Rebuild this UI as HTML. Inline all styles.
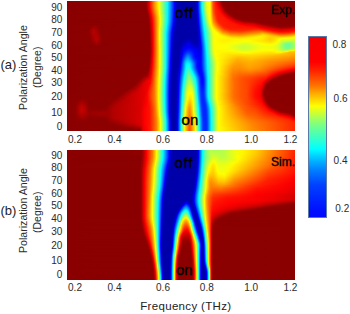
<!DOCTYPE html>
<html><head><meta charset="utf-8"><style>
html,body{margin:0;padding:0;background:#fff}
body{width:350px;height:314px;position:relative;overflow:hidden;font-family:"Liberation Sans",sans-serif;color:#2b2b2b}
.hm{position:absolute;overflow:hidden}
.hm i{position:absolute;left:0;width:100%;display:block}
.ty{position:absolute;width:30px;text-align:right;font-size:10px;line-height:10px;white-space:nowrap}
.tx{position:absolute;width:40px;text-align:center;font-size:10px;line-height:10px;white-space:nowrap}
.cl{position:absolute;font-size:10px;line-height:10px;white-space:nowrap}
.t{position:absolute;white-space:nowrap;line-height:1;color:#111}
.s{color:#000;-webkit-text-stroke:0.35px #000}
.rot{position:absolute;white-space:nowrap;transform-origin:0 0;transform:rotate(-90deg);line-height:1}
#cb{position:absolute;left:308px;top:36px;width:17px;height:180px;border:1px solid #5a78a8;
background:linear-gradient(180deg,#f80000 0px,#ff0000 25.0px,#ff2400 34.0px,#ff7500 49.0px,#ffb300 57.6px,#ffff00 69.0px,#bdff42 78.0px,#80ff80 87.0px,#38ffc7 101.0px,#00ffff 112.0px,#00b2ff 124.0px,#0080ff 133.0px,#0042ff 147.6px,#000fff 174.0px,#0008ff 181.0px)}
</style></head><body>
<div class="hm" style="left:67px;top:1px;width:228px;height:130px"><i style="top:0px;height:1px;background:linear-gradient(90deg,#8a0000 0.5px,#8c0000 78.5px,#970000 79.5px,#d10000 81.5px,#f40000 82.5px,#ff1600 83.5px,#ff9200 87.5px,#fff500 91.5px,#edff12 92.5px,#00fcff 100.5px,#0000fd 107.5px,#0000c0 109.5px,#0000af 110.5px,#0000a8 116.5px,#0000aa 127.5px,#0000b2 128.5px,#0000c8 129.5px,#0000f0 130.5px,#0027ff 131.5px,#00e6ff 134.5px,#21ffde 135.5px,#b6ff49 138.5px,#ddff22 139.5px,#f4ff0b 140.5px,#ffff00 142.5px,#ffe800 143.5px,#ff7200 145.5px,#ff4700 146.5px,#ff1a00 148.5px,#f60000 150.5px,#ca0000 152.5px,#950000 154.5px,#8a0000 156.5px,#8a0000 227.5px)"></i><i style="top:1px;height:1px;background:linear-gradient(90deg,#8a0000 0.5px,#8c0000 78.5px,#970000 79.5px,#d10000 81.5px,#f40000 82.5px,#ff1600 83.5px,#ff9200 87.5px,#fff500 91.5px,#edff12 92.5px,#00fcff 100.5px,#0000fd 107.5px,#0000c0 109.5px,#0000af 110.5px,#0000a8 116.5px,#0000aa 127.5px,#0000b2 128.5px,#0000c8 129.5px,#0000f0 130.5px,#0027ff 131.5px,#00e6ff 134.5px,#21ffde 135.5px,#b6ff49 138.5px,#ddff22 139.5px,#f4ff0b 140.5px,#ffff00 142.5px,#ffe800 143.5px,#ff7200 145.5px,#ff4700 146.5px,#ff1a00 148.5px,#f60000 150.5px,#cb0000 152.5px,#970000 154.5px,#8a0000 156.5px,#8a0000 227.5px)"></i><i style="top:2px;height:1px;background:linear-gradient(90deg,#8a0000 0.5px,#8c0000 78.5px,#970000 79.5px,#d10000 81.5px,#f40000 82.5px,#ff1600 83.5px,#ff9200 87.5px,#fff500 91.5px,#edff12 92.5px,#00fcff 100.5px,#0000fd 107.5px,#0000c0 109.5px,#0000af 110.5px,#0000a8 116.5px,#0000aa 127.5px,#0000b2 128.5px,#0000c8 129.5px,#0000f0 130.5px,#0027ff 131.5px,#00e6ff 134.5px,#21ffde 135.5px,#b6ff49 138.5px,#ddff22 139.5px,#f4ff0b 140.5px,#ffff00 142.5px,#ffe800 143.5px,#ff7200 145.5px,#ff4700 146.5px,#ff1a00 148.5px,#f80000 150.5px,#b40000 153.5px,#9b0000 154.5px,#8a0000 156.5px,#8a0000 227.5px)"></i><i style="top:3px;height:1px;background:linear-gradient(90deg,#8a0000 0.5px,#8c0000 78.5px,#970000 79.5px,#d10000 81.5px,#f30000 82.5px,#ff1600 83.5px,#ff9200 87.5px,#fff500 91.5px,#edff12 92.5px,#00fcff 100.5px,#0000fd 107.5px,#0000c0 109.5px,#0000af 110.5px,#0000a8 117.5px,#0000aa 127.5px,#0000b2 128.5px,#0000c8 129.5px,#0000f0 130.5px,#0027ff 131.5px,#00e6ff 134.5px,#21ffde 135.5px,#b6ff49 138.5px,#ddff22 139.5px,#f4ff0b 140.5px,#ffff00 142.5px,#ffe700 143.5px,#ff7200 145.5px,#ff4700 146.5px,#ff1c00 148.5px,#fd0000 150.5px,#be0000 153.5px,#920000 155.5px,#8a0000 159.5px,#8a0000 227.5px)"></i><i style="top:4px;height:1px;background:linear-gradient(90deg,#8a0000 0.5px,#8c0000 78.5px,#960000 79.5px,#d00000 81.5px,#f30000 82.5px,#ff1600 83.5px,#ff9100 87.5px,#fff400 91.5px,#eeff11 92.5px,#00fcff 100.5px,#0000fd 107.5px,#0000c0 109.5px,#0000af 110.5px,#0000a8 117.5px,#0000aa 127.5px,#0000b1 128.5px,#0000c8 129.5px,#0000f0 130.5px,#0026ff 131.5px,#00e6ff 134.5px,#21ffde 135.5px,#b6ff49 138.5px,#dcff23 139.5px,#f3ff0c 140.5px,#ffff00 142.5px,#ffe700 143.5px,#ff7200 145.5px,#ff4800 146.5px,#ff1e00 148.5px,#ff0400 150.5px,#e10000 152.5px,#9a0000 155.5px,#8a0000 157.5px,#8a0000 227.5px)"></i><i style="top:5px;height:1px;background:linear-gradient(90deg,#8a0000 0.5px,#8c0000 78.5px,#960000 79.5px,#ce0000 81.5px,#f10000 82.5px,#ff1400 83.5px,#ff9000 87.5px,#fff300 91.5px,#efff10 92.5px,#00fcff 100.5px,#0000fd 107.5px,#0000c0 109.5px,#0000af 110.5px,#0000a8 117.5px,#0000aa 127.5px,#0000b1 128.5px,#0000c7 129.5px,#0000ef 130.5px,#0026ff 131.5px,#00e4ff 134.5px,#1fffe0 135.5px,#b5ff4a 138.5px,#dcff23 139.5px,#f3ff0c 140.5px,#ffff00 142.5px,#ffe800 143.5px,#ff7300 145.5px,#ff4800 146.5px,#ff2000 148.5px,#fb0000 151.5px,#bd0000 154.5px,#920000 156.5px,#8a0000 160.5px,#8a0000 227.5px)"></i><i style="top:6px;height:1px;background:linear-gradient(90deg,#8a0000 0.5px,#8c0000 78.5px,#950000 79.5px,#cb0000 81.5px,#ed0000 82.5px,#ff1100 83.5px,#ff8d00 87.5px,#fff200 91.5px,#f0ff0f 92.5px,#00fcff 100.5px,#0000fc 107.5px,#0000c0 109.5px,#0000af 110.5px,#0000a8 117.5px,#0000aa 127.5px,#0000b1 128.5px,#0000c7 129.5px,#0000ee 130.5px,#0024ff 131.5px,#00e2ff 134.5px,#1dffe2 135.5px,#b2ff4d 138.5px,#daff25 139.5px,#f2ff0d 140.5px,#ffff00 142.5px,#ffe800 143.5px,#ff7500 145.5px,#ff4b00 146.5px,#ff2100 148.5px,#ff0300 151.5px,#e00000 153.5px,#9a0000 156.5px,#8a0000 158.5px,#8a0000 227.5px)"></i><i style="top:7px;height:1px;background:linear-gradient(90deg,#8a0000 0.5px,#8b0000 78.5px,#930000 79.5px,#a80000 80.5px,#e90000 82.5px,#ff0c00 83.5px,#ff8a00 87.5px,#fff000 91.5px,#f2ff0d 92.5px,#00fcff 100.5px,#0000fb 107.5px,#0000bf 109.5px,#0000af 110.5px,#0000a8 118.5px,#0000aa 127.5px,#0000b0 128.5px,#0000c5 129.5px,#0000ec 130.5px,#0022ff 131.5px,#00dfff 134.5px,#1affe5 135.5px,#afff50 138.5px,#d8ff27 139.5px,#f2ff0d 140.5px,#ffff00 142.5px,#ffe900 143.5px,#ff7800 145.5px,#ff4d00 146.5px,#ff2300 148.5px,#fb0000 152.5px,#bd0000 155.5px,#920000 157.5px,#8a0000 161.5px,#8a0000 227.5px)"></i><i style="top:8px;height:1px;background:linear-gradient(90deg,#8a0000 0.5px,#8b0000 78.5px,#920000 79.5px,#a40000 80.5px,#ff0600 83.5px,#ff8600 87.5px,#ffed00 91.5px,#f5ff0a 92.5px,#00fbff 100.5px,#001fff 106.5px,#0000fa 107.5px,#0000be 109.5px,#0000af 110.5px,#0000a8 119.5px,#0000a9 127.5px,#0000b0 128.5px,#0000c4 129.5px,#0000eb 130.5px,#0020ff 131.5px,#00dbff 134.5px,#15ffea 135.5px,#acff53 138.5px,#d5ff2a 139.5px,#f0ff0f 140.5px,#ffff00 142.5px,#ffe900 143.5px,#ff7a00 145.5px,#ff5000 146.5px,#ff2400 148.5px,#ff0300 152.5px,#ca0000 155.5px,#9a0000 157.5px,#8a0000 159.5px,#8a0000 227.5px)"></i><i style="top:9px;height:1px;background:linear-gradient(90deg,#8a0000 0.5px,#8b0000 78.5px,#900000 79.5px,#9f0000 80.5px,#ff0000 83.5px,#ff9d00 88.5px,#ffea00 91.5px,#f7ff08 92.5px,#00fbff 100.5px,#001eff 106.5px,#0000f9 107.5px,#0000be 109.5px,#0000ae 110.5px,#0000a8 121.5px,#0000af 128.5px,#0000c2 129.5px,#0000e8 130.5px,#001dff 131.5px,#00d6ff 134.5px,#11ffee 135.5px,#a7ff58 138.5px,#d2ff2d 139.5px,#efff10 140.5px,#ffff00 142.5px,#ffea00 143.5px,#ff7d00 145.5px,#ff5300 146.5px,#ff2600 148.5px,#ff0a00 152.5px,#fb0000 153.5px,#be0000 156.5px,#950000 158.5px,#8a0000 161.5px,#8a0000 227.5px)"></i><i style="top:10px;height:1px;background:linear-gradient(90deg,#8a0000 0.5px,#8e0000 79.5px,#9b0000 80.5px,#d50000 82.5px,#f80000 83.5px,#ff5d00 86.5px,#ffe700 91.5px,#fbff04 92.5px,#00fbff 100.5px,#001cff 106.5px,#0000f8 107.5px,#0000bd 109.5px,#0000a9 111.5px,#0000a9 127.5px,#0000ae 128.5px,#0000c0 129.5px,#0000e6 130.5px,#001aff 131.5px,#00d1ff 134.5px,#0bfff4 135.5px,#a2ff5d 138.5px,#cdff32 139.5px,#edff12 140.5px,#ffff00 142.5px,#ffeb00 143.5px,#ff8000 145.5px,#ff5600 146.5px,#ff2800 148.5px,#ff1000 152.5px,#ff0300 153.5px,#cd0000 156.5px,#a10000 158.5px,#8d0000 160.5px,#8a0000 227.5px)"></i><i style="top:11px;height:1px;background:linear-gradient(90deg,#8a0000 0.5px,#8c0000 79.5px,#960000 80.5px,#ce0000 82.5px,#f00000 83.5px,#ff1300 84.5px,#ff9300 88.5px,#feff01 92.5px,#00fbff 100.5px,#001bff 106.5px,#0000f6 107.5px,#0000bc 109.5px,#0000a9 111.5px,#0000ad 128.5px,#0000be 129.5px,#0000e3 130.5px,#0017ff 131.5px,#00cbff 134.5px,#05fffa 135.5px,#9cff63 138.5px,#c8ff37 139.5px,#e9ff16 140.5px,#ffff00 142.5px,#ffec00 143.5px,#ffbc00 144.5px,#ff8300 145.5px,#ff5900 146.5px,#ff2a00 148.5px,#ff1a00 150.5px,#ff0b00 153.5px,#fc0000 154.5px,#b40000 158.5px,#930000 160.5px,#8a0000 164.5px,#8a0000 227.5px)"></i><i style="top:12px;height:1px;background:linear-gradient(90deg,#8a0000 0.5px,#8b0000 79.5px,#930000 80.5px,#a80000 81.5px,#e80000 83.5px,#ff0b00 84.5px,#ffa900 89.5px,#fffd00 92.5px,#00faff 100.5px,#0019ff 106.5px,#0000f4 107.5px,#0000bb 109.5px,#0000a9 111.5px,#0000ac 128.5px,#0000bc 129.5px,#0000e0 130.5px,#0013ff 131.5px,#00feff 135.5px,#c2ff3d 139.5px,#e5ff1a 140.5px,#f7ff08 141.5px,#ffff00 142.5px,#ffec00 143.5px,#ffbe00 144.5px,#ff8600 145.5px,#ff5c00 146.5px,#ff2d00 148.5px,#ff1b00 150.5px,#ff1100 153.5px,#f90000 155.5px,#c90000 158.5px,#930000 161.5px,#8a0000 165.5px,#8a0000 227.5px)"></i><i style="top:13px;height:1px;background:linear-gradient(90deg,#8a0000 0.5px,#8b0000 79.5px,#910000 80.5px,#a20000 81.5px,#ff0400 84.5px,#ffa500 89.5px,#fffa00 92.5px,#c3ff3c 94.5px,#00faff 100.5px,#0017ff 106.5px,#0000f3 107.5px,#0000ba 109.5px,#0000a9 111.5px,#0000ab 128.5px,#0000ba 129.5px,#0000dd 130.5px,#0010ff 131.5px,#00f8ff 135.5px,#8eff71 138.5px,#e0ff1f 140.5px,#f5ff0a 141.5px,#feff01 142.5px,#ffed00 143.5px,#ffc100 144.5px,#ff8900 145.5px,#ff6000 146.5px,#ff3000 148.5px,#ff1b00 150.5px,#ff1000 154.5px,#f80000 156.5px,#c90000 159.5px,#940000 162.5px,#8a0000 167.5px,#8a0000 227.5px)"></i><i style="top:14px;height:1px;background:linear-gradient(90deg,#8a0000 0.5px,#8f0000 80.5px,#9d0000 81.5px,#fb0000 84.5px,#ffbc00 90.5px,#fff700 92.5px,#e8ff17 93.5px,#1dffe2 99.5px,#00f9ff 100.5px,#0015ff 106.5px,#0000f1 107.5px,#0000b9 109.5px,#0000a9 111.5px,#0000ab 128.5px,#0000b9 129.5px,#0000da 130.5px,#000cff 131.5px,#00f1ff 135.5px,#27ffd8 136.5px,#b5ff4a 139.5px,#dbff24 140.5px,#f3ff0c 141.5px,#feff01 142.5px,#ffef00 143.5px,#ffc400 144.5px,#ff8e00 145.5px,#ff6500 146.5px,#ff3400 148.5px,#ff1c00 150.5px,#ff0f00 155.5px,#f80000 157.5px,#980000 163.5px,#8a0000 167.5px,#8a0000 227.5px)"></i><i style="top:15px;height:1px;background:linear-gradient(90deg,#8a0000 0.5px,#8d0000 80.5px,#980000 81.5px,#d20000 83.5px,#f40000 84.5px,#ff1800 85.5px,#ffb900 90.5px,#fff400 92.5px,#eaff15 93.5px,#1dffe2 99.5px,#00f8ff 100.5px,#0013ff 106.5px,#0000ef 107.5px,#0000b8 109.5px,#0000a9 111.5px,#0000ab 128.5px,#0000b8 129.5px,#0009ff 131.5px,#00ebff 135.5px,#20ffdf 136.5px,#aeff51 139.5px,#d6ff29 140.5px,#f1ff0e 141.5px,#fdff02 142.5px,#fff000 143.5px,#ffc800 144.5px,#ff9300 145.5px,#ff6b00 146.5px,#ff2700 149.5px,#ff1a00 151.5px,#ff0f00 156.5px,#f80000 158.5px,#a00000 164.5px,#8c0000 167.5px,#8a0000 227.5px)"></i><i style="top:16px;height:1px;background:linear-gradient(90deg,#8a0000 0.5px,#8c0000 80.5px,#950000 81.5px,#cc0000 83.5px,#ee0000 84.5px,#ff1200 85.5px,#ffb500 90.5px,#fff100 92.5px,#edff12 93.5px,#1dffe2 99.5px,#00f8ff 100.5px,#0010ff 106.5px,#0000ed 107.5px,#0000b7 109.5px,#0000a9 111.5px,#0000ab 128.5px,#0000b7 129.5px,#0000d5 130.5px,#0005ff 131.5px,#00e5ff 135.5px,#1affe5 136.5px,#d0ff2f 140.5px,#eeff11 141.5px,#fcff03 142.5px,#fff200 143.5px,#ffcc00 144.5px,#ff9900 145.5px,#ff7100 146.5px,#ff2b00 149.5px,#ff1a00 151.5px,#ff1600 156.5px,#f90000 159.5px,#940000 167.5px,#8a0000 173.5px,#8a0000 227.5px)"></i><i style="top:17px;height:1px;background:linear-gradient(90deg,#8a0000 0.5px,#8b0000 80.5px,#930000 81.5px,#a80000 82.5px,#e90000 84.5px,#ff0d00 85.5px,#ffb300 90.5px,#ffef00 92.5px,#eeff11 93.5px,#1dffe2 99.5px,#00f7ff 100.5px,#000eff 106.5px,#0000eb 107.5px,#0000b5 109.5px,#0000a9 111.5px,#0000aa 128.5px,#0000b5 129.5px,#0000d3 130.5px,#0002ff 131.5px,#00dfff 135.5px,#14ffeb 136.5px,#caff35 140.5px,#eaff15 141.5px,#fbff04 142.5px,#fff400 143.5px,#ffd100 144.5px,#ff9f00 145.5px,#ff7700 146.5px,#ff2f00 149.5px,#ff1b00 151.5px,#ff1600 157.5px,#fb0000 160.5px,#c20000 165.5px,#9b0000 168.5px,#8b0000 173.5px,#8a0000 227.5px)"></i><i style="top:18px;height:1px;background:linear-gradient(90deg,#8a0000 0.5px,#8b0000 80.5px,#920000 81.5px,#a50000 82.5px,#e50000 84.5px,#ff0900 85.5px,#ffb100 90.5px,#ffee00 92.5px,#efff10 93.5px,#1cffe3 99.5px,#00f6ff 100.5px,#000cff 106.5px,#0000e8 107.5px,#0000b4 109.5px,#0000a9 111.5px,#0000aa 128.5px,#0000b4 129.5px,#0000d0 130.5px,#0000fd 131.5px,#00d9ff 135.5px,#0efff1 136.5px,#c3ff3c 140.5px,#e5ff1a 141.5px,#f8ff07 142.5px,#fff600 143.5px,#ffd500 144.5px,#ff7d00 146.5px,#ff3400 149.5px,#ff1c00 151.5px,#ff1100 159.5px,#f80000 162.5px,#9f0000 170.5px,#8c0000 175.5px,#8a0000 227.5px)"></i><i style="top:19px;height:1px;background:linear-gradient(90deg,#8a0000 0.5px,#8b0000 80.5px,#910000 81.5px,#a20000 82.5px,#ff0600 85.5px,#ffb000 90.5px,#ffee00 92.5px,#efff10 93.5px,#1bffe4 99.5px,#00f5ff 100.5px,#0009ff 106.5px,#0000c8 108.5px,#0000b3 109.5px,#0000a8 111.5px,#0000aa 128.5px,#0000b3 129.5px,#0000ce 130.5px,#0000fa 131.5px,#00d4ff 135.5px,#08fff7 136.5px,#bbff44 140.5px,#dfff20 141.5px,#f6ff09 142.5px,#fff800 143.5px,#ffda00 144.5px,#ff8400 146.5px,#ff3c00 149.5px,#ff1f00 151.5px,#ff1300 160.5px,#fe0000 163.5px,#980000 174.5px,#8d0000 182.5px,#8a0000 227.5px)"></i><i style="top:20px;height:1px;background:linear-gradient(90deg,#8a0000 0.5px,#8b0000 80.5px,#900000 81.5px,#a00000 82.5px,#ff0300 85.5px,#ffaf00 90.5px,#ffee00 92.5px,#efff10 93.5px,#19ffe6 99.5px,#00f3ff 100.5px,#0006ff 106.5px,#0000c6 108.5px,#0000b2 109.5px,#0000a8 112.5px,#0000aa 128.5px,#0000b2 129.5px,#0000cb 130.5px,#0000f7 131.5px,#002cff 132.5px,#03fffc 136.5px,#b3ff4c 140.5px,#d8ff27 141.5px,#f2ff0d 142.5px,#fffb00 143.5px,#ffdf00 144.5px,#ff8d00 146.5px,#ff3300 150.5px,#ff1d00 152.5px,#ff1200 162.5px,#fc0000 165.5px,#a20000 176.5px,#8a0000 194.5px,#8a0000 227.5px)"></i><i style="top:21px;height:1px;background:linear-gradient(90deg,#8a0000 0.5px,#8a0000 80.5px,#8f0000 81.5px,#9e0000 82.5px,#ff0100 85.5px,#ffaf00 90.5px,#ffef00 92.5px,#eeff11 93.5px,#17ffe8 99.5px,#00f0ff 100.5px,#0002ff 106.5px,#0000c4 108.5px,#0000b1 109.5px,#0000a8 112.5px,#0000aa 128.5px,#0000b1 129.5px,#0000c9 130.5px,#0000f3 131.5px,#0028ff 132.5px,#00fdff 136.5px,#d0ff2f 141.5px,#edff12 142.5px,#ffff00 143.5px,#ffe500 144.5px,#ff9700 146.5px,#ff3e00 150.5px,#ff2100 152.5px,#ff1900 159.5px,#ff1100 164.5px,#f50000 168.5px,#bb0000 177.5px,#a10000 187.5px,#8b0000 194.5px,#8a0000 227.5px)"></i><i style="top:22px;height:1px;background:linear-gradient(90deg,#8a0000 0.5px,#8e0000 81.5px,#9c0000 82.5px,#d90000 84.5px,#fe0000 85.5px,#ffcf00 91.5px,#fff000 92.5px,#edff12 93.5px,#14ffeb 99.5px,#00ecff 100.5px,#0022ff 105.5px,#0000fc 106.5px,#0000c1 108.5px,#0000b0 109.5px,#0000a8 113.5px,#0000a9 128.5px,#0000b0 129.5px,#0000c6 130.5px,#0000ef 131.5px,#0023ff 132.5px,#00f7ff 136.5px,#4effb1 138.5px,#c6ff39 141.5px,#e5ff1a 142.5px,#fbff04 143.5px,#ffeb00 144.5px,#ffa400 146.5px,#ff3700 151.5px,#ff1f00 153.5px,#ff1100 166.5px,#fb0000 170.5px,#d60000 177.5px,#c30000 186.5px,#960000 193.5px,#8a0000 205.5px,#8a0000 227.5px)"></i><i style="top:23px;height:1px;background:linear-gradient(90deg,#8a0000 0.5px,#8a0000 31.5px,#8d0000 81.5px,#9a0000 82.5px,#d70000 84.5px,#fb0000 85.5px,#fff100 92.5px,#ebff14 93.5px,#10ffef 99.5px,#00e7ff 100.5px,#001dff 105.5px,#0000f7 106.5px,#0000be 108.5px,#0000a9 110.5px,#0000a9 128.5px,#0000af 129.5px,#0000c3 130.5px,#0000eb 131.5px,#001fff 132.5px,#00f1ff 136.5px,#1fffe0 137.5px,#dcff23 142.5px,#f6ff09 143.5px,#fff100 144.5px,#ff9900 147.5px,#ff3400 152.5px,#ff1b00 155.5px,#ff1300 168.5px,#fb0000 173.5px,#e80000 180.5px,#d70000 187.5px,#9e0000 196.5px,#8b0000 205.5px,#8b0000 227.5px)"></i><i style="top:24px;height:1px;background:linear-gradient(90deg,#8a0000 0.5px,#8e0000 24.5px,#920000 28.5px,#8a0000 36.5px,#8d0000 81.5px,#980000 82.5px,#d40000 84.5px,#f90000 85.5px,#ffd100 91.5px,#fff300 92.5px,#e9ff16 93.5px,#0bfff4 99.5px,#00e2ff 100.5px,#0017ff 105.5px,#0000f2 106.5px,#0000bb 108.5px,#0000a9 110.5px,#0000ae 129.5px,#0000c0 130.5px,#0000e7 131.5px,#001aff 132.5px,#00ecff 136.5px,#19ffe6 137.5px,#d2ff2d 142.5px,#efff10 143.5px,#fff700 144.5px,#ff9000 148.5px,#ff3300 153.5px,#ff1b00 156.5px,#ff1200 171.5px,#fd0000 178.5px,#ec0000 187.5px,#930000 204.5px,#8b0000 220.5px,#910000 227.5px)"></i><i style="top:25px;height:1px;background:linear-gradient(90deg,#8a0000 0.5px,#8e0000 23.5px,#9b0000 27.5px,#8a0000 33.5px,#8c0000 81.5px,#970000 82.5px,#d20000 84.5px,#f70000 85.5px,#ff4300 87.5px,#fff400 92.5px,#e7ff18 93.5px,#06fff9 99.5px,#008aff 102.5px,#0011ff 105.5px,#0000ed 106.5px,#0000b8 108.5px,#0000a9 110.5px,#0000ad 129.5px,#0000bd 130.5px,#0000e2 131.5px,#0015ff 132.5px,#00e6ff 136.5px,#13ffec 137.5px,#e6ff19 143.5px,#feff01 144.5px,#ff7800 150.5px,#ff2800 155.5px,#ff1a00 158.5px,#ff1100 175.5px,#f90000 188.5px,#ad0000 203.5px,#900000 211.5px,#960000 223.5px,#a30000 227.5px)"></i><i style="top:26px;height:1px;background:linear-gradient(90deg,#8a0000 0.5px,#8c0000 22.5px,#a20000 27.5px,#8a0000 32.5px,#8c0000 81.5px,#960000 82.5px,#d00000 84.5px,#f50000 85.5px,#ff1c00 86.5px,#fff600 92.5px,#c1ff3e 94.5px,#01fffe 99.5px,#000aff 105.5px,#0000e7 106.5px,#0000b5 108.5px,#0000a9 110.5px,#0000ac 129.5px,#0000bb 130.5px,#0000de 131.5px,#0010ff 132.5px,#00e1ff 136.5px,#0dfff2 137.5px,#dbff24 143.5px,#f5ff0a 144.5px,#fff500 145.5px,#ff7700 151.5px,#ff2a00 156.5px,#ff1b00 160.5px,#ff0f00 187.5px,#fa0000 192.5px,#b90000 206.5px,#9a0000 214.5px,#a70000 222.5px,#bf0000 227.5px)"></i><i style="top:27px;height:1px;background:linear-gradient(90deg,#8a0000 0.5px,#8d0000 22.5px,#a90000 26.5px,#9e0000 29.5px,#8b0000 32.5px,#8c0000 81.5px,#950000 82.5px,#ce0000 84.5px,#f30000 85.5px,#ff1a00 86.5px,#fff800 92.5px,#9bff64 95.5px,#00fbff 99.5px,#0004ff 105.5px,#0000c6 107.5px,#0000b2 108.5px,#0000a8 111.5px,#0000ab 129.5px,#0000b9 130.5px,#0000db 131.5px,#000bff 132.5px,#00dbff 136.5px,#08fff7 137.5px,#d1ff2e 143.5px,#feff01 145.5px,#ff6700 153.5px,#ff2f00 157.5px,#ff1b00 163.5px,#ff1a00 190.5px,#fb0000 197.5px,#b40000 214.5px,#c40000 222.5px,#da0000 227.5px)"></i><i style="top:28px;height:1px;background:linear-gradient(90deg,#8a0000 0.5px,#8e0000 22.5px,#b00000 26.5px,#a30000 29.5px,#8c0000 32.5px,#8c0000 81.5px,#950000 82.5px,#ac0000 83.5px,#f10000 85.5px,#ff1900 86.5px,#fffa00 92.5px,#72ff8d 96.5px,#21ffde 98.5px,#00f6ff 99.5px,#0024ff 104.5px,#0000fd 105.5px,#0000c2 107.5px,#0000b1 108.5px,#0000a8 112.5px,#0000ab 129.5px,#0000b8 130.5px,#0006ff 132.5px,#00d6ff 136.5px,#03fffc 137.5px,#e3ff1c 144.5px,#f7ff08 145.5px,#ffee00 147.5px,#ff6a00 154.5px,#ff4200 157.5px,#ff2200 163.5px,#ff2100 179.5px,#ff3200 191.5px,#fa0000 202.5px,#d10000 214.5px,#e10000 223.5px,#ee0000 227.5px)"></i><i style="top:29px;height:1px;background:linear-gradient(90deg,#8a0000 0.5px,#8b0000 21.5px,#b40000 26.5px,#a70000 29.5px,#8b0000 33.5px,#8b0000 81.5px,#940000 82.5px,#aa0000 83.5px,#f00000 85.5px,#ff1700 86.5px,#fffc00 92.5px,#6fff90 96.5px,#1dffe2 98.5px,#00f1ff 99.5px,#001eff 104.5px,#0000f8 105.5px,#0000bf 107.5px,#0000a9 109.5px,#0000ab 129.5px,#0000b7 130.5px,#0000d4 131.5px,#0001ff 132.5px,#00d1ff 136.5px,#00feff 137.5px,#dbff24 144.5px,#f1ff0e 145.5px,#fffa00 147.5px,#ffc700 150.5px,#ff6e00 155.5px,#ff3b00 161.5px,#ff2a00 167.5px,#ff2b00 176.5px,#ff5000 192.5px,#ff2d00 198.5px,#ff0000 206.5px,#e80000 214.5px,#f90000 224.5px,#ff0400 227.5px)"></i><i style="top:30px;height:1px;background:linear-gradient(90deg,#8a0000 0.5px,#8b0000 21.5px,#b70000 26.5px,#aa0000 29.5px,#8b0000 33.5px,#8b0000 81.5px,#940000 82.5px,#a90000 83.5px,#ef0000 85.5px,#ff1600 86.5px,#fffe00 92.5px,#43ffbc 97.5px,#19ffe6 98.5px,#00edff 99.5px,#0018ff 104.5px,#0000f3 105.5px,#0000bb 107.5px,#0000a9 109.5px,#0000aa 129.5px,#0000b5 130.5px,#0000d1 131.5px,#0000fb 132.5px,#00f9ff 137.5px,#b6ff49 143.5px,#ecff13 145.5px,#feff01 147.5px,#ffef00 149.5px,#ff8300 155.5px,#ff4600 163.5px,#ff3a00 174.5px,#ff7000 194.5px,#ff1400 207.5px,#fd0000 213.5px,#ff0800 222.5px,#ff1f00 227.5px)"></i><i style="top:31px;height:1px;background:linear-gradient(90deg,#8a0000 0.5px,#8b0000 21.5px,#b70000 26.5px,#ad0000 29.5px,#8c0000 33.5px,#8b0000 81.5px,#930000 82.5px,#a80000 83.5px,#ee0000 85.5px,#ff1500 86.5px,#ffff00 92.5px,#41ffbe 97.5px,#16ffe9 98.5px,#00e9ff 99.5px,#0013ff 104.5px,#0000ee 105.5px,#0000b8 107.5px,#0000a9 109.5px,#0000aa 129.5px,#0000b4 130.5px,#0000ce 131.5px,#0000f7 132.5px,#0029ff 133.5px,#00f4ff 137.5px,#1affe5 138.5px,#e7ff18 145.5px,#f7ff08 146.5px,#fffc00 149.5px,#ffe100 151.5px,#ff9b00 155.5px,#ff5e00 163.5px,#ff5000 173.5px,#ff8200 191.5px,#ff9300 195.5px,#ff2900 209.5px,#ff1700 214.5px,#ff2500 222.5px,#ff4300 227.5px)"></i><i style="top:32px;height:1px;background:linear-gradient(90deg,#8a0000 0.5px,#8b0000 21.5px,#b60000 26.5px,#af0000 29.5px,#8b0000 34.5px,#8b0000 81.5px,#930000 82.5px,#a70000 83.5px,#ed0000 85.5px,#ff1500 86.5px,#feff01 92.5px,#69ff96 96.5px,#13ffec 98.5px,#00e7ff 99.5px,#000fff 104.5px,#0000ea 105.5px,#0000b6 107.5px,#0000a9 109.5px,#0000aa 129.5px,#0000b3 130.5px,#0000cb 131.5px,#0000f3 132.5px,#0024ff 133.5px,#00f0ff 137.5px,#16ffe9 138.5px,#e3ff1c 145.5px,#f5ff0a 146.5px,#fffe00 150.5px,#ffab00 156.5px,#ff7700 163.5px,#ff6a00 174.5px,#ff9d00 191.5px,#ffb600 195.5px,#ff9f00 199.5px,#ff4200 211.5px,#ff3b00 216.5px,#ff4b00 222.5px,#ff6d00 227.5px)"></i><i style="top:33px;height:1px;background:linear-gradient(90deg,#8a0000 0.5px,#8f0000 22.5px,#b30000 26.5px,#b10000 29.5px,#8b0000 34.5px,#8b0000 81.5px,#920000 82.5px,#a60000 83.5px,#ec0000 85.5px,#ff1400 86.5px,#fdff02 92.5px,#68ff97 96.5px,#12ffed 98.5px,#00e5ff 99.5px,#000bff 104.5px,#0000e6 105.5px,#0000b4 107.5px,#0000a8 109.5px,#0000aa 129.5px,#0000b2 130.5px,#0000c9 131.5px,#0000ef 132.5px,#001fff 133.5px,#00ebff 137.5px,#12ffed 138.5px,#e0ff1f 145.5px,#f4ff0b 146.5px,#fdff02 148.5px,#fffe00 151.5px,#ffac00 159.5px,#ff9100 163.5px,#ff8400 174.5px,#ffb900 191.5px,#ffd500 196.5px,#ff6700 212.5px,#ff6700 217.5px,#ff7d00 223.5px,#ff9800 227.5px)"></i><i style="top:34px;height:1px;background:linear-gradient(90deg,#8a0000 0.5px,#8e0000 22.5px,#b40000 27.5px,#ad0000 30.5px,#8c0000 34.5px,#8b0000 81.5px,#920000 82.5px,#a50000 83.5px,#ec0000 85.5px,#ff1400 86.5px,#fdff02 92.5px,#68ff97 96.5px,#11ffee 98.5px,#00e4ff 99.5px,#0008ff 104.5px,#0000c6 106.5px,#0000b2 107.5px,#0000a8 110.5px,#0000aa 129.5px,#0000b1 130.5px,#0000c6 131.5px,#0000eb 132.5px,#001aff 133.5px,#00e6ff 137.5px,#0efff1 138.5px,#deff21 145.5px,#f3ff0c 146.5px,#fdff02 148.5px,#fffa00 153.5px,#ffac00 163.5px,#ff9d00 173.5px,#ffd600 191.5px,#ffe600 196.5px,#ff9000 213.5px,#ff9c00 221.5px,#ffc100 227.5px)"></i><i style="top:35px;height:1px;background:linear-gradient(90deg,#8a0000 0.5px,#8d0000 22.5px,#b30000 27.5px,#b00000 30.5px,#8c0000 34.5px,#8b0000 81.5px,#910000 82.5px,#a40000 83.5px,#eb0000 85.5px,#ff1400 86.5px,#fdff02 92.5px,#68ff97 96.5px,#11ffee 98.5px,#00e3ff 99.5px,#0005ff 104.5px,#0000c4 106.5px,#0000b1 107.5px,#0000a8 110.5px,#0000aa 129.5px,#0000b1 130.5px,#0000c4 131.5px,#0000e7 132.5px,#0015ff 133.5px,#00e1ff 137.5px,#0afff5 138.5px,#dcff23 145.5px,#f2ff0d 146.5px,#feff01 148.5px,#fff900 155.5px,#ffc500 164.5px,#ffbb00 174.5px,#fff000 193.5px,#ffe500 197.5px,#ffcd00 203.5px,#ffc400 210.5px,#ffb900 215.5px,#ffcf00 223.5px,#ffe600 227.5px)"></i><i style="top:36px;height:1px;background:linear-gradient(90deg,#8a0000 0.5px,#8c0000 22.5px,#b60000 28.5px,#aa0000 31.5px,#8d0000 34.5px,#8b0000 81.5px,#910000 82.5px,#a30000 83.5px,#eb0000 85.5px,#ff1400 86.5px,#feff01 92.5px,#68ff97 96.5px,#11ffee 98.5px,#00e3ff 99.5px,#0003ff 104.5px,#0000c2 106.5px,#0000b0 107.5px,#0000a8 111.5px,#0000ab 129.5px,#0000b1 130.5px,#0000c2 131.5px,#0000e3 132.5px,#0010ff 133.5px,#00dcff 137.5px,#07fff8 138.5px,#dbff24 145.5px,#f1ff0e 146.5px,#ffff00 148.5px,#fff200 159.5px,#ffdb00 166.5px,#ffda00 175.5px,#fff100 187.5px,#fff000 194.5px,#ffce00 202.5px,#ffe000 212.5px,#ffed00 222.5px,#fbff04 227.5px)"></i><i style="top:37px;height:1px;background:linear-gradient(90deg,#8a0000 0.5px,#8f0000 23.5px,#b70000 28.5px,#b50000 30.5px,#8d0000 34.5px,#8b0000 81.5px,#910000 82.5px,#a30000 83.5px,#ea0000 85.5px,#ff1400 86.5px,#ffff00 92.5px,#68ff97 96.5px,#11ffee 98.5px,#00e3ff 99.5px,#0001ff 104.5px,#0000c0 106.5px,#0000af 107.5px,#0000a8 113.5px,#0000ad 122.5px,#0000ac 129.5px,#0000b1 130.5px,#0000c1 131.5px,#0000e0 132.5px,#000bff 133.5px,#00d7ff 137.5px,#03fffc 138.5px,#daff25 145.5px,#f1ff0e 146.5px,#fffd00 148.5px,#ffeb00 172.5px,#fff500 186.5px,#ffe900 195.5px,#ffcc00 202.5px,#ffdb00 207.5px,#fffe00 214.5px,#efff10 224.5px,#e6ff19 227.5px)"></i><i style="top:38px;height:1px;background:linear-gradient(90deg,#8a0000 0.5px,#8d0000 23.5px,#b60000 28.5px,#b40000 30.5px,#8d0000 34.5px,#8b0000 81.5px,#900000 82.5px,#a20000 83.5px,#ea0000 85.5px,#ff1300 86.5px,#ffff00 92.5px,#68ff97 96.5px,#11ffee 98.5px,#00e2ff 99.5px,#0000fe 104.5px,#0000be 106.5px,#0000af 107.5px,#0000a9 116.5px,#0000b8 121.5px,#0000ab 126.5px,#0000b2 130.5px,#0000c0 131.5px,#0006ff 133.5px,#00d1ff 137.5px,#00feff 138.5px,#d9ff26 145.5px,#f0ff0f 146.5px,#fdff02 147.5px,#fff200 157.5px,#fffa00 176.5px,#ffea00 194.5px,#ffcd00 202.5px,#ffdb00 207.5px,#faff05 212.5px,#e9ff16 215.5px,#d7ff28 227.5px)"></i><i style="top:39px;height:1px;background:linear-gradient(90deg,#8a0000 0.5px,#8c0000 23.5px,#b50000 29.5px,#8d0000 34.5px,#8b0000 81.5px,#900000 82.5px,#a10000 83.5px,#e90000 85.5px,#ff1300 86.5px,#fffe00 92.5px,#68ff97 96.5px,#11ffee 98.5px,#00e2ff 99.5px,#0027ff 103.5px,#0000fc 104.5px,#0000bc 106.5px,#0000ae 107.5px,#0000aa 116.5px,#0000c3 121.5px,#0000ab 126.5px,#0000b3 130.5px,#0000bf 131.5px,#0000da 132.5px,#0001ff 133.5px,#00f9ff 138.5px,#d8ff27 145.5px,#f0ff0f 146.5px,#fdff02 147.5px,#fff100 156.5px,#fffe00 181.5px,#ffe400 196.5px,#ffd100 203.5px,#ffed00 209.5px,#feff01 211.5px,#dcff23 214.5px,#c9ff36 227.5px)"></i><i style="top:40px;height:1px;background:linear-gradient(90deg,#8a0000 0.5px,#8e0000 24.5px,#b00000 29.5px,#8c0000 34.5px,#8a0000 81.5px,#8f0000 82.5px,#a00000 83.5px,#e90000 85.5px,#ff1300 86.5px,#fffc00 92.5px,#68ff97 96.5px,#11ffee 98.5px,#00e2ff 99.5px,#0026ff 103.5px,#0000fa 104.5px,#0000ba 106.5px,#0000a9 108.5px,#0000ad 116.5px,#0000cf 121.5px,#0000ad 126.5px,#0000b4 130.5px,#0000c0 131.5px,#0000d8 132.5px,#0000fc 133.5px,#005dff 135.5px,#00f5ff 138.5px,#1cffe3 139.5px,#d7ff28 145.5px,#efff10 146.5px,#fdff02 147.5px,#fff200 156.5px,#f9ff06 174.5px,#f9ff06 181.5px,#ffe900 196.5px,#ffd900 203.5px,#fff400 209.5px,#f6ff09 211.5px,#c6ff39 215.5px,#b2ff4d 224.5px,#bdff42 227.5px)"></i><i style="top:41px;height:1px;background:linear-gradient(90deg,#8a0000 0.5px,#8c0000 24.5px,#aa0000 29.5px,#8a0000 35.5px,#8f0000 82.5px,#9f0000 83.5px,#e80000 85.5px,#ff1300 86.5px,#fffb00 92.5px,#68ff97 96.5px,#11ffee 98.5px,#00e1ff 99.5px,#0024ff 103.5px,#0000f8 104.5px,#0000d3 105.5px,#0000b8 106.5px,#0000a9 108.5px,#0000ac 115.5px,#0000da 121.5px,#0000ae 127.5px,#0000b5 130.5px,#0000c0 131.5px,#0000d7 132.5px,#0000f9 133.5px,#0025ff 134.5px,#00f0ff 138.5px,#18ffe7 139.5px,#d6ff29 145.5px,#efff10 146.5px,#fcff03 147.5px,#fff500 156.5px,#f9ff06 169.5px,#ebff14 179.5px,#fffb00 190.5px,#ffe300 203.5px,#fffd00 209.5px,#dfff20 212.5px,#acff53 216.5px,#92ff6d 221.5px,#97ff68 224.5px,#b3ff4c 227.5px)"></i><i style="top:42px;height:1px;background:linear-gradient(90deg,#8a0000 0.5px,#8f0000 25.5px,#a30000 29.5px,#8a0000 35.5px,#8e0000 82.5px,#9e0000 83.5px,#e80000 85.5px,#ff1300 86.5px,#fffa00 92.5px,#68ff97 96.5px,#11ffee 98.5px,#00e1ff 99.5px,#0022ff 103.5px,#0000f6 104.5px,#0000d1 105.5px,#0000b7 106.5px,#0000a9 108.5px,#0000ab 114.5px,#0000e0 120.5px,#0000e0 122.5px,#0000b3 127.5px,#0000b7 130.5px,#0000c2 131.5px,#0000d7 132.5px,#0000f6 133.5px,#0020ff 134.5px,#00ebff 138.5px,#15ffea 139.5px,#d6ff29 145.5px,#eeff11 146.5px,#fcff03 147.5px,#fff800 156.5px,#f8ff07 166.5px,#dfff20 178.5px,#fffe00 193.5px,#ffef00 203.5px,#feff01 208.5px,#d6ff29 212.5px,#8dff72 217.5px,#76ff89 220.5px,#7cff83 223.5px,#aaff55 227.5px)"></i><i style="top:43px;height:1px;background:linear-gradient(90deg,#8a0000 0.5px,#8c0000 25.5px,#9b0000 29.5px,#8a0000 35.5px,#8e0000 82.5px,#9d0000 83.5px,#e70000 85.5px,#ff1300 86.5px,#fff900 92.5px,#91ff6e 95.5px,#10ffef 98.5px,#00e1ff 99.5px,#0021ff 103.5px,#0000f4 104.5px,#0000cf 105.5px,#0000b5 106.5px,#0000a8 108.5px,#0000ae 114.5px,#0000e9 120.5px,#0000e9 122.5px,#0000b5 128.5px,#0000b9 130.5px,#0000d7 132.5px,#0000f4 133.5px,#001cff 134.5px,#00e6ff 138.5px,#11ffee 139.5px,#d5ff2a 145.5px,#edff12 146.5px,#fbff04 147.5px,#fffb00 156.5px,#f1ff0e 166.5px,#d4ff2b 177.5px,#ffff00 197.5px,#fffe00 205.5px,#e5ff1a 210.5px,#9dff62 215.5px,#6cff93 219.5px,#6cff93 222.5px,#a3ff5c 227.5px)"></i><i style="top:44px;height:1px;background:linear-gradient(90deg,#8a0000 0.5px,#8d0000 26.5px,#930000 30.5px,#8a0000 38.5px,#8e0000 82.5px,#9c0000 83.5px,#e70000 85.5px,#ff1300 86.5px,#fff800 92.5px,#b9ff46 94.5px,#10ffef 98.5px,#00e1ff 99.5px,#001fff 103.5px,#0000f2 104.5px,#0000cd 105.5px,#0000b4 106.5px,#0000a8 108.5px,#0000ab 113.5px,#0000e9 119.5px,#0000f3 121.5px,#0000d2 126.5px,#0000bb 129.5px,#0000c6 131.5px,#0000f2 133.5px,#0018ff 134.5px,#00e1ff 138.5px,#0dfff2 139.5px,#b6ff49 144.5px,#edff12 146.5px,#fffe00 148.5px,#f8ff07 161.5px,#cdff32 176.5px,#d9ff26 183.5px,#f7ff08 196.5px,#f7ff08 205.5px,#deff21 210.5px,#71ff8e 218.5px,#66ff99 221.5px,#7cff83 224.5px,#a0ff5f 227.5px)"></i><i style="top:45px;height:1px;background:linear-gradient(90deg,#8a0000 0.5px,#8a0000 33.5px,#8d0000 82.5px,#9c0000 83.5px,#e70000 85.5px,#ff1300 86.5px,#fff700 92.5px,#baff45 94.5px,#10ffef 98.5px,#00e0ff 99.5px,#001dff 103.5px,#0000f0 104.5px,#0000cc 105.5px,#0000b4 106.5px,#0000a8 108.5px,#0000ad 113.5px,#0000e3 117.5px,#0000fa 121.5px,#0000d6 127.5px,#0000c4 130.5px,#0000d9 132.5px,#0000f1 133.5px,#0015ff 134.5px,#00ddff 138.5px,#0afff5 139.5px,#b5ff4a 144.5px,#ecff13 146.5px,#fffe00 148.5px,#f8ff07 160.5px,#caff35 175.5px,#d1ff2e 182.5px,#f1ff0e 194.5px,#f1ff0e 205.5px,#daff25 210.5px,#73ff8c 218.5px,#68ff97 221.5px,#7dff82 224.5px,#9fff60 227.5px)"></i><i style="top:46px;height:1px;background:linear-gradient(90deg,#8a0000 0.5px,#8d0000 82.5px,#9b0000 83.5px,#bc0000 84.5px,#e70000 85.5px,#ff1300 86.5px,#fff700 92.5px,#baff45 94.5px,#10ffef 98.5px,#00e0ff 99.5px,#001cff 103.5px,#0000ef 104.5px,#0000ca 105.5px,#0000b3 106.5px,#0000a8 108.5px,#0000aa 112.5px,#0000c0 114.5px,#0000e3 116.5px,#0001ff 121.5px,#0000dc 128.5px,#0000ce 130.5px,#0000db 132.5px,#0000f1 133.5px,#0013ff 134.5px,#00d8ff 138.5px,#06fff9 139.5px,#b3ff4c 144.5px,#ebff14 146.5px,#fffe00 148.5px,#f8ff07 160.5px,#c9ff36 175.5px,#d1ff2e 182.5px,#f1ff0e 194.5px,#f0ff0f 205.5px,#daff25 210.5px,#78ff87 218.5px,#6fff90 221.5px,#83ff7c 224.5px,#a3ff5c 227.5px)"></i><i style="top:47px;height:1px;background:linear-gradient(90deg,#8a0000 0.5px,#8d0000 82.5px,#9b0000 83.5px,#bc0000 84.5px,#e60000 85.5px,#ff1200 86.5px,#fff600 92.5px,#e2ff1d 93.5px,#10ffef 98.5px,#00e0ff 99.5px,#001aff 103.5px,#0000ec 104.5px,#0000c8 105.5px,#0000b2 106.5px,#0000a8 108.5px,#0000ac 112.5px,#0000c7 114.5px,#0000ec 116.5px,#0001ff 119.5px,#0006ff 122.5px,#0000e8 128.5px,#0000d7 131.5px,#0000de 132.5px,#0000f1 133.5px,#0011ff 134.5px,#00a3ff 137.5px,#03fffc 139.5px,#b2ff4d 144.5px,#eaff15 146.5px,#faff05 147.5px,#fffe00 156.5px,#eaff15 166.5px,#ccff33 175.5px,#d4ff2b 182.5px,#f4ff0b 194.5px,#f2ff0d 205.5px,#deff21 210.5px,#81ff7e 218.5px,#7cff83 221.5px,#afff50 227.5px)"></i><i style="top:48px;height:1px;background:linear-gradient(90deg,#8a0000 0.5px,#8d0000 82.5px,#9b0000 83.5px,#bb0000 84.5px,#e60000 85.5px,#ff1200 86.5px,#fff600 92.5px,#e2ff1d 93.5px,#10ffef 98.5px,#00dfff 99.5px,#0018ff 103.5px,#0000ea 104.5px,#0000c7 105.5px,#0000b1 106.5px,#0000a8 109.5px,#0000ad 112.5px,#0000ce 114.5px,#0000f4 116.5px,#0004ff 118.5px,#0011ff 121.5px,#0000fb 126.5px,#0000dd 131.5px,#0000e1 132.5px,#0000f2 133.5px,#0010ff 134.5px,#006dff 136.5px,#00ffff 139.5px,#90ff6f 143.5px,#e9ff16 146.5px,#f9ff06 147.5px,#fffa00 155.5px,#f3ff0c 165.5px,#d2ff2d 176.5px,#deff21 183.5px,#fbff04 195.5px,#f8ff07 205.5px,#e4ff1b 210.5px,#92ff6d 218.5px,#95ff6a 220.5px,#d3ff2c 227.5px)"></i><i style="top:49px;height:1px;background:linear-gradient(90deg,#8a0000 0.5px,#8d0000 82.5px,#9b0000 83.5px,#bc0000 84.5px,#e60000 85.5px,#ff1300 86.5px,#fff600 92.5px,#e2ff1d 93.5px,#10ffef 98.5px,#00dfff 99.5px,#0016ff 103.5px,#0000e8 104.5px,#0000c5 105.5px,#0000b1 106.5px,#0000a8 109.5px,#0000af 112.5px,#0000d3 114.5px,#0000fa 116.5px,#001cff 121.5px,#0000fc 127.5px,#0000e2 131.5px,#0000e4 132.5px,#0000f3 133.5px,#0010ff 134.5px,#006bff 136.5px,#00fcff 139.5px,#adff52 144.5px,#e7ff18 146.5px,#f9ff06 147.5px,#fff800 151.5px,#faff05 165.5px,#dcff23 177.5px,#fffc00 194.5px,#fffd00 205.5px,#edff12 210.5px,#baff45 216.5px,#c0ff3f 219.5px,#ffff00 224.5px,#fff100 227.5px)"></i><i style="top:50px;height:1px;background:linear-gradient(90deg,#8a0000 0.5px,#8d0000 82.5px,#9b0000 83.5px,#bc0000 84.5px,#e70000 85.5px,#ff1300 86.5px,#fff600 92.5px,#e2ff1d 93.5px,#10ffef 98.5px,#00deff 99.5px,#0014ff 103.5px,#0000e6 104.5px,#0000c4 105.5px,#0000b0 106.5px,#0000a8 110.5px,#0000b0 112.5px,#0000d7 114.5px,#0002ff 116.5px,#0027ff 120.5px,#0026ff 122.5px,#0000ff 127.5px,#0000e6 131.5px,#0000e7 132.5px,#0000f4 133.5px,#0010ff 134.5px,#0069ff 136.5px,#00f9ff 139.5px,#c9ff36 145.5px,#f8ff07 147.5px,#fff900 150.5px,#fff900 164.5px,#f2ff0d 172.5px,#ecff13 180.5px,#fffb00 189.5px,#ffef00 203.5px,#f8ff07 210.5px,#e3ff1c 215.5px,#fffb00 219.5px,#ffd300 223.5px,#ffc800 227.5px)"></i><i style="top:51px;height:1px;background:linear-gradient(90deg,#8a0000 0.5px,#8d0000 82.5px,#9c0000 83.5px,#e80000 85.5px,#ff1400 86.5px,#fff600 92.5px,#e2ff1d 93.5px,#10ffef 98.5px,#00deff 99.5px,#0011ff 103.5px,#0000e4 104.5px,#0000c2 105.5px,#0000af 106.5px,#0000aa 111.5px,#0000b1 112.5px,#0000db 114.5px,#0000f4 115.5px,#0008ff 116.5px,#0038ff 120.5px,#0036ff 122.5px,#0002ff 127.5px,#0000ea 132.5px,#0000f5 133.5px,#0010ff 134.5px,#0067ff 136.5px,#00f6ff 139.5px,#42ffbd 141.5px,#e1ff1e 146.5px,#f6ff09 147.5px,#fffa00 149.5px,#fff000 162.5px,#f9ff06 178.5px,#fff300 188.5px,#ffe400 203.5px,#fff700 213.5px,#ffbe00 222.5px,#ffb800 227.5px)"></i><i style="top:52px;height:1px;background:linear-gradient(90deg,#8a0000 0.5px,#8e0000 82.5px,#9d0000 83.5px,#e90000 85.5px,#ff1500 86.5px,#fff600 92.5px,#e2ff1d 93.5px,#0ffff0 98.5px,#00deff 99.5px,#000fff 103.5px,#0000e2 104.5px,#0000c0 105.5px,#0000af 106.5px,#0000aa 111.5px,#0000b1 112.5px,#0000df 114.5px,#0000f9 115.5px,#0041ff 119.5px,#004dff 121.5px,#002aff 124.5px,#0004ff 127.5px,#0000ec 132.5px,#0000f7 133.5px,#0010ff 134.5px,#0066ff 136.5px,#00f3ff 139.5px,#1bffe4 140.5px,#c0ff3f 145.5px,#f3ff0c 147.5px,#ffff00 148.5px,#ffec00 158.5px,#ffed00 172.5px,#fff300 181.5px,#ffd900 203.5px,#ffdf00 210.5px,#ffb500 221.5px,#ffaf00 227.5px)"></i><i style="top:53px;height:1px;background:linear-gradient(90deg,#8a0000 0.5px,#8e0000 82.5px,#9f0000 83.5px,#eb0000 85.5px,#ff1600 86.5px,#fff600 92.5px,#e2ff1d 93.5px,#0ffff0 98.5px,#00ddff 99.5px,#000dff 103.5px,#0000e0 104.5px,#0000bf 105.5px,#0000ae 106.5px,#0000aa 111.5px,#0000b2 112.5px,#0000e3 114.5px,#0000fe 115.5px,#0054ff 119.5px,#0061ff 121.5px,#0048ff 123.5px,#0006ff 127.5px,#0000ef 132.5px,#0000f8 133.5px,#0011ff 134.5px,#0065ff 136.5px,#00f0ff 139.5px,#18ffe7 140.5px,#d7ff28 146.5px,#fdff02 148.5px,#ffe500 160.5px,#ffdf00 172.5px,#ffe600 182.5px,#ffd000 204.5px,#ffc500 211.5px,#ffa800 226.5px,#ffa700 227.5px)"></i><i style="top:54px;height:1px;background:linear-gradient(90deg,#8a0000 0.5px,#8a0000 81.5px,#8f0000 82.5px,#a00000 83.5px,#ed0000 85.5px,#ff1700 86.5px,#fff600 92.5px,#e2ff1d 93.5px,#3dffc2 97.5px,#0ffff0 98.5px,#00ddff 99.5px,#000aff 103.5px,#0000de 104.5px,#0000be 105.5px,#0000ae 106.5px,#0000aa 111.5px,#0000b3 112.5px,#0005ff 115.5px,#0067ff 119.5px,#0074ff 120.5px,#0075ff 121.5px,#0056ff 123.5px,#0016ff 126.5px,#0000ff 128.5px,#0000f2 132.5px,#0000fa 133.5px,#0011ff 134.5px,#0064ff 136.5px,#00edff 139.5px,#15ffea 140.5px,#d0ff2f 146.5px,#faff05 148.5px,#ffd500 167.5px,#ffd900 175.5px,#ffd700 188.5px,#ffba00 210.5px,#ffa000 227.5px)"></i><i style="top:55px;height:1px;background:linear-gradient(90deg,#8a0000 0.5px,#8b0000 81.5px,#900000 82.5px,#a20000 83.5px,#ef0000 85.5px,#ff1900 86.5px,#fff600 92.5px,#e2ff1d 93.5px,#3dffc2 97.5px,#0ffff0 98.5px,#00dcff 99.5px,#0008ff 103.5px,#0000bc 105.5px,#0000ad 106.5px,#0000ab 111.5px,#0000b5 112.5px,#0000eb 114.5px,#000bff 115.5px,#0079ff 119.5px,#0087ff 120.5px,#0087ff 121.5px,#0064ff 123.5px,#001aff 126.5px,#0002ff 128.5px,#0000f4 132.5px,#0000fb 133.5px,#0011ff 134.5px,#0063ff 136.5px,#00ebff 139.5px,#12ffed 140.5px,#caff35 146.5px,#f7ff08 148.5px,#fff800 150.5px,#ffc800 171.5px,#ffd300 184.5px,#ffaa00 214.5px,#ff9800 227.5px)"></i><i style="top:56px;height:1px;background:linear-gradient(90deg,#8a0000 0.5px,#8b0000 81.5px,#910000 82.5px,#a40000 83.5px,#f10000 85.5px,#ff1b00 86.5px,#fff600 92.5px,#e2ff1d 93.5px,#3dffc2 97.5px,#0ffff0 98.5px,#00dcff 99.5px,#0006ff 103.5px,#0000bb 105.5px,#0000ac 106.5px,#0000ab 111.5px,#0000b6 112.5px,#0000f0 114.5px,#0013ff 115.5px,#0072ff 118.5px,#008bff 119.5px,#0098ff 120.5px,#0098ff 121.5px,#008aff 122.5px,#0021ff 126.5px,#0005ff 128.5px,#0000f6 132.5px,#0000fd 133.5px,#0012ff 134.5px,#0061ff 136.5px,#00e8ff 139.5px,#0ffff0 140.5px,#deff21 147.5px,#ffff00 149.5px,#ffc000 170.5px,#ffcc00 185.5px,#ffb100 204.5px,#ff9000 227.5px)"></i><i style="top:57px;height:1px;background:linear-gradient(90deg,#8a0000 0.5px,#8b0000 81.5px,#920000 82.5px,#a60000 83.5px,#f40000 85.5px,#ff1d00 86.5px,#fff600 92.5px,#e2ff1d 93.5px,#3dffc2 97.5px,#0ffff0 98.5px,#00dbff 99.5px,#0003ff 103.5px,#0000b9 105.5px,#0000ac 106.5px,#0000ac 111.5px,#0000b9 112.5px,#0000f6 114.5px,#0040ff 116.5px,#0083ff 118.5px,#009bff 119.5px,#00a9ff 120.5px,#00a8ff 121.5px,#0081ff 123.5px,#002cff 126.5px,#000cff 128.5px,#0000fa 131.5px,#0000fe 133.5px,#0012ff 134.5px,#0060ff 136.5px,#00e6ff 139.5px,#0dfff2 140.5px,#d8ff27 147.5px,#fdff02 149.5px,#ffb700 170.5px,#ffc500 184.5px,#ffa800 204.5px,#ff8800 227.5px)"></i><i style="top:58px;height:1px;background:linear-gradient(90deg,#8a0000 0.5px,#8b0000 81.5px,#930000 82.5px,#a90000 83.5px,#f60000 85.5px,#ff4500 87.5px,#fff600 92.5px,#e2ff1d 93.5px,#3dffc2 97.5px,#0efff1 98.5px,#00dbff 99.5px,#0001ff 103.5px,#0000d6 104.5px,#0000b8 105.5px,#0000ab 106.5px,#0000ad 111.5px,#0000bb 112.5px,#0000fc 114.5px,#0094ff 118.5px,#00acff 119.5px,#00b9ff 120.5px,#00b9ff 121.5px,#0093ff 123.5px,#003bff 126.5px,#0015ff 128.5px,#0000fb 131.5px,#0000ff 133.5px,#0012ff 134.5px,#0060ff 136.5px,#00e4ff 139.5px,#0afff5 140.5px,#d2ff2d 147.5px,#faff05 149.5px,#ffb000 170.5px,#ffbf00 184.5px,#ff9e00 204.5px,#ff9200 215.5px,#ff7e00 227.5px)"></i><i style="top:59px;height:1px;background:linear-gradient(90deg,#8a0000 0.5px,#8b0000 81.5px,#940000 82.5px,#ab0000 83.5px,#f90000 85.5px,#ffb100 90.5px,#fff700 92.5px,#e2ff1d 93.5px,#3dffc2 97.5px,#0efff1 98.5px,#00daff 99.5px,#0000fe 103.5px,#0000d4 104.5px,#0000b7 105.5px,#0000a9 107.5px,#0000ae 111.5px,#0000be 112.5px,#0003ff 114.5px,#0084ff 117.5px,#00a6ff 118.5px,#00bdff 119.5px,#00caff 120.5px,#00c9ff 121.5px,#00a7ff 123.5px,#0032ff 127.5px,#0005ff 130.5px,#0001ff 133.5px,#0012ff 134.5px,#005fff 136.5px,#00e2ff 139.5px,#08fff7 140.5px,#ccff33 147.5px,#f8ff07 149.5px,#fff200 152.5px,#ffc900 162.5px,#ffaa00 170.5px,#ffba00 183.5px,#ffa800 194.5px,#ff9600 205.5px,#ff8600 217.5px,#ff7400 227.5px)"></i><i style="top:60px;height:1px;background:linear-gradient(90deg,#8a0000 0.5px,#8c0000 81.5px,#950000 82.5px,#ae0000 83.5px,#fb0000 85.5px,#fff700 92.5px,#e2ff1d 93.5px,#3dffc2 97.5px,#0efff1 98.5px,#00d9ff 99.5px,#0030ff 102.5px,#0000fc 103.5px,#0000d2 104.5px,#0000b6 105.5px,#0000a8 107.5px,#0000b0 111.5px,#0000c2 112.5px,#0000e1 113.5px,#000aff 114.5px,#0093ff 117.5px,#00b7ff 118.5px,#00cfff 119.5px,#00daff 120.5px,#00d9ff 121.5px,#00baff 123.5px,#0041ff 127.5px,#0006ff 130.5px,#0002ff 133.5px,#0013ff 134.5px,#005eff 136.5px,#00e0ff 139.5px,#06fff9 140.5px,#e1ff1e 148.5px,#fffd00 150.5px,#ffc500 162.5px,#ffa400 170.5px,#ffb500 183.5px,#ffa500 193.5px,#ff8e00 205.5px,#ff7f00 216.5px,#ff6a00 227.5px)"></i><i style="top:61px;height:1px;background:linear-gradient(90deg,#8a0000 0.5px,#8c0000 81.5px,#960000 82.5px,#b00000 83.5px,#fe0000 85.5px,#fff700 92.5px,#e2ff1d 93.5px,#3dffc2 97.5px,#0efff1 98.5px,#00d9ff 99.5px,#002eff 102.5px,#0000fa 103.5px,#0000d1 104.5px,#0000b6 105.5px,#0000a8 107.5px,#0000aa 110.5px,#0000b1 111.5px,#0000c5 112.5px,#0000e6 113.5px,#0011ff 114.5px,#00a0ff 117.5px,#00c7ff 118.5px,#00dfff 119.5px,#00e9ff 120.5px,#00e0ff 122.5px,#00afff 124.5px,#0031ff 128.5px,#0007ff 130.5px,#0000fe 132.5px,#0003ff 133.5px,#0013ff 134.5px,#005dff 136.5px,#00deff 139.5px,#04fffb 140.5px,#ddff22 148.5px,#ffff00 150.5px,#ffc800 161.5px,#ffa400 168.5px,#ffa300 173.5px,#ffb100 182.5px,#ffa500 191.5px,#ff8700 205.5px,#ff6500 223.5px,#ff6000 227.5px)"></i><i style="top:62px;height:1px;background:linear-gradient(90deg,#8a0000 0.5px,#8c0000 81.5px,#970000 82.5px,#b30000 83.5px,#ff0200 85.5px,#fff700 92.5px,#e2ff1d 93.5px,#3dffc2 97.5px,#0efff1 98.5px,#00d8ff 99.5px,#002cff 102.5px,#0000f8 103.5px,#0000d0 104.5px,#0000b5 105.5px,#0000a8 107.5px,#0000aa 110.5px,#0000b2 111.5px,#0000c8 112.5px,#0000eb 113.5px,#0017ff 114.5px,#00a9ff 117.5px,#00d2ff 118.5px,#00ecff 119.5px,#00f7ff 120.5px,#00eeff 122.5px,#00bdff 124.5px,#001aff 129.5px,#0008ff 130.5px,#0000ff 132.5px,#0004ff 133.5px,#0013ff 134.5px,#005cff 136.5px,#00ddff 139.5px,#03fffc 140.5px,#c1ff3e 147.5px,#f0ff0f 149.5px,#feff01 150.5px,#ffc400 161.5px,#ffa300 167.5px,#ff9c00 172.5px,#ffad00 182.5px,#ffa200 191.5px,#ff5500 227.5px)"></i><i style="top:63px;height:1px;background:linear-gradient(90deg,#8a0000 0.5px,#8c0000 81.5px,#990000 82.5px,#dc0000 84.5px,#ff0400 85.5px,#fff700 92.5px,#e2ff1d 93.5px,#3dffc2 97.5px,#0efff1 98.5px,#00d8ff 99.5px,#0029ff 102.5px,#0000f6 103.5px,#0000ce 104.5px,#0000b5 105.5px,#0000a8 107.5px,#0000aa 110.5px,#0000b4 111.5px,#0000cb 112.5px,#0000f0 113.5px,#001dff 114.5px,#00b0ff 117.5px,#00daff 118.5px,#00f6ff 119.5px,#04fffb 121.5px,#00f9ff 122.5px,#00c5ff 124.5px,#001bff 129.5px,#0008ff 130.5px,#0000ff 132.5px,#0004ff 133.5px,#0013ff 134.5px,#005bff 136.5px,#00dbff 139.5px,#01fffe 140.5px,#c0ff3f 147.5px,#efff10 149.5px,#feff01 150.5px,#ffc000 161.5px,#ffa100 166.5px,#ff9900 172.5px,#ffaa00 182.5px,#ff9f00 191.5px,#ff4900 227.5px)"></i><i style="top:64px;height:1px;background:linear-gradient(90deg,#8a0000 0.5px,#8d0000 81.5px,#9b0000 82.5px,#ff0600 85.5px,#fff700 92.5px,#bbff44 94.5px,#0dfff2 98.5px,#00d7ff 99.5px,#0027ff 102.5px,#0000f4 103.5px,#0000cd 104.5px,#0000b4 105.5px,#0000a8 107.5px,#0000ab 110.5px,#0000b5 111.5px,#0000cf 112.5px,#0000f5 113.5px,#0022ff 114.5px,#00dfff 118.5px,#00fdff 119.5px,#0dfff2 120.5px,#0efff1 121.5px,#02fffd 122.5px,#00caff 124.5px,#001cff 129.5px,#0009ff 130.5px,#0000ff 132.5px,#0004ff 133.5px,#0012ff 134.5px,#005aff 136.5px,#00ffff 140.5px,#c0ff3f 147.5px,#eeff11 149.5px,#fdff02 150.5px,#ffb300 162.5px,#ff9a00 167.5px,#ff9600 172.5px,#ffa700 182.5px,#ff9c00 191.5px,#ff3b00 227.5px)"></i><i style="top:65px;height:1px;background:linear-gradient(90deg,#8a0000 0.5px,#8f0000 81.5px,#9e0000 82.5px,#e20000 84.5px,#ff0900 85.5px,#fff800 92.5px,#baff45 94.5px,#0cfff3 98.5px,#00d5ff 99.5px,#0025ff 102.5px,#0000f2 103.5px,#0000cb 104.5px,#0000b3 105.5px,#0000a8 107.5px,#0000ab 110.5px,#0000b7 111.5px,#0000d3 112.5px,#0000fa 113.5px,#0057ff 115.5px,#00e3ff 118.5px,#04fffb 119.5px,#16ffe9 120.5px,#17ffe8 121.5px,#09fff6 122.5px,#00efff 123.5px,#001fff 129.5px,#000aff 130.5px,#0000ff 132.5px,#0003ff 133.5px,#0011ff 134.5px,#002fff 135.5px,#00fdff 140.5px,#d9ff26 148.5px,#feff01 150.5px,#ffaf00 162.5px,#ff9600 167.5px,#ff9500 173.5px,#ffa400 182.5px,#ff9800 191.5px,#ff2c00 227.5px)"></i><i style="top:66px;height:1px;background:linear-gradient(90deg,#8a0000 0.5px,#8b0000 80.5px,#900000 81.5px,#a20000 82.5px,#e50000 84.5px,#ff0c00 85.5px,#fff900 92.5px,#b9ff46 94.5px,#0bfff4 98.5px,#00d4ff 99.5px,#0022ff 102.5px,#0000f0 103.5px,#0000ca 104.5px,#0000b3 105.5px,#0000a8 107.5px,#0000ad 110.5px,#0000bb 111.5px,#0000d7 112.5px,#0000fe 113.5px,#00e7ff 118.5px,#0afff5 119.5px,#1effe1 120.5px,#21ffde 121.5px,#00f7ff 123.5px,#0023ff 129.5px,#000cff 130.5px,#0000ff 132.5px,#0003ff 133.5px,#000fff 134.5px,#002dff 135.5px,#00fcff 140.5px,#d9ff26 148.5px,#feff01 150.5px,#ffab00 162.5px,#ff9400 166.5px,#ff8f00 172.5px,#ffa000 182.5px,#ff9400 191.5px,#ff6200 206.5px,#ff1c00 227.5px)"></i><i style="top:67px;height:1px;background:linear-gradient(90deg,#8a0000 0.5px,#8b0000 80.5px,#930000 81.5px,#a60000 82.5px,#e90000 84.5px,#ff0f00 85.5px,#fffa00 92.5px,#b8ff47 94.5px,#09fff6 98.5px,#00d1ff 99.5px,#001fff 102.5px,#0000ee 103.5px,#0000c9 104.5px,#0000b2 105.5px,#0000a8 107.5px,#0000ae 110.5px,#0000be 111.5px,#0005ff 113.5px,#00edff 118.5px,#11ffee 119.5px,#27ffd8 120.5px,#2cffd3 121.5px,#1dffe2 122.5px,#02fffd 123.5px,#0099ff 126.5px,#002bff 129.5px,#0010ff 130.5px,#0001ff 132.5px,#000eff 134.5px,#0029ff 135.5px,#00faff 140.5px,#dbff24 148.5px,#ffff00 150.5px,#ff9300 165.5px,#ff8b00 172.5px,#ff9b00 182.5px,#ff8f00 191.5px,#ff6500 203.5px,#ff0b00 226.5px,#ff0900 227.5px)"></i><i style="top:68px;height:1px;background:linear-gradient(90deg,#8a0000 0.5px,#8c0000 80.5px,#950000 81.5px,#aa0000 82.5px,#ed0000 84.5px,#ff1100 85.5px,#fffc00 92.5px,#8dff72 95.5px,#06fff9 98.5px,#00ceff 99.5px,#001dff 102.5px,#0000eb 103.5px,#0000c7 104.5px,#0000b2 105.5px,#0000a8 108.5px,#0000b0 110.5px,#0000c2 111.5px,#0000e1 112.5px,#000aff 113.5px,#00f4ff 118.5px,#18ffe7 119.5px,#31ffce 120.5px,#37ffc8 121.5px,#29ffd6 122.5px,#0ffff0 123.5px,#00eeff 124.5px,#0035ff 129.5px,#0017ff 130.5px,#0006ff 131.5px,#0002ff 133.5px,#000cff 134.5px,#0025ff 135.5px,#00f8ff 140.5px,#55ffaa 143.5px,#f1ff0e 149.5px,#ffff00 150.5px,#ff8f00 165.5px,#ff8600 172.5px,#ff9400 182.5px,#ff8500 192.5px,#ff5c00 203.5px,#ff0200 223.5px,#f20000 227.5px)"></i><i style="top:69px;height:1px;background:linear-gradient(90deg,#8a0000 0.5px,#8e0000 80.5px,#980000 81.5px,#cf0000 83.5px,#f10000 84.5px,#ff1400 85.5px,#fffe00 92.5px,#61ff9e 96.5px,#03fffc 98.5px,#008fff 100.5px,#001aff 102.5px,#0000e9 103.5px,#0000c6 104.5px,#0000b1 105.5px,#0000a8 108.5px,#0000b2 110.5px,#0000c6 111.5px,#0000e7 112.5px,#0010ff 113.5px,#00fbff 118.5px,#3affc5 120.5px,#43ffbc 121.5px,#36ffc9 122.5px,#00fcff 124.5px,#0020ff 130.5px,#000aff 131.5px,#0002ff 133.5px,#000aff 134.5px,#0021ff 135.5px,#00a0ff 138.5px,#00f5ff 140.5px,#37ffc8 142.5px,#ddff22 148.5px,#fffe00 150.5px,#ffa100 162.5px,#ff8800 166.5px,#ff8100 172.5px,#ff8c00 182.5px,#ff7a00 193.5px,#ff5200 203.5px,#ff0100 219.5px,#d60000 227.5px)"></i><i style="top:70px;height:1px;background:linear-gradient(90deg,#8a0000 0.5px,#8c0000 79.5px,#9c0000 81.5px,#d30000 83.5px,#f50000 84.5px,#ff1800 85.5px,#feff01 92.5px,#5effa1 96.5px,#00ffff 98.5px,#0017ff 102.5px,#0000e7 103.5px,#0000c4 104.5px,#0000b1 105.5px,#0000a8 108.5px,#0000b4 110.5px,#0000ca 111.5px,#0000ec 112.5px,#0015ff 113.5px,#00d7ff 117.5px,#03fffc 118.5px,#43ffbc 120.5px,#4fffb0 121.5px,#43ffbc 122.5px,#0dfff2 124.5px,#00ebff 125.5px,#002bff 130.5px,#0010ff 131.5px,#0004ff 132.5px,#0008ff 134.5px,#001cff 135.5px,#006dff 137.5px,#00f3ff 140.5px,#17ffe8 141.5px,#dfff20 148.5px,#f5ff0a 149.5px,#fffd00 150.5px,#ff9e00 162.5px,#ff8400 166.5px,#ff7b00 172.5px,#ff8300 183.5px,#ff6500 197.5px,#ff0000 215.5px,#b60000 227.5px)"></i><i style="top:71px;height:1px;background:linear-gradient(90deg,#8a0000 0.5px,#8e0000 79.5px,#a10000 81.5px,#f80000 84.5px,#ff5f00 87.5px,#fcff03 92.5px,#5bffa4 96.5px,#00fcff 98.5px,#0014ff 102.5px,#0000e5 103.5px,#0000c3 104.5px,#0000b0 105.5px,#0000a9 108.5px,#0000b6 110.5px,#0000ce 111.5px,#0000f0 112.5px,#001bff 113.5px,#00dfff 117.5px,#0afff5 118.5px,#4dffb2 120.5px,#5bffa4 121.5px,#51ffae 122.5px,#00fcff 125.5px,#0039ff 130.5px,#0019ff 131.5px,#0007ff 132.5px,#0005ff 134.5px,#0016ff 135.5px,#0039ff 136.5px,#00f0ff 140.5px,#16ffe9 141.5px,#e1ff1e 148.5px,#f6ff09 149.5px,#fff500 151.5px,#ff8400 165.5px,#ff7500 172.5px,#ff7900 183.5px,#ff5300 199.5px,#fa0000 212.5px,#9e0000 226.5px,#9b0000 227.5px)"></i><i style="top:72px;height:1px;background:linear-gradient(90deg,#8a0000 0.5px,#8d0000 78.5px,#970000 80.5px,#c00000 82.5px,#fc0000 84.5px,#faff05 92.5px,#59ffa6 96.5px,#00f8ff 98.5px,#0011ff 102.5px,#0000e3 103.5px,#0000c2 104.5px,#0000af 105.5px,#0000a9 108.5px,#0000b9 110.5px,#0000f5 112.5px,#0021ff 113.5px,#00e8ff 117.5px,#12ffed 118.5px,#55ffaa 120.5px,#66ff99 121.5px,#5effa1 122.5px,#0dfff2 125.5px,#00eaff 126.5px,#0024ff 131.5px,#000cff 132.5px,#0003ff 133.5px,#0004ff 134.5px,#0012ff 135.5px,#0032ff 136.5px,#00eeff 140.5px,#14ffeb 141.5px,#e3ff1c 148.5px,#f8ff07 149.5px,#ffee00 152.5px,#ff8100 165.5px,#ff6f00 172.5px,#ff6d00 184.5px,#ff4800 199.5px,#fe0000 209.5px,#a60000 220.5px,#8f0000 226.5px,#8e0000 227.5px)"></i><i style="top:73px;height:1px;background:linear-gradient(90deg,#8a0000 0.5px,#8f0000 78.5px,#9c0000 80.5px,#c60000 82.5px,#ff0100 84.5px,#ffe400 91.5px,#f8ff07 92.5px,#56ffa9 96.5px,#28ffd7 97.5px,#00f4ff 98.5px,#000eff 102.5px,#0000e0 103.5px,#0000c0 104.5px,#0000af 105.5px,#0000a9 108.5px,#0000bd 110.5px,#0000fa 112.5px,#0026ff 113.5px,#00f0ff 117.5px,#1affe5 118.5px,#5effa1 120.5px,#71ff8e 121.5px,#6aff95 122.5px,#00fcff 126.5px,#0031ff 131.5px,#0013ff 132.5px,#0005ff 133.5px,#0003ff 134.5px,#000eff 135.5px,#002cff 136.5px,#00ebff 140.5px,#13ffec 141.5px,#e4ff1b 148.5px,#f9ff06 149.5px,#ffe600 153.5px,#ff7e00 165.5px,#ff6900 172.5px,#ff6200 184.5px,#ff3d00 199.5px,#fc0000 207.5px,#ab0000 215.5px,#8e0000 222.5px,#8a0000 227.5px)"></i><i style="top:74px;height:1px;background:linear-gradient(90deg,#8a0000 0.5px,#8d0000 76.5px,#a40000 80.5px,#cb0000 82.5px,#ff0400 84.5px,#ffe600 91.5px,#f5ff0a 92.5px,#53ffac 96.5px,#24ffdb 97.5px,#00f1ff 98.5px,#000cff 102.5px,#0000de 103.5px,#0000bf 104.5px,#0000ae 105.5px,#0000a9 108.5px,#0000af 109.5px,#0000bf 110.5px,#0000fe 112.5px,#005fff 114.5px,#00f9ff 117.5px,#65ff9a 120.5px,#7aff85 121.5px,#76ff89 122.5px,#0dfff2 126.5px,#00e9ff 127.5px,#003eff 131.5px,#001cff 132.5px,#0008ff 133.5px,#0003ff 134.5px,#000cff 135.5px,#0027ff 136.5px,#0085ff 138.5px,#00e9ff 140.5px,#11ffee 141.5px,#e6ff19 148.5px,#faff05 149.5px,#ffbb00 158.5px,#ff7b00 165.5px,#ff6300 172.5px,#ff5600 185.5px,#ff3100 199.5px,#fa0000 205.5px,#9f0000 213.5px,#8b0000 220.5px,#8a0000 227.5px)"></i><i style="top:75px;height:1px;background:linear-gradient(90deg,#8a0000 0.5px,#8e0000 75.5px,#af0000 80.5px,#d20000 82.5px,#ff0800 84.5px,#ffe800 91.5px,#f3ff0c 92.5px,#50ffaf 96.5px,#21ffde 97.5px,#00edff 98.5px,#0009ff 102.5px,#0000be 104.5px,#0000ae 105.5px,#0000aa 108.5px,#0000b0 109.5px,#0000c2 110.5px,#0003ff 112.5px,#0066ff 114.5px,#00d2ff 116.5px,#02fffd 117.5px,#6cff93 120.5px,#82ff7d 121.5px,#81ff7e 122.5px,#38ffc7 125.5px,#00faff 127.5px,#0025ff 132.5px,#000cff 133.5px,#0003ff 134.5px,#0009ff 135.5px,#0021ff 136.5px,#0080ff 138.5px,#00e6ff 140.5px,#10ffef 141.5px,#e7ff18 148.5px,#fbff04 149.5px,#ffb000 159.5px,#ff7300 166.5px,#ff5e00 173.5px,#ff4900 186.5px,#ff2600 199.5px,#fa0000 203.5px,#9a0000 211.5px,#8b0000 216.5px,#8a0000 227.5px)"></i><i style="top:76px;height:1px;background:linear-gradient(90deg,#8a0000 0.5px,#8e0000 74.5px,#be0000 80.5px,#f00000 83.5px,#ff0c00 84.5px,#ffea00 91.5px,#f1ff0e 92.5px,#4dffb2 96.5px,#1effe1 97.5px,#00eaff 98.5px,#0007ff 102.5px,#0000bc 104.5px,#0000ad 105.5px,#0000aa 108.5px,#0000b1 109.5px,#0000e0 111.5px,#0006ff 112.5px,#00daff 116.5px,#09fff6 117.5px,#73ff8c 120.5px,#8aff75 121.5px,#8cff73 122.5px,#60ff9f 124.5px,#09fff6 127.5px,#00e2ff 128.5px,#002eff 132.5px,#0010ff 133.5px,#0004ff 134.5px,#0007ff 135.5px,#001cff 136.5px,#0046ff 137.5px,#00e4ff 140.5px,#0ffff0 141.5px,#e8ff17 148.5px,#fbff04 149.5px,#ffa500 160.5px,#ff7100 166.5px,#ff5900 173.5px,#ff4300 185.5px,#ff2100 198.5px,#ff0200 201.5px,#a10000 208.5px,#8c0000 212.5px,#8a0000 227.5px)"></i><i style="top:77px;height:1px;background:linear-gradient(90deg,#8a0000 0.5px,#8e0000 73.5px,#d70000 81.5px,#f60000 83.5px,#ff0f00 84.5px,#ffeb00 91.5px,#efff10 92.5px,#4bffb4 96.5px,#1cffe3 97.5px,#00e7ff 98.5px,#0005ff 102.5px,#0000bb 104.5px,#0000ad 105.5px,#0000aa 108.5px,#0000b2 109.5px,#0000e3 111.5px,#000aff 112.5px,#00e1ff 116.5px,#10ffef 117.5px,#7aff85 120.5px,#92ff6d 121.5px,#95ff6a 122.5px,#6cff93 124.5px,#15ffea 127.5px,#00efff 128.5px,#0036ff 132.5px,#0014ff 133.5px,#0005ff 134.5px,#0005ff 135.5px,#0018ff 136.5px,#0041ff 137.5px,#00e2ff 140.5px,#0efff1 141.5px,#e9ff16 148.5px,#fcff03 149.5px,#ffa400 160.5px,#ff6f00 166.5px,#ff5600 173.5px,#ff3f00 184.5px,#ff1600 198.5px,#fe0000 200.5px,#9f0000 206.5px,#8b0000 210.5px,#8a0000 227.5px)"></i><i style="top:78px;height:1px;background:linear-gradient(90deg,#8a0000 0.5px,#8e0000 72.5px,#b10000 76.5px,#fb0000 83.5px,#ff3000 85.5px,#ffed00 91.5px,#eeff11 92.5px,#49ffb6 96.5px,#1affe5 97.5px,#00e5ff 98.5px,#0004ff 102.5px,#0000ba 104.5px,#0000ac 105.5px,#0000aa 108.5px,#0000b2 109.5px,#0000e5 111.5px,#000eff 112.5px,#00e8ff 116.5px,#16ffe9 117.5px,#81ff7e 120.5px,#9aff65 121.5px,#9fff60 122.5px,#78ff87 124.5px,#00faff 128.5px,#003dff 132.5px,#0018ff 133.5px,#0006ff 134.5px,#0005ff 135.5px,#0015ff 136.5px,#003dff 137.5px,#00e1ff 140.5px,#0efff1 141.5px,#e9ff16 148.5px,#fdff02 149.5px,#ff9900 161.5px,#ff6e00 166.5px,#ff5400 173.5px,#ff3e00 183.5px,#ff1200 197.5px,#fa0000 199.5px,#a20000 204.5px,#8d0000 207.5px,#8a0000 227.5px)"></i><i style="top:79px;height:1px;background:linear-gradient(90deg,#8a0000 0.5px,#8e0000 71.5px,#b00000 75.5px,#e70000 80.5px,#ff0000 83.5px,#ff5000 86.5px,#ffee00 91.5px,#edff12 92.5px,#47ffb8 96.5px,#18ffe7 97.5px,#00e3ff 98.5px,#0002ff 102.5px,#0000d6 103.5px,#0000b9 104.5px,#0000ac 105.5px,#0000aa 108.5px,#0000b3 109.5px,#0000c8 110.5px,#0000e7 111.5px,#0011ff 112.5px,#00efff 116.5px,#1cffe3 117.5px,#89ff76 120.5px,#a2ff5d 121.5px,#a8ff57 122.5px,#9bff64 123.5px,#47ffb8 126.5px,#03fffc 128.5px,#00a5ff 130.5px,#0041ff 132.5px,#001aff 133.5px,#0007ff 134.5px,#0005ff 135.5px,#0014ff 136.5px,#003bff 137.5px,#00e0ff 140.5px,#0dfff2 141.5px,#eaff15 148.5px,#fdff02 149.5px,#ff9900 161.5px,#ff6e00 166.5px,#ff5400 173.5px,#ff3f00 182.5px,#ff0f00 196.5px,#f70000 198.5px,#9d0000 203.5px,#8b0000 206.5px,#8a0000 227.5px)"></i><i style="top:80px;height:1px;background:linear-gradient(90deg,#8a0000 0.5px,#8d0000 70.5px,#af0000 74.5px,#e70000 79.5px,#ff0400 83.5px,#ff6f00 87.5px,#ffef00 91.5px,#ebff14 92.5px,#46ffb9 96.5px,#17ffe8 97.5px,#00e2ff 98.5px,#0001ff 102.5px,#0000d5 103.5px,#0000b8 104.5px,#0000a9 106.5px,#0000aa 108.5px,#0000b3 109.5px,#0000c9 110.5px,#0000e9 111.5px,#0014ff 112.5px,#00f5ff 116.5px,#23ffdc 117.5px,#90ff6f 120.5px,#a9ff56 121.5px,#b1ff4e 122.5px,#a5ff5a 123.5px,#71ff8e 125.5px,#09fff6 128.5px,#00ddff 129.5px,#0045ff 132.5px,#001cff 133.5px,#0008ff 134.5px,#0005ff 135.5px,#0014ff 136.5px,#0039ff 137.5px,#00e0ff 140.5px,#0dfff2 141.5px,#eaff15 148.5px,#fdff02 149.5px,#ff8f00 162.5px,#ff6900 167.5px,#ff5200 174.5px,#ff3d00 182.5px,#ff0f00 195.5px,#ff0400 196.5px,#e30000 198.5px,#9a0000 202.5px,#8a0000 205.5px,#8a0000 227.5px)"></i><i style="top:81px;height:1px;background:linear-gradient(90deg,#8a0000 0.5px,#8d0000 69.5px,#ad0000 73.5px,#e50000 78.5px,#f70000 82.5px,#ff0800 83.5px,#ff8e00 88.5px,#fff000 91.5px,#eaff15 92.5px,#44ffbb 96.5px,#15ffea 97.5px,#00e0ff 98.5px,#0000fe 102.5px,#0000d4 103.5px,#0000b7 104.5px,#0000a8 106.5px,#0000aa 108.5px,#0000b3 109.5px,#0000c9 110.5px,#0000eb 111.5px,#0018ff 112.5px,#00fbff 116.5px,#99ff66 120.5px,#b1ff4e 121.5px,#b9ff46 122.5px,#afff50 123.5px,#7cff83 125.5px,#10ffef 128.5px,#00e3ff 129.5px,#0048ff 132.5px,#001fff 133.5px,#000aff 134.5px,#0007ff 135.5px,#0015ff 136.5px,#0039ff 137.5px,#00e0ff 140.5px,#0dfff2 141.5px,#eaff15 148.5px,#fdff02 149.5px,#ff8f00 162.5px,#ff6900 167.5px,#ff5200 174.5px,#ff4000 181.5px,#ff1a00 191.5px,#ff0700 195.5px,#f70000 196.5px,#a50000 200.5px,#8f0000 202.5px,#8a0000 227.5px)"></i><i style="top:82px;height:1px;background:linear-gradient(90deg,#8a0000 0.5px,#8c0000 68.5px,#aa0000 72.5px,#e20000 77.5px,#fa0000 82.5px,#ff0c00 83.5px,#ff8e00 88.5px,#fff100 91.5px,#e9ff16 92.5px,#43ffbc 96.5px,#14ffeb 97.5px,#00deff 98.5px,#0032ff 101.5px,#0000fd 102.5px,#0000d2 103.5px,#0000b6 104.5px,#0000a8 106.5px,#0000aa 108.5px,#0000b3 109.5px,#0000ca 110.5px,#0000ed 111.5px,#001bff 112.5px,#01fffe 116.5px,#7fff80 119.5px,#b9ff46 121.5px,#c2ff3d 122.5px,#b9ff46 123.5px,#88ff77 125.5px,#16ffe9 128.5px,#00e8ff 129.5px,#004cff 132.5px,#0022ff 133.5px,#000cff 134.5px,#0009ff 135.5px,#0016ff 136.5px,#0039ff 137.5px,#00dfff 140.5px,#0dfff2 141.5px,#eaff15 148.5px,#fdff02 149.5px,#ff8f00 162.5px,#ff6900 167.5px,#ff5200 174.5px,#ff3f00 181.5px,#ff1a00 190.5px,#ff0b00 194.5px,#fe0000 195.5px,#a30000 199.5px,#8e0000 201.5px,#8a0000 227.5px)"></i><i style="top:83px;height:1px;background:linear-gradient(90deg,#8a0000 0.5px,#8c0000 67.5px,#a80000 71.5px,#df0000 76.5px,#f30000 81.5px,#fe0000 82.5px,#ff5900 86.5px,#ffae00 89.5px,#fff200 91.5px,#e7ff18 92.5px,#42ffbd 96.5px,#12ffed 97.5px,#00ddff 98.5px,#0030ff 101.5px,#0000fb 102.5px,#0000d1 103.5px,#0000b6 104.5px,#0000a8 106.5px,#0000aa 108.5px,#0000b4 109.5px,#0000cb 110.5px,#0000ef 111.5px,#001eff 112.5px,#00d0ff 115.5px,#07fff8 116.5px,#88ff77 119.5px,#aaff55 120.5px,#c1ff3e 121.5px,#caff35 122.5px,#c3ff3c 123.5px,#95ff6a 125.5px,#1dffe2 128.5px,#00eeff 129.5px,#0050ff 132.5px,#0025ff 133.5px,#000fff 134.5px,#000bff 135.5px,#0018ff 136.5px,#003aff 137.5px,#00dfff 140.5px,#0dfff2 141.5px,#eaff15 148.5px,#fdff02 149.5px,#ff8f00 162.5px,#ff6900 167.5px,#ff5200 174.5px,#ff4400 180.5px,#ff1900 189.5px,#ff0700 194.5px,#f70000 195.5px,#a80000 198.5px,#960000 199.5px,#8a0000 202.5px,#8a0000 227.5px)"></i><i style="top:84px;height:1px;background:linear-gradient(90deg,#8a0000 0.5px,#8c0000 66.5px,#a70000 70.5px,#db0000 75.5px,#f60000 81.5px,#ff0400 82.5px,#ff7400 87.5px,#fff300 91.5px,#e6ff19 92.5px,#40ffbf 96.5px,#11ffee 97.5px,#00dbff 98.5px,#002fff 101.5px,#0000fa 102.5px,#0000d0 103.5px,#0000b5 104.5px,#0000a8 106.5px,#0000aa 108.5px,#0000b4 109.5px,#0000cc 110.5px,#0000f0 111.5px,#0021ff 112.5px,#00d5ff 115.5px,#0dfff2 116.5px,#92ff6d 119.5px,#b3ff4c 120.5px,#c9ff36 121.5px,#d1ff2e 122.5px,#ccff33 123.5px,#bcff43 124.5px,#a2ff5d 125.5px,#24ffdb 128.5px,#00f3ff 129.5px,#0053ff 132.5px,#0028ff 133.5px,#0012ff 134.5px,#000eff 135.5px,#001aff 136.5px,#003bff 137.5px,#00e0ff 140.5px,#0dfff2 141.5px,#eaff15 148.5px,#feff01 149.5px,#ff8f00 162.5px,#ff6900 167.5px,#ff5200 174.5px,#ff4300 180.5px,#ff1700 189.5px,#ff0200 194.5px,#d60000 196.5px,#9e0000 198.5px,#8b0000 200.5px,#8a0000 227.5px)"></i><i style="top:85px;height:1px;background:linear-gradient(90deg,#8a0000 0.5px,#8d0000 65.5px,#af0000 70.5px,#dd0000 75.5px,#f90000 81.5px,#ff0900 82.5px,#ff7500 87.5px,#ffd100 90.5px,#fff400 91.5px,#e5ff1a 92.5px,#3fffc0 96.5px,#0ffff0 97.5px,#00daff 98.5px,#002dff 101.5px,#0000f8 102.5px,#0000cf 103.5px,#0000b4 104.5px,#0000a8 106.5px,#0000aa 108.5px,#0000b4 109.5px,#0000cd 110.5px,#0000f2 111.5px,#0025ff 112.5px,#00dbff 115.5px,#13ffec 116.5px,#9bff64 119.5px,#bcff43 120.5px,#d0ff2f 121.5px,#d8ff27 122.5px,#c7ff38 124.5px,#aeff51 125.5px,#5bffa4 127.5px,#00f8ff 129.5px,#0057ff 132.5px,#002cff 133.5px,#0016ff 134.5px,#0012ff 135.5px,#001dff 136.5px,#003dff 137.5px,#00e0ff 140.5px,#0dfff2 141.5px,#eaff15 148.5px,#feff01 149.5px,#ff8f00 162.5px,#ff6900 167.5px,#ff5200 174.5px,#ff4300 180.5px,#ff1700 188.5px,#fb0000 194.5px,#cc0000 196.5px,#970000 198.5px,#8a0000 200.5px,#8a0000 227.5px)"></i><i style="top:86px;height:1px;background:linear-gradient(90deg,#8a0000 0.5px,#8e0000 64.5px,#af0000 69.5px,#da0000 74.5px,#f20000 80.5px,#fd0000 81.5px,#ff5f00 86.5px,#ffb000 89.5px,#fff500 91.5px,#e4ff1b 92.5px,#3effc1 96.5px,#0efff1 97.5px,#00d9ff 98.5px,#002cff 101.5px,#0000f7 102.5px,#0000cd 103.5px,#0000b4 104.5px,#0000a8 106.5px,#0000aa 108.5px,#0000b4 109.5px,#0000cd 110.5px,#0000f4 111.5px,#0028ff 112.5px,#00e1ff 115.5px,#19ffe6 116.5px,#a4ff5b 119.5px,#c5ff3a 120.5px,#d8ff27 121.5px,#dcff23 123.5px,#d2ff2d 124.5px,#bbff44 125.5px,#64ff9b 127.5px,#00fdff 129.5px,#005bff 132.5px,#002fff 133.5px,#0019ff 134.5px,#0015ff 135.5px,#0020ff 136.5px,#003fff 137.5px,#00e0ff 140.5px,#0dfff2 141.5px,#eaff15 148.5px,#feff01 149.5px,#ff8f00 162.5px,#ff6900 167.5px,#ff5200 174.5px,#ff4300 180.5px,#ff1500 188.5px,#ff0300 193.5px,#f40000 194.5px,#a40000 197.5px,#920000 198.5px,#8a0000 202.5px,#8a0000 227.5px)"></i><i style="top:87px;height:1px;background:linear-gradient(90deg,#8a0000 0.5px,#8d0000 62.5px,#a70000 67.5px,#d70000 73.5px,#f40000 80.5px,#ff0200 81.5px,#ff7700 87.5px,#ffd200 90.5px,#fff600 91.5px,#e3ff1c 92.5px,#3cffc3 96.5px,#0dfff2 97.5px,#00d7ff 98.5px,#002aff 101.5px,#0000f6 102.5px,#0000cc 103.5px,#0000b3 104.5px,#0000a8 106.5px,#0000aa 108.5px,#0000b5 109.5px,#0000ce 110.5px,#0000f6 111.5px,#002bff 112.5px,#00e6ff 115.5px,#1fffe0 116.5px,#adff52 119.5px,#ceff31 120.5px,#dfff20 121.5px,#e4ff1b 123.5px,#dbff24 124.5px,#c7ff38 125.5px,#a0ff5f 126.5px,#03fffc 129.5px,#005eff 132.5px,#0033ff 133.5px,#001dff 134.5px,#0018ff 135.5px,#0022ff 136.5px,#0040ff 137.5px,#00e0ff 140.5px,#0dfff2 141.5px,#eaff15 148.5px,#feff01 149.5px,#ff8f00 162.5px,#ff6900 167.5px,#ff5200 174.5px,#ff4200 180.5px,#ff1300 188.5px,#fd0000 193.5px,#d40000 195.5px,#9c0000 197.5px,#8a0000 199.5px,#8a0000 227.5px)"></i><i style="top:88px;height:1px;background:linear-gradient(90deg,#8a0000 0.5px,#8d0000 60.5px,#b00000 67.5px,#d40000 72.5px,#ee0000 79.5px,#ff0600 81.5px,#ff7700 87.5px,#ffd300 90.5px,#fff700 91.5px,#baff45 93.5px,#0cfff3 97.5px,#00d6ff 98.5px,#0029ff 101.5px,#0000f4 102.5px,#0000cb 103.5px,#0000b3 104.5px,#0000a8 106.5px,#0000aa 108.5px,#0000b5 109.5px,#0000cf 110.5px,#0000f8 111.5px,#002eff 112.5px,#00ebff 115.5px,#24ffdb 116.5px,#b5ff4a 119.5px,#d6ff29 120.5px,#e6ff19 121.5px,#ebff14 123.5px,#e4ff1b 124.5px,#d1ff2e 125.5px,#abff54 126.5px,#09fff6 129.5px,#0098ff 131.5px,#0062ff 132.5px,#0036ff 133.5px,#0020ff 134.5px,#001cff 135.5px,#0025ff 136.5px,#0042ff 137.5px,#00e0ff 140.5px,#0dfff2 141.5px,#eaff15 148.5px,#feff01 149.5px,#ff8f00 162.5px,#ff6900 167.5px,#ff5200 174.5px,#ff4200 180.5px,#ff1100 188.5px,#f90000 193.5px,#ca0000 195.5px,#960000 197.5px,#8a0000 199.5px,#8a0000 227.5px)"></i><i style="top:89px;height:1px;background:linear-gradient(90deg,#8a0000 0.5px,#8e0000 59.5px,#ba0000 67.5px,#d50000 72.5px,#ef0000 79.5px,#fa0000 80.5px,#ff2d00 83.5px,#ff7800 87.5px,#ffd300 90.5px,#fff700 91.5px,#b9ff46 93.5px,#0bfff4 97.5px,#00d5ff 98.5px,#0028ff 101.5px,#0000f3 102.5px,#0000ca 103.5px,#0000b2 104.5px,#0000a8 106.5px,#0000aa 108.5px,#0000b5 109.5px,#0000d0 110.5px,#0000f9 111.5px,#0031ff 112.5px,#00f1ff 115.5px,#2affd5 116.5px,#bdff42 119.5px,#ddff22 120.5px,#edff12 121.5px,#f1ff0e 123.5px,#ecff13 124.5px,#daff25 125.5px,#b4ff4b 126.5px,#0efff1 129.5px,#00d4ff 130.5px,#0065ff 132.5px,#0039ff 133.5px,#0023ff 134.5px,#001fff 135.5px,#0027ff 136.5px,#0043ff 137.5px,#00e0ff 140.5px,#0efff1 141.5px,#eaff15 148.5px,#feff01 149.5px,#ffbd00 157.5px,#ff6e00 166.5px,#ff5400 173.5px,#ff4800 179.5px,#ff0f00 188.5px,#ff0200 192.5px,#f50000 193.5px,#c30000 195.5px,#a50000 196.5px,#920000 197.5px,#8a0000 201.5px,#8a0000 227.5px)"></i><i style="top:90px;height:1px;background:linear-gradient(90deg,#8a0000 0.5px,#8d0000 57.5px,#bd0000 66.5px,#d60000 72.5px,#f10000 79.5px,#fd0000 80.5px,#ff7800 87.5px,#ffb100 89.5px,#fff800 91.5px,#b8ff47 93.5px,#0afff5 97.5px,#00d5ff 98.5px,#0027ff 101.5px,#0000f2 102.5px,#0000c9 103.5px,#0000b2 104.5px,#0000a8 107.5px,#0000b5 109.5px,#0000d0 110.5px,#0000fb 111.5px,#0033ff 112.5px,#00f5ff 115.5px,#63ff9c 117.5px,#c3ff3c 119.5px,#e4ff1b 120.5px,#f3ff0c 121.5px,#f3ff0c 124.5px,#e2ff1d 125.5px,#bdff42 126.5px,#13ffec 129.5px,#00d8ff 130.5px,#0068ff 132.5px,#003cff 133.5px,#0026ff 134.5px,#0021ff 135.5px,#0029ff 136.5px,#0044ff 137.5px,#00abff 139.5px,#00e1ff 140.5px,#0efff1 141.5px,#eaff15 148.5px,#feff01 149.5px,#ffc400 156.5px,#ff6e00 166.5px,#ff5400 173.5px,#ff4800 179.5px,#ff0e00 188.5px,#ff0000 192.5px,#f30000 193.5px,#be0000 195.5px,#a10000 196.5px,#900000 197.5px,#8a0000 207.5px,#8a0000 227.5px)"></i><i style="top:91px;height:1px;background:linear-gradient(90deg,#8a0000 0.5px,#8f0000 56.5px,#d00000 69.5px,#eb0000 78.5px,#ff0100 80.5px,#ff7900 87.5px,#ffb200 89.5px,#fff900 91.5px,#b8ff47 93.5px,#0afff5 97.5px,#00d4ff 98.5px,#0027ff 101.5px,#0000f1 102.5px,#0000c9 103.5px,#0000b2 104.5px,#0000a8 107.5px,#0000b6 109.5px,#0000d1 110.5px,#0000fc 111.5px,#0036ff 112.5px,#00faff 115.5px,#c9ff36 119.5px,#e9ff16 120.5px,#f8ff07 121.5px,#f9ff06 124.5px,#e9ff16 125.5px,#c5ff3a 126.5px,#19ffe6 129.5px,#00ddff 130.5px,#006cff 132.5px,#003fff 133.5px,#0028ff 134.5px,#0023ff 135.5px,#002bff 136.5px,#0045ff 137.5px,#00abff 139.5px,#00e0ff 140.5px,#0dfff2 141.5px,#eaff15 148.5px,#feff01 149.5px,#ffc400 156.5px,#ff6e00 166.5px,#ff5400 173.5px,#ff4700 179.5px,#ff0d00 188.5px,#fe0000 192.5px,#f20000 193.5px,#bd0000 195.5px,#a00000 196.5px,#8f0000 197.5px,#8a0000 218.5px,#8a0000 227.5px)"></i><i style="top:92px;height:1px;background:linear-gradient(90deg,#8a0000 0.5px,#8d0000 54.5px,#cc0000 67.5px,#e50000 77.5px,#ff0300 80.5px,#ff7900 87.5px,#ffb200 89.5px,#fff900 91.5px,#b7ff48 93.5px,#09fff6 97.5px,#00d3ff 98.5px,#0026ff 101.5px,#0000f1 102.5px,#0000c8 103.5px,#0000b1 104.5px,#0000a8 107.5px,#0000b6 109.5px,#0000d2 110.5px,#0000fe 111.5px,#007bff 113.5px,#00feff 115.5px,#9eff61 118.5px,#cdff32 119.5px,#eeff11 120.5px,#fdff02 121.5px,#feff01 124.5px,#efff10 125.5px,#ccff33 126.5px,#5bffa4 128.5px,#1effe1 129.5px,#00e1ff 130.5px,#006fff 132.5px,#0041ff 133.5px,#002aff 134.5px,#0025ff 135.5px,#002bff 136.5px,#0044ff 137.5px,#0072ff 138.5px,#00e0ff 140.5px,#0dfff2 141.5px,#eaff15 148.5px,#ffff00 149.5px,#ffca00 155.5px,#ff8f00 162.5px,#ff6900 167.5px,#ff5200 174.5px,#ff4700 179.5px,#ff0c00 188.5px,#fe0000 192.5px,#f20000 193.5px,#bd0000 195.5px,#9f0000 196.5px,#8f0000 197.5px,#8a0000 223.5px,#8a0000 227.5px)"></i><i style="top:93px;height:1px;background:linear-gradient(90deg,#8a0000 0.5px,#8e0000 53.5px,#c80000 65.5px,#e60000 77.5px,#ff0400 80.5px,#ff7900 87.5px,#ffb200 89.5px,#fff900 91.5px,#b7ff48 93.5px,#09fff6 97.5px,#00d3ff 98.5px,#0026ff 101.5px,#0000f0 102.5px,#0000c8 103.5px,#0000b1 104.5px,#0000a8 107.5px,#0000b6 109.5px,#0000d2 110.5px,#0000ff 111.5px,#007eff 113.5px,#02fffd 115.5px,#a1ff5e 118.5px,#cfff30 119.5px,#f1ff0e 120.5px,#fffd00 121.5px,#fff700 123.5px,#fffc00 124.5px,#f3ff0c 125.5px,#d1ff2e 126.5px,#61ff9e 128.5px,#23ffdc 129.5px,#00e6ff 130.5px,#0072ff 132.5px,#0043ff 133.5px,#002bff 134.5px,#0025ff 135.5px,#002bff 136.5px,#0043ff 137.5px,#0070ff 138.5px,#00dfff 140.5px,#0dfff2 141.5px,#eaff15 148.5px,#feff01 149.5px,#ffca00 155.5px,#ff8f00 162.5px,#ff6900 167.5px,#ff5200 174.5px,#ff4700 179.5px,#ff0c00 188.5px,#fe0000 192.5px,#f20000 193.5px,#bd0000 195.5px,#a00000 196.5px,#8f0000 197.5px,#8a0000 218.5px,#8a0000 227.5px)"></i><i style="top:94px;height:1px;background:linear-gradient(90deg,#8a0000 0.5px,#8e0000 52.5px,#c70000 64.5px,#e60000 77.5px,#ff0500 80.5px,#ff7900 87.5px,#ffb200 89.5px,#fff900 91.5px,#b7ff48 93.5px,#09fff6 97.5px,#00d3ff 98.5px,#0026ff 101.5px,#0000f0 102.5px,#0000c8 103.5px,#0000b1 104.5px,#0000a8 107.5px,#0000b6 109.5px,#0000d3 110.5px,#0002ff 111.5px,#0081ff 113.5px,#00c5ff 114.5px,#06fff9 115.5px,#a4ff5b 118.5px,#d2ff2d 119.5px,#f3ff0c 120.5px,#fff900 121.5px,#fff200 123.5px,#f7ff08 125.5px,#d5ff2a 126.5px,#66ff99 128.5px,#29ffd6 129.5px,#00ebff 130.5px,#0075ff 132.5px,#0045ff 133.5px,#002cff 134.5px,#0026ff 135.5px,#002aff 136.5px,#0040ff 137.5px,#006dff 138.5px,#00ddff 140.5px,#0cfff3 141.5px,#eaff15 148.5px,#feff01 149.5px,#ffcb00 155.5px,#ff8f00 162.5px,#ff6900 167.5px,#ff5200 174.5px,#ff4700 179.5px,#ff0c00 188.5px,#fe0000 192.5px,#f20000 193.5px,#be0000 195.5px,#a10000 196.5px,#900000 197.5px,#8a0000 207.5px,#8a0000 227.5px)"></i><i style="top:95px;height:1px;background:linear-gradient(90deg,#8a0000 0.5px,#8d0000 50.5px,#c40000 62.5px,#e20000 76.5px,#ff0500 80.5px,#ff7900 87.5px,#ffb100 89.5px,#fff900 91.5px,#b7ff48 93.5px,#09fff6 97.5px,#00d3ff 98.5px,#0026ff 101.5px,#0000f0 102.5px,#0000c8 103.5px,#0000b1 104.5px,#0000a8 107.5px,#0000b7 109.5px,#0000d4 110.5px,#0003ff 111.5px,#0084ff 113.5px,#00c9ff 114.5px,#09fff6 115.5px,#a6ff59 118.5px,#d4ff2b 119.5px,#f6ff09 120.5px,#ffed00 122.5px,#fff400 124.5px,#faff05 125.5px,#d9ff26 126.5px,#6bff94 128.5px,#2effd1 129.5px,#00f1ff 130.5px,#0079ff 132.5px,#0048ff 133.5px,#002dff 134.5px,#0026ff 135.5px,#0029ff 136.5px,#003dff 137.5px,#0069ff 138.5px,#00daff 140.5px,#09fff6 141.5px,#ccff33 147.5px,#fdff02 149.5px,#ffc400 156.5px,#ff6f00 166.5px,#ff5400 173.5px,#ff4800 179.5px,#ff0d00 188.5px,#ff0000 192.5px,#e00000 194.5px,#a60000 196.5px,#920000 197.5px,#8a0000 201.5px,#8a0000 227.5px)"></i><i style="top:96px;height:1px;background:linear-gradient(90deg,#8a0000 0.5px,#8d0000 49.5px,#c20000 61.5px,#e20000 76.5px,#ff0400 80.5px,#ff7800 87.5px,#ffb100 89.5px,#fff800 91.5px,#b8ff47 93.5px,#0afff5 97.5px,#00d4ff 98.5px,#0026ff 101.5px,#0000f0 102.5px,#0000c8 103.5px,#0000b1 104.5px,#0000a8 107.5px,#0000b7 109.5px,#0000d5 110.5px,#0005ff 111.5px,#0087ff 113.5px,#00ccff 114.5px,#0cfff3 115.5px,#aaff55 118.5px,#d7ff28 119.5px,#f9ff06 120.5px,#ffe700 122.5px,#ffef00 124.5px,#fdff02 125.5px,#dcff23 126.5px,#70ff8f 128.5px,#00f6ff 130.5px,#007eff 132.5px,#004bff 133.5px,#002eff 134.5px,#0026ff 135.5px,#0028ff 136.5px,#003aff 137.5px,#0063ff 138.5px,#00d4ff 140.5px,#04fffb 141.5px,#c9ff36 147.5px,#fcff03 149.5px,#ff7100 166.5px,#ff5500 173.5px,#ff4800 179.5px,#ff0f00 188.5px,#ff0200 192.5px,#f80000 193.5px,#cc0000 195.5px,#970000 197.5px,#8a0000 199.5px,#8a0000 227.5px)"></i><i style="top:97px;height:1px;background:linear-gradient(90deg,#8a0000 0.5px,#8e0000 17.5px,#8f0000 48.5px,#c10000 60.5px,#e30000 76.5px,#ff0400 80.5px,#ff7700 87.5px,#ffb000 89.5px,#fff800 91.5px,#b8ff47 93.5px,#0afff5 97.5px,#00d4ff 98.5px,#0026ff 101.5px,#0000f0 102.5px,#0000c8 103.5px,#0000b1 104.5px,#0000a9 107.5px,#0000ab 108.5px,#0000b8 109.5px,#0000d6 110.5px,#0006ff 111.5px,#0089ff 113.5px,#00cfff 114.5px,#0ffff0 115.5px,#afff50 118.5px,#dcff23 119.5px,#feff01 120.5px,#ffe100 122.5px,#ffeb00 124.5px,#fffe00 125.5px,#dfff20 126.5px,#74ff8b 128.5px,#00fcff 130.5px,#0083ff 132.5px,#004eff 133.5px,#0030ff 134.5px,#0026ff 135.5px,#0027ff 136.5px,#0036ff 137.5px,#005cff 138.5px,#00fdff 141.5px,#c5ff3a 147.5px,#faff05 149.5px,#ff7300 166.5px,#ff5600 173.5px,#ff4300 180.5px,#ff1100 188.5px,#fd0000 193.5px,#d70000 195.5px,#9f0000 197.5px,#900000 198.5px,#8a0000 209.5px,#8a0000 227.5px)"></i><i style="top:98px;height:1px;background:linear-gradient(90deg,#8a0000 0.5px,#8e0000 11.5px,#940000 16.5px,#8a0000 24.5px,#900000 47.5px,#bd0000 58.5px,#df0000 75.5px,#ff0300 80.5px,#ff6300 86.5px,#ff8f00 88.5px,#fff700 91.5px,#b9ff46 93.5px,#0bfff4 97.5px,#00d5ff 98.5px,#0026ff 101.5px,#0000f0 102.5px,#0000c8 103.5px,#0000b1 104.5px,#0000a9 107.5px,#0000ac 108.5px,#0000b9 109.5px,#0007ff 111.5px,#008cff 113.5px,#00d2ff 114.5px,#13ffec 115.5px,#b5ff4a 118.5px,#e2ff1d 119.5px,#fffb00 120.5px,#ffda00 122.5px,#ffda00 123.5px,#fffa00 125.5px,#e2ff1d 126.5px,#79ff86 128.5px,#03fffc 130.5px,#0052ff 133.5px,#0031ff 134.5px,#0026ff 135.5px,#0026ff 136.5px,#0033ff 137.5px,#0055ff 138.5px,#00f5ff 141.5px,#1effe1 142.5px,#deff21 148.5px,#f7ff08 149.5px,#ffed00 151.5px,#ff7000 167.5px,#ff5600 174.5px,#ff4400 180.5px,#ff1500 188.5px,#ff0200 193.5px,#f50000 194.5px,#c60000 196.5px,#950000 198.5px,#8a0000 200.5px,#8a0000 227.5px)"></i><i style="top:99px;height:1px;background:linear-gradient(90deg,#8a0000 0.5px,#8d0000 10.5px,#9b0000 15.5px,#8a0000 22.5px,#8f0000 45.5px,#bc0000 57.5px,#e00000 75.5px,#ff0300 80.5px,#ff5000 85.5px,#ff8d00 88.5px,#fff600 91.5px,#baff45 93.5px,#0cfff3 97.5px,#00d6ff 98.5px,#0026ff 101.5px,#0000f1 102.5px,#0000c8 103.5px,#0000b1 104.5px,#0000a9 107.5px,#0000ac 108.5px,#0000ba 109.5px,#0009ff 111.5px,#008eff 113.5px,#00d5ff 114.5px,#16ffe9 115.5px,#bbff44 118.5px,#e9ff16 119.5px,#fff400 120.5px,#ffd200 122.5px,#ffd300 123.5px,#fff700 125.5px,#e5ff1a 126.5px,#7dff82 128.5px,#09fff6 130.5px,#008dff 132.5px,#0056ff 133.5px,#0033ff 134.5px,#0026ff 135.5px,#0026ff 136.5px,#0030ff 137.5px,#004eff 138.5px,#00eaff 141.5px,#16ffe9 142.5px,#d9ff26 148.5px,#f3ff0c 149.5px,#fffa00 150.5px,#ff7300 167.5px,#ff5800 174.5px,#ff3f00 181.5px,#ff1200 190.5px,#fc0000 194.5px,#d20000 196.5px,#9c0000 198.5px,#8a0000 200.5px,#8a0000 227.5px)"></i><i style="top:100px;height:1px;background:linear-gradient(90deg,#8a0000 0.5px,#900000 10.5px,#a10000 15.5px,#8a0000 22.5px,#900000 44.5px,#ba0000 55.5px,#dc0000 74.5px,#ff0300 80.5px,#ff2b00 83.5px,#ff7300 87.5px,#ffab00 89.5px,#fff500 91.5px,#e2ff1d 92.5px,#3cffc3 96.5px,#0cfff3 97.5px,#00d6ff 98.5px,#0027ff 101.5px,#0000f1 102.5px,#0000c8 103.5px,#0000b1 104.5px,#0000a9 107.5px,#0000ad 108.5px,#0000bb 109.5px,#0000da 110.5px,#000aff 111.5px,#0091ff 113.5px,#00d8ff 114.5px,#1affe5 115.5px,#c3ff3c 118.5px,#f0ff0f 119.5px,#ffed00 120.5px,#ffcb00 122.5px,#ffcc00 123.5px,#fff400 125.5px,#e7ff18 126.5px,#81ff7e 128.5px,#0efff1 130.5px,#00d0ff 131.5px,#005aff 133.5px,#0035ff 134.5px,#0027ff 135.5px,#002dff 137.5px,#0046ff 138.5px,#00aaff 140.5px,#00dfff 141.5px,#0cfff3 142.5px,#d3ff2c 148.5px,#efff10 149.5px,#fffd00 150.5px,#ff7700 167.5px,#ff5a00 174.5px,#ff3b00 182.5px,#ff0300 194.5px,#f40000 195.5px,#a60000 198.5px,#940000 199.5px,#8a0000 202.5px,#8a0000 227.5px)"></i><i style="top:101px;height:1px;background:linear-gradient(90deg,#8a0000 0.5px,#8e0000 9.5px,#a70000 14.5px,#990000 18.5px,#8a0000 22.5px,#8d0000 42.5px,#b90000 54.5px,#dc0000 74.5px,#ff0300 80.5px,#ff2900 83.5px,#ff8a00 88.5px,#fff400 91.5px,#e4ff1b 92.5px,#3dffc2 96.5px,#0efff1 97.5px,#00d7ff 98.5px,#0027ff 101.5px,#0000f1 102.5px,#0000c8 103.5px,#0000b1 104.5px,#0000a9 107.5px,#0000ae 108.5px,#0000bd 109.5px,#0000dc 110.5px,#000cff 111.5px,#0093ff 113.5px,#00dbff 114.5px,#1effe1 115.5px,#cbff34 118.5px,#f8ff07 119.5px,#ffd000 121.5px,#ffc300 122.5px,#ffc500 123.5px,#fff000 125.5px,#eaff15 126.5px,#4dffb2 129.5px,#14ffeb 130.5px,#00d6ff 131.5px,#005eff 133.5px,#0037ff 134.5px,#0027ff 135.5px,#002aff 137.5px,#003fff 138.5px,#0068ff 139.5px,#00d3ff 141.5px,#02fffd 142.5px,#cdff32 148.5px,#feff01 150.5px,#ff8700 165.5px,#ff5f00 173.5px,#ff3900 183.5px,#fc0000 195.5px,#9e0000 199.5px,#8b0000 201.5px,#8a0000 227.5px)"></i><i style="top:102px;height:1px;background:linear-gradient(90deg,#8a0000 0.5px,#900000 9.5px,#ae0000 14.5px,#9e0000 18.5px,#8a0000 22.5px,#8d0000 41.5px,#b70000 52.5px,#dc0000 74.5px,#fe0000 79.5px,#ff1600 82.5px,#ff6f00 87.5px,#ffa800 89.5px,#fff200 91.5px,#e5ff1a 92.5px,#3effc1 96.5px,#0ffff0 97.5px,#00d8ff 98.5px,#0027ff 101.5px,#0000f1 102.5px,#0000c8 103.5px,#0000b1 104.5px,#0000a9 107.5px,#0000ae 108.5px,#0000be 109.5px,#0000dd 110.5px,#000dff 111.5px,#0096ff 113.5px,#00deff 114.5px,#22ffdd 115.5px,#d3ff2c 118.5px,#ffff00 119.5px,#ffc800 121.5px,#ffba00 122.5px,#ffbe00 123.5px,#ffed00 125.5px,#ecff13 126.5px,#52ffad 129.5px,#19ffe6 130.5px,#00dcff 131.5px,#0062ff 133.5px,#0039ff 134.5px,#0027ff 135.5px,#0028ff 137.5px,#0039ff 138.5px,#005fff 139.5px,#00f7ff 142.5px,#42ffbd 144.5px,#e4ff1b 149.5px,#fbff04 150.5px,#ff7200 169.5px,#ff0d00 194.5px,#ff0400 195.5px,#f40000 196.5px,#9a0000 200.5px,#8b0000 202.5px,#8a0000 227.5px)"></i><i style="top:103px;height:1px;background:linear-gradient(90deg,#8a0000 0.5px,#8d0000 8.5px,#b40000 14.5px,#aa0000 17.5px,#8d0000 21.5px,#8d0000 40.5px,#b40000 50.5px,#dc0000 74.5px,#fb0000 78.5px,#ff0a00 81.5px,#ff3500 84.5px,#ff8600 88.5px,#fff100 91.5px,#e6ff19 92.5px,#40ffbf 96.5px,#10ffef 97.5px,#00daff 98.5px,#0027ff 101.5px,#0000f1 102.5px,#0000c8 103.5px,#0000b1 104.5px,#0000a9 107.5px,#0000af 108.5px,#0000bf 109.5px,#0000de 110.5px,#000eff 111.5px,#0098ff 113.5px,#00e1ff 114.5px,#27ffd8 115.5px,#a4ff5b 117.5px,#dcff23 118.5px,#fff800 119.5px,#ffc000 121.5px,#ffb200 122.5px,#ffb700 123.5px,#ffea00 125.5px,#efff10 126.5px,#56ffa9 129.5px,#1fffe0 130.5px,#00e2ff 131.5px,#0067ff 133.5px,#003cff 134.5px,#0028ff 135.5px,#0027ff 137.5px,#0035ff 138.5px,#0056ff 139.5px,#00ebff 142.5px,#16ffe9 143.5px,#dfff20 149.5px,#f7ff08 150.5px,#ffee00 152.5px,#ff6b00 171.5px,#ff0b00 195.5px,#ff0000 196.5px,#c10000 199.5px,#970000 201.5px,#8a0000 204.5px,#8a0000 227.5px)"></i><i style="top:104px;height:1px;background:linear-gradient(90deg,#8a0000 0.5px,#8e0000 8.5px,#ba0000 14.5px,#af0000 17.5px,#8e0000 21.5px,#8c0000 39.5px,#b40000 49.5px,#dd0000 74.5px,#fd0000 78.5px,#ff1300 82.5px,#ff6c00 87.5px,#ffa400 89.5px,#ffef00 91.5px,#e8ff17 92.5px,#41ffbe 96.5px,#11ffee 97.5px,#00dbff 98.5px,#0028ff 101.5px,#0000f1 102.5px,#0000c8 103.5px,#0000b1 104.5px,#0000a9 107.5px,#0000af 108.5px,#0000c1 109.5px,#0000e0 110.5px,#0010ff 111.5px,#009bff 113.5px,#00e5ff 114.5px,#2cffd3 115.5px,#adff52 117.5px,#e4ff1b 118.5px,#fff000 119.5px,#ffb800 121.5px,#ffab00 122.5px,#ffb100 123.5px,#ffe700 125.5px,#f1ff0e 126.5px,#24ffdb 130.5px,#00e7ff 131.5px,#006cff 133.5px,#003fff 134.5px,#002aff 135.5px,#0026ff 137.5px,#0031ff 138.5px,#004fff 139.5px,#00e1ff 142.5px,#0dfff2 143.5px,#daff25 149.5px,#f4ff0b 150.5px,#fffa00 151.5px,#ff7a00 169.5px,#ff1100 195.5px,#fc0000 197.5px,#950000 202.5px,#8a0000 206.5px,#8a0000 227.5px)"></i><i style="top:105px;height:1px;background:linear-gradient(90deg,#8a0000 0.5px,#8f0000 8.5px,#c00000 14.5px,#b30000 17.5px,#8f0000 21.5px,#8b0000 38.5px,#b30000 48.5px,#d80000 73.5px,#fe0000 78.5px,#ff1200 82.5px,#ff6a00 87.5px,#ffa200 89.5px,#ffed00 91.5px,#e9ff16 92.5px,#43ffbc 96.5px,#13ffec 97.5px,#00dcff 98.5px,#0028ff 101.5px,#0000f1 102.5px,#0000c8 103.5px,#0000b1 104.5px,#0000a9 107.5px,#0000b0 108.5px,#0000c2 109.5px,#0000e1 110.5px,#0011ff 111.5px,#009dff 113.5px,#00e8ff 114.5px,#30ffcf 115.5px,#b5ff4a 117.5px,#edff12 118.5px,#ffe900 119.5px,#ffb100 121.5px,#ffa300 122.5px,#ffab00 123.5px,#ffe300 125.5px,#f4ff0b 126.5px,#28ffd7 130.5px,#00edff 131.5px,#0071ff 133.5px,#0043ff 134.5px,#002cff 135.5px,#0026ff 137.5px,#002fff 138.5px,#0049ff 139.5px,#00d7ff 142.5px,#05fffa 143.5px,#d5ff2a 149.5px,#f0ff0f 150.5px,#fffc00 151.5px,#ff9f00 164.5px,#ff6500 174.5px,#ff1e00 193.5px,#ff0800 197.5px,#f90000 198.5px,#a20000 202.5px,#8e0000 204.5px,#8a0000 227.5px)"></i><i style="top:106px;height:1px;background:linear-gradient(90deg,#8a0000 0.5px,#900000 8.5px,#c40000 14.5px,#b70000 17.5px,#900000 21.5px,#8a0000 31.5px,#910000 39.5px,#b20000 47.5px,#d90000 73.5px,#ff0000 78.5px,#ff1200 82.5px,#ff5500 86.5px,#ff8100 88.5px,#ffec00 91.5px,#ebff14 92.5px,#44ffbb 96.5px,#14ffeb 97.5px,#00ddff 98.5px,#0028ff 101.5px,#0000f1 102.5px,#0000c8 103.5px,#0000b1 104.5px,#0000aa 107.5px,#0000b0 108.5px,#0000c2 109.5px,#0000e2 110.5px,#0013ff 111.5px,#00a0ff 113.5px,#00ecff 114.5px,#35ffca 115.5px,#bdff42 117.5px,#f4ff0b 118.5px,#ffe200 119.5px,#ffaa00 121.5px,#ff9d00 122.5px,#ffa500 123.5px,#ffe000 125.5px,#f7ff08 126.5px,#2dffd2 130.5px,#00f2ff 131.5px,#0076ff 133.5px,#0047ff 134.5px,#002dff 135.5px,#0025ff 137.5px,#002dff 138.5px,#0044ff 139.5px,#009dff 141.5px,#00fdff 143.5px,#d1ff2e 149.5px,#fffe00 151.5px,#ffb400 161.5px,#ff6800 174.5px,#ff2b00 191.5px,#ff1100 197.5px,#f60000 199.5px,#a60000 203.5px,#8e0000 206.5px,#8a0000 227.5px)"></i><i style="top:107px;height:1px;background:linear-gradient(90deg,#8a0000 0.5px,#900000 8.5px,#c60000 14.5px,#b90000 17.5px,#920000 21.5px,#8b0000 28.5px,#8f0000 38.5px,#b10000 46.5px,#d90000 73.5px,#ff0100 78.5px,#ff1100 82.5px,#ff5300 86.5px,#ff7f00 88.5px,#ffea00 91.5px,#edff12 92.5px,#46ffb9 96.5px,#16ffe9 97.5px,#00dfff 98.5px,#0029ff 101.5px,#0000f1 102.5px,#0000c8 103.5px,#0000b1 104.5px,#0000a8 106.5px,#0000b0 108.5px,#0000c3 109.5px,#0000e3 110.5px,#0015ff 111.5px,#00a3ff 113.5px,#00efff 114.5px,#3affc5 115.5px,#c3ff3c 117.5px,#faff05 118.5px,#ffa400 121.5px,#ff9700 122.5px,#ffa000 123.5px,#f9ff06 126.5px,#31ffce 130.5px,#00f7ff 131.5px,#007bff 133.5px,#004aff 134.5px,#002fff 135.5px,#0025ff 137.5px,#002bff 138.5px,#003fff 139.5px,#0097ff 141.5px,#00f7ff 143.5px,#44ffbb 145.5px,#eaff15 150.5px,#feff01 151.5px,#ffb700 161.5px,#ff6100 176.5px,#ff3900 189.5px,#ff1000 198.5px,#ff0500 199.5px,#e30000 201.5px,#a40000 205.5px,#8e0000 208.5px,#8a0000 227.5px)"></i><i style="top:108px;height:1px;background:linear-gradient(90deg,#8a0000 0.5px,#900000 8.5px,#c70000 14.5px,#b90000 17.5px,#940000 21.5px,#8d0000 27.5px,#950000 39.5px,#b00000 45.5px,#d60000 72.5px,#e90000 75.5px,#fd0000 77.5px,#ff1100 82.5px,#ff3f00 85.5px,#ff7e00 88.5px,#ffc100 90.5px,#ffe800 91.5px,#eeff11 92.5px,#47ffb8 96.5px,#17ffe8 97.5px,#00e0ff 98.5px,#0029ff 101.5px,#0000f1 102.5px,#0000c8 103.5px,#0000b1 104.5px,#0000a8 106.5px,#0000b1 108.5px,#0000c4 109.5px,#0000e4 110.5px,#0016ff 111.5px,#00a6ff 113.5px,#00f3ff 114.5px,#3fffc0 115.5px,#c9ff36 117.5px,#feff01 118.5px,#ffba00 120.5px,#ff9f00 121.5px,#ff9200 122.5px,#ff9c00 123.5px,#ffda00 125.5px,#fcff03 126.5px,#35ffca 130.5px,#00fcff 131.5px,#007fff 133.5px,#004dff 134.5px,#0030ff 135.5px,#0025ff 137.5px,#0029ff 138.5px,#003cff 139.5px,#0061ff 140.5px,#00f2ff 143.5px,#1cffe3 144.5px,#cbff34 149.5px,#feff01 151.5px,#ffb900 161.5px,#ff5e00 177.5px,#ff3e00 189.5px,#ff1000 199.5px,#f70000 201.5px,#9a0000 208.5px,#8a0000 212.5px,#8a0000 227.5px)"></i><i style="top:109px;height:1px;background:linear-gradient(90deg,#8a0000 0.5px,#900000 8.5px,#c60000 14.5px,#b90000 17.5px,#960000 21.5px,#920000 27.5px,#970000 39.5px,#b00000 45.5px,#d60000 72.5px,#e90000 75.5px,#fd0000 77.5px,#ff1100 82.5px,#ff3f00 85.5px,#ff7c00 88.5px,#ffbf00 90.5px,#ffe600 91.5px,#f0ff0f 92.5px,#49ffb6 96.5px,#19ffe6 97.5px,#00e2ff 98.5px,#002aff 101.5px,#0000f2 102.5px,#0000c8 103.5px,#0000b1 104.5px,#0000a8 106.5px,#0000b1 108.5px,#0000c4 109.5px,#0000e5 110.5px,#0018ff 111.5px,#00a9ff 113.5px,#00f7ff 114.5px,#8bff74 116.5px,#cdff32 117.5px,#fffc00 118.5px,#ffb600 120.5px,#ff9b00 121.5px,#ff8d00 122.5px,#ff9800 123.5px,#ffd700 125.5px,#ffff00 126.5px,#39ffc6 130.5px,#01fffe 131.5px,#0083ff 133.5px,#0050ff 134.5px,#0032ff 135.5px,#0024ff 137.5px,#0028ff 138.5px,#0039ff 139.5px,#005dff 140.5px,#00efff 143.5px,#1affe5 144.5px,#caff35 149.5px,#fdff02 151.5px,#ffbb00 161.5px,#ff5b00 178.5px,#ff4700 188.5px,#ff1100 200.5px,#fe0000 202.5px,#9a0000 210.5px,#8b0000 214.5px,#8a0000 227.5px)"></i><i style="top:110px;height:1px;background:linear-gradient(90deg,#8a0000 0.5px,#900000 8.5px,#c40000 14.5px,#b70000 17.5px,#980000 21.5px,#990000 28.5px,#9d0000 40.5px,#b00000 45.5px,#d60000 72.5px,#e90000 75.5px,#fd0000 77.5px,#ff1100 82.5px,#ff3e00 85.5px,#ff7b00 88.5px,#ffbc00 90.5px,#ffe300 91.5px,#f3ff0c 92.5px,#4cffb3 96.5px,#1cffe3 97.5px,#00e5ff 98.5px,#002cff 101.5px,#0000f3 102.5px,#0000c9 103.5px,#0000b2 104.5px,#0000a8 106.5px,#0000b1 108.5px,#0000c5 109.5px,#0000e7 110.5px,#001aff 111.5px,#00adff 113.5px,#00fbff 114.5px,#d2ff2d 117.5px,#fff800 118.5px,#ffb200 120.5px,#ff9700 121.5px,#ff8900 122.5px,#ff9400 123.5px,#ffd400 125.5px,#fffb00 126.5px,#a5ff5a 128.5px,#05fffa 131.5px,#0088ff 133.5px,#0054ff 134.5px,#0033ff 135.5px,#0026ff 136.5px,#0027ff 138.5px,#0037ff 139.5px,#005bff 140.5px,#00edff 143.5px,#18ffe7 144.5px,#caff35 149.5px,#fdff02 151.5px,#ffc200 160.5px,#ff5b00 179.5px,#ff4b00 188.5px,#ff2100 198.5px,#fe0000 204.5px,#9b0000 212.5px,#8b0000 219.5px,#8a0000 227.5px)"></i><i style="top:111px;height:1px;background:linear-gradient(90deg,#8a0000 0.5px,#900000 8.5px,#c00000 14.5px,#b50000 17.5px,#9a0000 21.5px,#a00000 36.5px,#9e0000 40.5px,#b10000 46.5px,#d90000 73.5px,#fd0000 77.5px,#ff1100 82.5px,#ff3e00 85.5px,#ff7900 88.5px,#ffb900 90.5px,#f7ff08 92.5px,#4fffb0 96.5px,#1fffe0 97.5px,#00e8ff 98.5px,#002eff 101.5px,#0000f5 102.5px,#0000ca 103.5px,#0000b2 104.5px,#0000a8 106.5px,#0000b1 108.5px,#0000c5 109.5px,#0000e8 110.5px,#001dff 111.5px,#00b1ff 113.5px,#00ffff 114.5px,#95ff6a 116.5px,#d6ff29 117.5px,#fff500 118.5px,#ffaf00 120.5px,#ff9300 121.5px,#ff8500 122.5px,#ff9000 123.5px,#ffcf00 125.5px,#fff600 126.5px,#dcff23 127.5px,#09fff6 131.5px,#00cbff 132.5px,#0057ff 134.5px,#0034ff 135.5px,#0026ff 136.5px,#0027ff 138.5px,#0035ff 139.5px,#0058ff 140.5px,#00ebff 143.5px,#17ffe8 144.5px,#caff35 149.5px,#fdff02 151.5px,#ffc400 160.5px,#ff5e00 179.5px,#ff4f00 188.5px,#ff2600 198.5px,#ff1000 204.5px,#fe0000 206.5px,#ab0000 213.5px,#8f0000 220.5px,#8a0000 227.5px)"></i><i style="top:112px;height:1px;background:linear-gradient(90deg,#8a0000 0.5px,#8f0000 8.5px,#bc0000 14.5px,#aa0000 18.5px,#980000 22.5px,#a40000 35.5px,#9e0000 40.5px,#b10000 46.5px,#d90000 73.5px,#fd0000 77.5px,#ff1100 82.5px,#ff3d00 85.5px,#ff7800 88.5px,#ffb600 90.5px,#fbff04 92.5px,#53ffac 96.5px,#23ffdc 97.5px,#00edff 98.5px,#0031ff 101.5px,#0000f8 102.5px,#0000cc 103.5px,#0000b3 104.5px,#0000a9 106.5px,#0000b1 108.5px,#0000c5 109.5px,#0000e9 110.5px,#001fff 111.5px,#05fffa 114.5px,#9aff65 116.5px,#daff25 117.5px,#fff200 118.5px,#ff9000 121.5px,#ff8200 122.5px,#ff8d00 123.5px,#fff000 126.5px,#e3ff1c 127.5px,#0efff1 131.5px,#00d0ff 132.5px,#005bff 134.5px,#0036ff 135.5px,#0027ff 136.5px,#0027ff 138.5px,#0034ff 139.5px,#0056ff 140.5px,#00eaff 143.5px,#16ffe9 144.5px,#c9ff36 149.5px,#fdff02 151.5px,#ffca00 159.5px,#ff6200 179.5px,#ff5300 188.5px,#ff2c00 198.5px,#ff1100 206.5px,#fe0000 208.5px,#c20000 214.5px,#8b0000 225.5px,#8a0000 227.5px)"></i><i style="top:113px;height:1px;background:linear-gradient(90deg,#8a0000 0.5px,#8e0000 8.5px,#b60000 14.5px,#a70000 18.5px,#970000 23.5px,#a30000 35.5px,#9e0000 40.5px,#b10000 46.5px,#d90000 73.5px,#fd0000 77.5px,#ff1100 82.5px,#ff4f00 86.5px,#ff9100 89.5px,#ffff00 92.5px,#57ffa8 96.5px,#27ffd8 97.5px,#00f1ff 98.5px,#0035ff 101.5px,#0000fb 102.5px,#0000ce 103.5px,#0000b4 104.5px,#0000a9 106.5px,#0000b1 108.5px,#0000c6 109.5px,#0000eb 110.5px,#0022ff 111.5px,#00b9ff 113.5px,#0afff5 114.5px,#9fff60 116.5px,#dfff20 117.5px,#ffee00 118.5px,#ff8d00 121.5px,#ff7e00 122.5px,#ff8900 123.5px,#ffe900 126.5px,#ebff14 127.5px,#13ffec 131.5px,#00d5ff 132.5px,#005fff 134.5px,#0037ff 135.5px,#0027ff 136.5px,#0026ff 138.5px,#0033ff 139.5px,#0054ff 140.5px,#00e8ff 143.5px,#14ffeb 144.5px,#c9ff36 149.5px,#fdff02 151.5px,#ffcc00 159.5px,#ff6700 179.5px,#ff5800 188.5px,#ff3000 199.5px,#ff1900 207.5px,#fe0000 210.5px,#a20000 223.5px,#8d0000 226.5px,#8b0000 227.5px)"></i><i style="top:114px;height:1px;background:linear-gradient(90deg,#8a0000 0.5px,#8c0000 8.5px,#b00000 14.5px,#9d0000 19.5px,#950000 24.5px,#9e0000 35.5px,#9d0000 40.5px,#b00000 45.5px,#d60000 72.5px,#e90000 75.5px,#fd0000 77.5px,#ff1100 82.5px,#ff4e00 86.5px,#ff8f00 89.5px,#fffa00 92.5px,#89ff76 95.5px,#2cffd3 97.5px,#00f6ff 98.5px,#0000fe 102.5px,#0000d0 103.5px,#0000b5 104.5px,#0000a9 106.5px,#0000b1 108.5px,#0000c7 109.5px,#0000ec 110.5px,#0025ff 111.5px,#00beff 113.5px,#0ffff0 114.5px,#a3ff5c 116.5px,#e3ff1c 117.5px,#ffeb00 118.5px,#ff8900 121.5px,#ff7b00 122.5px,#ff8600 123.5px,#ffe300 126.5px,#f3ff0c 127.5px,#53ffac 130.5px,#18ffe7 131.5px,#00daff 132.5px,#0063ff 134.5px,#003aff 135.5px,#0028ff 136.5px,#0026ff 138.5px,#0033ff 139.5px,#0052ff 140.5px,#00e6ff 143.5px,#13ffec 144.5px,#c9ff36 149.5px,#fdff02 151.5px,#ffd200 158.5px,#ff6a00 180.5px,#ff5800 189.5px,#ff3700 199.5px,#ff2000 208.5px,#fe0000 213.5px,#ca0000 222.5px,#970000 226.5px,#910000 227.5px)"></i><i style="top:115px;height:1px;background:linear-gradient(90deg,#8a0000 0.5px,#8f0000 9.5px,#aa0000 14.5px,#900000 23.5px,#9b0000 40.5px,#b10000 46.5px,#d90000 73.5px,#fd0000 77.5px,#ff1100 82.5px,#ff4e00 86.5px,#ff8c00 89.5px,#fff500 92.5px,#e1ff1e 93.5px,#31ffce 97.5px,#00fbff 98.5px,#0003ff 102.5px,#0000d3 103.5px,#0000b6 104.5px,#0000a9 106.5px,#0000b2 108.5px,#0000c7 109.5px,#0000ee 110.5px,#0028ff 111.5px,#00c3ff 113.5px,#13ffec 114.5px,#a8ff57 116.5px,#e7ff18 117.5px,#ffe800 118.5px,#ff8600 121.5px,#ff7800 122.5px,#ff8200 123.5px,#fbff04 127.5px,#93ff6c 129.5px,#1effe1 131.5px,#00dfff 132.5px,#0067ff 134.5px,#003cff 135.5px,#0029ff 136.5px,#0026ff 138.5px,#0032ff 139.5px,#0050ff 140.5px,#00e5ff 143.5px,#12ffed 144.5px,#c8ff37 149.5px,#fdff02 151.5px,#ffd300 158.5px,#ff6f00 180.5px,#ff5d00 189.5px,#ff3e00 199.5px,#ff2700 209.5px,#f90000 219.5px,#e50000 222.5px,#a30000 227.5px)"></i><i style="top:116px;height:1px;background:linear-gradient(90deg,#8a0000 0.5px,#8d0000 9.5px,#a40000 15.5px,#8c0000 23.5px,#940000 39.5px,#b10000 46.5px,#d90000 73.5px,#fd0000 77.5px,#ff1100 82.5px,#ff4d00 86.5px,#ff8a00 89.5px,#fff100 92.5px,#e6ff19 93.5px,#35ffca 97.5px,#01fffe 98.5px,#0007ff 102.5px,#0000d6 103.5px,#0000b7 104.5px,#0000a9 106.5px,#0000b2 108.5px,#0000c8 109.5px,#0000ef 110.5px,#002aff 111.5px,#00c7ff 113.5px,#18ffe7 114.5px,#acff53 116.5px,#eaff15 117.5px,#ffe500 118.5px,#ff8400 121.5px,#ff7500 122.5px,#ff7f00 123.5px,#ffd700 126.5px,#fffc00 127.5px,#d4ff2b 128.5px,#23ffdc 131.5px,#00e4ff 132.5px,#006bff 134.5px,#003fff 135.5px,#002aff 136.5px,#0026ff 138.5px,#0031ff 139.5px,#004eff 140.5px,#00e3ff 143.5px,#11ffee 144.5px,#c8ff37 149.5px,#fdff02 151.5px,#ffd900 157.5px,#ff7500 180.5px,#ff5e00 190.5px,#ff4200 201.5px,#ff2a00 211.5px,#fc0000 222.5px,#be0000 227.5px)"></i><i style="top:117px;height:1px;background:linear-gradient(90deg,#8a0000 0.5px,#8f0000 10.5px,#9e0000 15.5px,#8a0000 23.5px,#910000 39.5px,#b10000 47.5px,#d90000 73.5px,#fd0000 77.5px,#ff1100 82.5px,#ff4c00 86.5px,#ff8800 89.5px,#ffec00 92.5px,#ebff14 93.5px,#3affc5 97.5px,#06fff9 98.5px,#00c9ff 99.5px,#000bff 102.5px,#0000d8 103.5px,#0000b8 104.5px,#0000ab 105.5px,#0000aa 107.5px,#0000b2 108.5px,#0000c8 109.5px,#0000f1 110.5px,#002dff 111.5px,#00cbff 113.5px,#1cffe3 114.5px,#b0ff4f 116.5px,#edff12 117.5px,#ffe300 118.5px,#ff8100 121.5px,#ff7200 122.5px,#ff7c00 123.5px,#ffd200 126.5px,#fff500 127.5px,#dcff23 128.5px,#28ffd7 131.5px,#00e8ff 132.5px,#006fff 134.5px,#0042ff 135.5px,#002bff 136.5px,#0026ff 138.5px,#0030ff 139.5px,#004dff 140.5px,#00e2ff 143.5px,#10ffef 144.5px,#c8ff37 149.5px,#fdff02 151.5px,#ffda00 157.5px,#ff7a00 180.5px,#ff5c00 192.5px,#ff2800 216.5px,#ff0f00 222.5px,#fb0000 224.5px,#dc0000 227.5px)"></i><i style="top:118px;height:1px;background:linear-gradient(90deg,#8a0000 0.5px,#8f0000 11.5px,#960000 16.5px,#8a0000 24.5px,#8e0000 39.5px,#b20000 49.5px,#d90000 73.5px,#fd0000 77.5px,#ff1100 82.5px,#ff4c00 86.5px,#ff8600 89.5px,#ffe900 92.5px,#f0ff0f 93.5px,#3effc1 97.5px,#0afff5 98.5px,#00ceff 99.5px,#000fff 102.5px,#0000db 103.5px,#0000b9 104.5px,#0000ab 105.5px,#0000aa 107.5px,#0000b2 108.5px,#0000c9 109.5px,#0000f2 110.5px,#0030ff 111.5px,#00cfff 113.5px,#20ffdf 114.5px,#b3ff4c 116.5px,#f0ff0f 117.5px,#ffe100 118.5px,#ff7e00 121.5px,#ff6f00 122.5px,#ff7900 123.5px,#ffee00 127.5px,#e4ff1b 128.5px,#6dff92 130.5px,#2dffd2 131.5px,#00ecff 132.5px,#0073ff 134.5px,#0045ff 135.5px,#002cff 136.5px,#0026ff 138.5px,#0030ff 139.5px,#004bff 140.5px,#00e1ff 143.5px,#10ffef 144.5px,#c8ff37 149.5px,#fdff02 151.5px,#ffdb00 157.5px,#ff7d00 181.5px,#ff5200 200.5px,#ff2400 221.5px,#fb0000 226.5px,#f50000 227.5px)"></i><i style="top:119px;height:1px;background:linear-gradient(90deg,#8a0000 0.5px,#910000 13.5px,#8a0000 37.5px,#a30000 45.5px,#de0000 74.5px,#fd0000 77.5px,#ff1100 82.5px,#ff4c00 86.5px,#ff8500 89.5px,#ffe500 92.5px,#f3ff0c 93.5px,#42ffbd 97.5px,#0efff1 98.5px,#00d2ff 99.5px,#0012ff 102.5px,#0000dd 103.5px,#0000ba 104.5px,#0000ab 105.5px,#0000aa 107.5px,#0000b2 108.5px,#0000c9 109.5px,#0000f3 110.5px,#0032ff 111.5px,#00d2ff 113.5px,#23ffdc 114.5px,#b5ff4a 116.5px,#f2ff0d 117.5px,#ffdf00 118.5px,#ff7c00 121.5px,#ff6d00 122.5px,#ff7600 123.5px,#ffe900 127.5px,#ecff13 128.5px,#73ff8c 130.5px,#31ffce 131.5px,#00f0ff 132.5px,#0076ff 134.5px,#0047ff 135.5px,#002dff 136.5px,#0026ff 138.5px,#002fff 139.5px,#004aff 140.5px,#00e0ff 143.5px,#0ffff0 144.5px,#c8ff37 149.5px,#fdff02 151.5px,#ffe100 156.5px,#ff8200 181.5px,#ff5900 199.5px,#ff2800 222.5px,#ff0b00 227.5px)"></i><i style="top:120px;height:1px;background:linear-gradient(90deg,#8a0000 0.5px,#8e0000 41.5px,#c20000 61.5px,#de0000 74.5px,#fd0000 77.5px,#ff1100 82.5px,#ff4b00 86.5px,#ff8400 89.5px,#ffe300 92.5px,#f7ff08 93.5px,#45ffba 97.5px,#11ffee 98.5px,#00d5ff 99.5px,#0015ff 102.5px,#0000e0 103.5px,#0000bb 104.5px,#0000ac 105.5px,#0000aa 107.5px,#0000b2 108.5px,#0000ca 109.5px,#0000f4 110.5px,#0034ff 111.5px,#00d5ff 113.5px,#26ffd9 114.5px,#b7ff48 116.5px,#f4ff0b 117.5px,#ffdd00 118.5px,#ff7900 121.5px,#ff6a00 122.5px,#ff7400 123.5px,#ffe400 127.5px,#f1ff0e 128.5px,#78ff87 130.5px,#35ffca 131.5px,#00f2ff 132.5px,#0078ff 134.5px,#0049ff 135.5px,#002eff 136.5px,#0025ff 138.5px,#002fff 139.5px,#0049ff 140.5px,#00abff 142.5px,#00e0ff 143.5px,#0ffff0 144.5px,#c8ff37 149.5px,#fdff02 151.5px,#ffe200 156.5px,#ff8300 182.5px,#ff5e00 199.5px,#ff2600 224.5px,#ff1a00 227.5px)"></i><i style="top:121px;height:1px;background:linear-gradient(90deg,#8a0000 0.5px,#8e0000 42.5px,#de0000 74.5px,#fd0000 77.5px,#ff1100 82.5px,#ff4b00 86.5px,#ff8400 89.5px,#f9ff06 93.5px,#47ffb8 97.5px,#13ffec 98.5px,#00d8ff 99.5px,#0018ff 102.5px,#0000e1 103.5px,#0000bd 104.5px,#0000ac 105.5px,#0000aa 107.5px,#0000b2 108.5px,#0000ca 109.5px,#0000f5 110.5px,#0035ff 111.5px,#00d7ff 113.5px,#27ffd8 114.5px,#b9ff46 116.5px,#f5ff0a 117.5px,#ffdc00 118.5px,#ff7700 121.5px,#ff6800 122.5px,#ff7100 123.5px,#ffe100 127.5px,#f5ff0a 128.5px,#beff41 129.5px,#38ffc7 131.5px,#00f4ff 132.5px,#007aff 134.5px,#004aff 135.5px,#002eff 136.5px,#0025ff 138.5px,#002eff 139.5px,#0048ff 140.5px,#00abff 142.5px,#00dfff 143.5px,#0efff1 144.5px,#c7ff38 149.5px,#fdff02 151.5px,#ffe300 156.5px,#ff8400 183.5px,#ff6200 199.5px,#ff2200 227.5px)"></i><i style="top:122px;height:1px;background:linear-gradient(90deg,#8a0000 0.5px,#8f0000 44.5px,#d80000 73.5px,#fd0000 77.5px,#ff1100 82.5px,#ff4b00 86.5px,#ff8300 89.5px,#faff05 93.5px,#48ffb7 97.5px,#14ffeb 98.5px,#00d9ff 99.5px,#0019ff 102.5px,#0000e2 103.5px,#0000bd 104.5px,#0000ad 105.5px,#0000aa 107.5px,#0000b2 108.5px,#0000ca 109.5px,#0000f5 110.5px,#0036ff 111.5px,#00d8ff 113.5px,#28ffd7 114.5px,#b9ff46 116.5px,#f6ff09 117.5px,#ffb600 119.5px,#ff7500 121.5px,#ff6500 122.5px,#ff6f00 123.5px,#ffe000 127.5px,#f7ff08 128.5px,#c0ff3f 129.5px,#39ffc6 131.5px,#00f5ff 132.5px,#007bff 134.5px,#004bff 135.5px,#002fff 136.5px,#0025ff 138.5px,#002eff 139.5px,#0048ff 140.5px,#00aaff 142.5px,#00dfff 143.5px,#0efff1 144.5px,#c7ff38 149.5px,#fdff02 151.5px,#ffe700 155.5px,#ff8500 184.5px,#ff6200 201.5px,#ff2500 227.5px)"></i><i style="top:123px;height:1px;background:linear-gradient(90deg,#8a0000 0.5px,#8f0000 47.5px,#bb0000 65.5px,#dc0000 74.5px,#fd0000 77.5px,#ff1100 82.5px,#ff4b00 86.5px,#ff8300 89.5px,#fbff04 93.5px,#49ffb6 97.5px,#15ffea 98.5px,#00d9ff 99.5px,#0019ff 102.5px,#0000e3 103.5px,#0000be 104.5px,#0000ad 105.5px,#0000aa 107.5px,#0000b2 108.5px,#0000ca 109.5px,#0000f5 110.5px,#0036ff 111.5px,#00d8ff 113.5px,#29ffd6 114.5px,#baff45 116.5px,#f6ff09 117.5px,#ffb500 119.5px,#ff7200 121.5px,#ff6200 122.5px,#ff6c00 123.5px,#ffde00 127.5px,#f8ff07 128.5px,#c1ff3e 129.5px,#3affc5 131.5px,#00f6ff 132.5px,#007cff 134.5px,#004bff 135.5px,#002fff 136.5px,#0025ff 138.5px,#002eff 139.5px,#0048ff 140.5px,#00aaff 142.5px,#00dfff 143.5px,#0efff1 144.5px,#c7ff38 149.5px,#fcff03 151.5px,#ffe800 155.5px,#ff8400 185.5px,#ff2600 227.5px)"></i><i style="top:124px;height:1px;background:linear-gradient(90deg,#8a0000 0.5px,#8f0000 50.5px,#b40000 66.5px,#d60000 74.5px,#fc0000 77.5px,#ff1100 82.5px,#ff4b00 86.5px,#ff8300 89.5px,#fbff04 93.5px,#49ffb6 97.5px,#15ffea 98.5px,#00daff 99.5px,#0019ff 102.5px,#0000e3 103.5px,#0000be 104.5px,#0000ad 105.5px,#0000aa 107.5px,#0000b2 108.5px,#0000ca 109.5px,#0000f5 110.5px,#0036ff 111.5px,#00d8ff 113.5px,#29ffd6 114.5px,#baff45 116.5px,#f6ff09 117.5px,#ffb400 119.5px,#ff7000 121.5px,#ff6000 122.5px,#ff6a00 123.5px,#ffde00 127.5px,#f8ff07 128.5px,#c1ff3e 129.5px,#3affc5 131.5px,#00f6ff 132.5px,#007cff 134.5px,#004bff 135.5px,#002fff 136.5px,#0025ff 138.5px,#002eff 139.5px,#0048ff 140.5px,#00aaff 142.5px,#00dfff 143.5px,#0efff1 144.5px,#c7ff38 149.5px,#fcff03 151.5px,#ffe500 156.5px,#ff8400 186.5px,#ff2600 227.5px)"></i><i style="top:125px;height:1px;background:linear-gradient(90deg,#8a0000 0.5px,#8f0000 54.5px,#b20000 69.5px,#c20000 73.5px,#f20000 76.5px,#ff0400 79.5px,#ff1b00 83.5px,#ff8300 89.5px,#fbff04 93.5px,#49ffb6 97.5px,#15ffea 98.5px,#00daff 99.5px,#0019ff 102.5px,#0000e3 103.5px,#0000be 104.5px,#0000ad 105.5px,#0000aa 107.5px,#0000b2 108.5px,#0000ca 109.5px,#0000f5 110.5px,#0036ff 111.5px,#00d8ff 113.5px,#29ffd6 114.5px,#baff45 116.5px,#f7ff08 117.5px,#ffb300 119.5px,#ff6e00 121.5px,#ff5d00 122.5px,#ff6700 123.5px,#ffdd00 127.5px,#f9ff06 128.5px,#c1ff3e 129.5px,#3affc5 131.5px,#00f6ff 132.5px,#007cff 134.5px,#004bff 135.5px,#002fff 136.5px,#0025ff 138.5px,#002eff 139.5px,#0048ff 140.5px,#00aaff 142.5px,#00dfff 143.5px,#0efff1 144.5px,#c7ff38 149.5px,#fcff03 151.5px,#ffe400 157.5px,#ff8500 186.5px,#ff2600 227.5px)"></i><i style="top:126px;height:1px;background:linear-gradient(90deg,#8a0000 0.5px,#8f0000 59.5px,#af0000 72.5px,#c60000 74.5px,#f10000 76.5px,#ff0300 79.5px,#ff1b00 83.5px,#ff8300 89.5px,#fbff04 93.5px,#49ffb6 97.5px,#15ffea 98.5px,#00daff 99.5px,#0019ff 102.5px,#0000e3 103.5px,#0000be 104.5px,#0000ad 105.5px,#0000aa 107.5px,#0000b2 108.5px,#0000ca 109.5px,#0000f5 110.5px,#0036ff 111.5px,#00d8ff 113.5px,#29ffd6 114.5px,#baff45 116.5px,#f7ff08 117.5px,#ffb100 119.5px,#ff6c00 121.5px,#ff5b00 122.5px,#ff6500 123.5px,#ffdd00 127.5px,#f9ff06 128.5px,#c1ff3e 129.5px,#3affc5 131.5px,#00f6ff 132.5px,#007cff 134.5px,#004bff 135.5px,#002fff 136.5px,#0025ff 138.5px,#002eff 139.5px,#0048ff 140.5px,#00aaff 142.5px,#00dfff 143.5px,#0efff1 144.5px,#c7ff38 149.5px,#fbff04 151.5px,#ffd500 162.5px,#ff8400 187.5px,#ff2600 227.5px)"></i><i style="top:127px;height:1px;background:linear-gradient(90deg,#8a0000 0.5px,#8f0000 63.5px,#a30000 72.5px,#ad0000 73.5px,#ef0000 76.5px,#ff0200 79.5px,#ff1b00 83.5px,#ff8300 89.5px,#fbff04 93.5px,#49ffb6 97.5px,#15ffea 98.5px,#00daff 99.5px,#0019ff 102.5px,#0000e3 103.5px,#0000be 104.5px,#0000ad 105.5px,#0000aa 107.5px,#0000b2 108.5px,#0000ca 109.5px,#0000f5 110.5px,#0036ff 111.5px,#00d8ff 113.5px,#29ffd6 114.5px,#baff45 116.5px,#f7ff08 117.5px,#ffb000 119.5px,#ff6900 121.5px,#ff5800 122.5px,#ff6300 123.5px,#ffdc00 127.5px,#f9ff06 128.5px,#c1ff3e 129.5px,#3affc5 131.5px,#00f6ff 132.5px,#007cff 134.5px,#004bff 135.5px,#002fff 136.5px,#0025ff 138.5px,#002eff 139.5px,#0048ff 140.5px,#00aaff 142.5px,#00dfff 143.5px,#0efff1 144.5px,#c7ff38 149.5px,#e6ff19 150.5px,#fbff04 151.5px,#ff8b00 185.5px,#ff2600 227.5px)"></i><i style="top:128px;height:1px;background:linear-gradient(90deg,#8a0000 0.5px,#900000 68.5px,#990000 72.5px,#a50000 73.5px,#ed0000 76.5px,#ff0200 79.5px,#ff1b00 83.5px,#ff8300 89.5px,#fbff04 93.5px,#49ffb6 97.5px,#15ffea 98.5px,#00daff 99.5px,#0019ff 102.5px,#0000e3 103.5px,#0000be 104.5px,#0000ad 105.5px,#0000aa 107.5px,#0000b2 108.5px,#0000ca 109.5px,#0000f5 110.5px,#0036ff 111.5px,#00d8ff 113.5px,#29ffd6 114.5px,#baff45 116.5px,#f7ff08 117.5px,#ffaf00 119.5px,#ff6700 121.5px,#ff5600 122.5px,#ff6000 123.5px,#ffdb00 127.5px,#f9ff06 128.5px,#c1ff3e 129.5px,#3affc5 131.5px,#00f6ff 132.5px,#007cff 134.5px,#004bff 135.5px,#002fff 136.5px,#0025ff 138.5px,#002eff 139.5px,#0048ff 140.5px,#00aaff 142.5px,#00dfff 143.5px,#0efff1 144.5px,#c7ff38 149.5px,#e6ff19 150.5px,#faff05 151.5px,#ff8c00 185.5px,#ff2600 227.5px)"></i><i style="top:129px;height:1px;background:linear-gradient(90deg,#8a0000 0.5px,#8e0000 71.5px,#a00000 73.5px,#ec0000 76.5px,#ff0100 79.5px,#ff1b00 83.5px,#ff8300 89.5px,#fbff04 93.5px,#49ffb6 97.5px,#15ffea 98.5px,#00daff 99.5px,#0019ff 102.5px,#0000e3 103.5px,#0000be 104.5px,#0000ad 105.5px,#0000aa 107.5px,#0000b2 108.5px,#0000ca 109.5px,#0000f5 110.5px,#0036ff 111.5px,#00d8ff 113.5px,#29ffd6 114.5px,#baff45 116.5px,#f7ff08 117.5px,#ffae00 119.5px,#ff6600 121.5px,#ff5400 122.5px,#ff5f00 123.5px,#ffdb00 127.5px,#f9ff06 128.5px,#c2ff3d 129.5px,#3affc5 131.5px,#00f6ff 132.5px,#007cff 134.5px,#004bff 135.5px,#002fff 136.5px,#0025ff 138.5px,#002eff 139.5px,#0048ff 140.5px,#00aaff 142.5px,#00dfff 143.5px,#0efff1 144.5px,#c7ff38 149.5px,#e6ff19 150.5px,#faff05 151.5px,#ffcb00 166.5px,#ff8800 187.5px,#ff2600 227.5px)"></i></div>
<div class="hm" style="left:67px;top:150px;width:228px;height:130px"><i style="top:0px;height:1px;background:linear-gradient(90deg,#8a0000 0.5px,#8f0000 74.5px,#b10000 76.5px,#fb0000 79.5px,#ff7900 85.5px,#ffd800 88.5px,#fffd00 89.5px,#14ffeb 95.5px,#00eaff 96.5px,#001aff 101.5px,#0000f3 102.5px,#0000b7 104.5px,#0000a9 106.5px,#0000aa 128.5px,#0000b3 129.5px,#0000ce 130.5px,#0000fd 131.5px,#007fff 133.5px,#00fbff 135.5px,#6cff93 138.5px,#95ff6a 140.5px,#b9ff46 143.5px,#a8ff57 147.5px,#b7ff48 157.5px,#edff12 167.5px,#fff800 175.5px,#ffcd00 189.5px,#ff5a00 214.5px,#ff2600 227.5px)"></i><i style="top:1px;height:1px;background:linear-gradient(90deg,#8a0000 0.5px,#8f0000 74.5px,#b10000 76.5px,#fb0000 79.5px,#ff7900 85.5px,#ffd800 88.5px,#fffd00 89.5px,#14ffeb 95.5px,#00eaff 96.5px,#001aff 101.5px,#0000f3 102.5px,#0000b7 104.5px,#0000a9 106.5px,#0000aa 128.5px,#0000b3 129.5px,#0000ce 130.5px,#0000fd 131.5px,#007fff 133.5px,#00fbff 135.5px,#6cff93 138.5px,#95ff6a 140.5px,#baff45 143.5px,#adff52 149.5px,#b7ff48 157.5px,#edff12 167.5px,#fff800 175.5px,#ffcb00 189.5px,#ff6600 211.5px,#ff2400 227.5px)"></i><i style="top:2px;height:1px;background:linear-gradient(90deg,#8a0000 0.5px,#8f0000 74.5px,#b10000 76.5px,#fb0000 79.5px,#ff7900 85.5px,#ffd800 88.5px,#fffd00 89.5px,#14ffeb 95.5px,#00eaff 96.5px,#001aff 101.5px,#0000f3 102.5px,#0000b7 104.5px,#0000a9 106.5px,#0000aa 128.5px,#0000b3 129.5px,#0000ce 130.5px,#0000fd 131.5px,#007fff 133.5px,#00fbff 135.5px,#6cff93 138.5px,#95ff6a 140.5px,#bbff44 143.5px,#b3ff4c 155.5px,#d0ff2f 161.5px,#f4ff0b 169.5px,#fff400 176.5px,#ffc900 189.5px,#ff7100 208.5px,#ff2300 227.5px)"></i><i style="top:3px;height:1px;background:linear-gradient(90deg,#8a0000 0.5px,#8f0000 74.5px,#b10000 76.5px,#fb0000 79.5px,#ff7900 85.5px,#ffd800 88.5px,#fffd00 89.5px,#13ffec 95.5px,#00eaff 96.5px,#001aff 101.5px,#0000f3 102.5px,#0000b7 104.5px,#0000a9 106.5px,#0000aa 128.5px,#0000b3 129.5px,#0000ce 130.5px,#0000fd 131.5px,#007fff 133.5px,#00fbff 135.5px,#6cff93 138.5px,#95ff6a 140.5px,#bcff43 143.5px,#bbff44 147.5px,#b6ff49 156.5px,#f1ff0e 168.5px,#fff900 174.5px,#ffc700 189.5px,#ff7400 207.5px,#ff2100 227.5px)"></i><i style="top:4px;height:1px;background:linear-gradient(90deg,#8a0000 0.5px,#8f0000 74.5px,#b10000 76.5px,#fb0000 79.5px,#ff7900 85.5px,#ffd800 88.5px,#fffd00 89.5px,#13ffec 95.5px,#00e9ff 96.5px,#001aff 101.5px,#0000f3 102.5px,#0000b7 104.5px,#0000a9 106.5px,#0000aa 128.5px,#0000b3 129.5px,#0000ce 130.5px,#0000fd 131.5px,#007fff 133.5px,#00fbff 135.5px,#6cff93 138.5px,#95ff6a 140.5px,#c4ff3b 144.5px,#b8ff47 156.5px,#f5ff0a 169.5px,#fff500 175.5px,#ffc400 189.5px,#ff7600 206.5px,#ff2000 227.5px)"></i><i style="top:5px;height:1px;background:linear-gradient(90deg,#8a0000 0.5px,#8a0000 73.5px,#9c0000 75.5px,#fb0000 79.5px,#ff7900 85.5px,#ffd900 88.5px,#fffe00 89.5px,#13ffec 95.5px,#00e9ff 96.5px,#0019ff 101.5px,#0000f2 102.5px,#0000b7 104.5px,#0000a9 106.5px,#0000aa 128.5px,#0000b3 129.5px,#0000ce 130.5px,#0000fd 131.5px,#0080ff 133.5px,#00fcff 135.5px,#6dff92 138.5px,#96ff69 140.5px,#c7ff38 144.5px,#caff35 147.5px,#b9ff46 155.5px,#ccff33 160.5px,#fdff02 171.5px,#ffc200 189.5px,#ff7800 205.5px,#ff1f00 227.5px)"></i><i style="top:6px;height:1px;background:linear-gradient(90deg,#8a0000 0.5px,#8a0000 73.5px,#9d0000 75.5px,#fc0000 79.5px,#ff7a00 85.5px,#ffdb00 88.5px,#feff01 89.5px,#11ffee 95.5px,#00e7ff 96.5px,#0017ff 101.5px,#0000f0 102.5px,#0000b6 104.5px,#0000a9 106.5px,#0000aa 128.5px,#0000b4 129.5px,#0000ce 130.5px,#0000fd 131.5px,#00c3ff 134.5px,#00fcff 135.5px,#4effb1 137.5px,#85ff7a 139.5px,#cbff34 144.5px,#d1ff2e 147.5px,#bdff42 154.5px,#c2ff3d 158.5px,#feff01 171.5px,#ffba00 190.5px,#ff7200 206.5px,#ff1e00 227.5px)"></i><i style="top:7px;height:1px;background:linear-gradient(90deg,#8a0000 0.5px,#8a0000 73.5px,#9d0000 75.5px,#fd0000 79.5px,#ff7c00 85.5px,#fbff04 89.5px,#0efff1 95.5px,#00e4ff 96.5px,#0013ff 101.5px,#0000ed 102.5px,#0000b4 104.5px,#0000a8 106.5px,#0000aa 128.5px,#0000b4 129.5px,#0000cf 130.5px,#0000fe 131.5px,#00c4ff 134.5px,#00fdff 135.5px,#50ffaf 137.5px,#87ff78 139.5px,#d0ff2f 144.5px,#dbff24 146.5px,#c0ff3f 154.5px,#c4ff3b 158.5px,#fffe00 171.5px,#ffb700 190.5px,#ff7300 205.5px,#ff1d00 227.5px)"></i><i style="top:8px;height:1px;background:linear-gradient(90deg,#8a0000 0.5px,#8a0000 73.5px,#9f0000 75.5px,#ff0000 79.5px,#ff7f00 85.5px,#ffe200 88.5px,#f7ff08 89.5px,#09fff6 95.5px,#00b5ff 97.5px,#000eff 101.5px,#0000e8 102.5px,#0000c8 103.5px,#0000b3 104.5px,#0000a8 106.5px,#0000aa 128.5px,#0000b4 129.5px,#0000d0 130.5px,#0001ff 131.5px,#00c6ff 134.5px,#00ffff 135.5px,#53ffac 137.5px,#8aff75 139.5px,#d7ff28 144.5px,#e3ff1c 146.5px,#c5ff3a 153.5px,#c7ff38 158.5px,#fffd00 171.5px,#ffae00 191.5px,#ff6d00 206.5px,#ff1d00 227.5px)"></i><i style="top:9px;height:1px;background:linear-gradient(90deg,#8a0000 0.5px,#8a0000 73.5px,#a00000 75.5px,#ff0200 79.5px,#ff8300 85.5px,#ffe700 88.5px,#f1ff0e 89.5px,#04fffb 95.5px,#0008ff 101.5px,#0000c4 103.5px,#0000b1 104.5px,#0000a8 107.5px,#0000aa 128.5px,#0000b5 129.5px,#0000d2 130.5px,#0003ff 131.5px,#00c8ff 134.5px,#02fffd 135.5px,#56ffa9 137.5px,#8dff72 139.5px,#deff21 144.5px,#ecff13 146.5px,#cbff34 152.5px,#c7ff38 157.5px,#fffa00 171.5px,#ffa600 192.5px,#ff6000 209.5px,#ff1d00 227.5px)"></i><i style="top:10px;height:1px;background:linear-gradient(90deg,#8a0000 0.5px,#8a0000 73.5px,#a20000 75.5px,#ff0400 79.5px,#ff8700 85.5px,#ffed00 88.5px,#ebff14 89.5px,#00fcff 95.5px,#0000ff 101.5px,#0000bf 103.5px,#0000af 104.5px,#0000a8 112.5px,#0000ab 128.5px,#0000b6 129.5px,#0000d3 130.5px,#0005ff 131.5px,#00cbff 134.5px,#05fffa 135.5px,#59ffa6 137.5px,#91ff6e 139.5px,#e6ff19 144.5px,#f4ff0b 146.5px,#d0ff2f 152.5px,#d1ff2e 158.5px,#fffa00 170.5px,#ff9e00 193.5px,#ff3100 221.5px,#ff1d00 227.5px)"></i><i style="top:11px;height:1px;background:linear-gradient(90deg,#8a0000 0.5px,#8b0000 73.5px,#a40000 75.5px,#ee0000 78.5px,#ff0700 79.5px,#ff8c00 85.5px,#fff400 88.5px,#e4ff1b 89.5px,#1fffe0 94.5px,#00f5ff 95.5px,#001fff 100.5px,#0000f7 101.5px,#0000ba 103.5px,#0000a9 105.5px,#0000ab 128.5px,#0000b7 129.5px,#0000d5 130.5px,#0008ff 131.5px,#00ceff 134.5px,#08fff7 135.5px,#5dffa2 137.5px,#96ff69 139.5px,#efff10 144.5px,#fdff02 146.5px,#d8ff27 151.5px,#d4ff2b 157.5px,#fffa00 169.5px,#ff9600 194.5px,#ff1c00 227.5px)"></i><i style="top:12px;height:1px;background:linear-gradient(90deg,#8a0000 0.5px,#8b0000 73.5px,#a60000 75.5px,#f20000 78.5px,#ff0a00 79.5px,#ff7600 84.5px,#ffd700 87.5px,#fffb00 88.5px,#17ffe8 94.5px,#00edff 95.5px,#0016ff 100.5px,#0000ee 101.5px,#0000b6 103.5px,#0000a9 105.5px,#0000ab 128.5px,#0000b8 129.5px,#0000d8 130.5px,#000bff 131.5px,#00d1ff 134.5px,#0bfff4 135.5px,#61ff9e 137.5px,#9bff64 139.5px,#f8ff07 144.5px,#fff800 146.5px,#f6ff09 148.5px,#ddff22 151.5px,#deff21 158.5px,#fffd00 167.5px,#ff8900 196.5px,#ff1c00 227.5px)"></i><i style="top:13px;height:1px;background:linear-gradient(90deg,#8a0000 0.5px,#8c0000 73.5px,#a80000 75.5px,#f50000 78.5px,#ff0d00 79.5px,#ff7b00 84.5px,#fbff04 88.5px,#0ffff0 94.5px,#00e4ff 95.5px,#000cff 100.5px,#0000e6 101.5px,#0000c7 102.5px,#0000b2 103.5px,#0000a8 106.5px,#0000ab 128.5px,#0000b9 129.5px,#0000da 130.5px,#000eff 131.5px,#00d5ff 134.5px,#0ffff0 135.5px,#66ff99 137.5px,#a1ff5e 139.5px,#f2ff0d 143.5px,#fffd00 144.5px,#fff100 146.5px,#fcff03 148.5px,#e2ff1d 151.5px,#e4ff1b 158.5px,#fffc00 166.5px,#ff3c00 216.5px,#ff1c00 227.5px)"></i><i style="top:14px;height:1px;background:linear-gradient(90deg,#8a0000 0.5px,#8c0000 73.5px,#ab0000 75.5px,#f80000 78.5px,#ff3b00 81.5px,#ff8000 84.5px,#ffe500 87.5px,#f4ff0b 88.5px,#07fff8 94.5px,#00b0ff 96.5px,#0002ff 100.5px,#0000c0 102.5px,#0000af 103.5px,#0000a8 109.5px,#0000ac 128.5px,#0000ba 129.5px,#0000dd 130.5px,#0012ff 131.5px,#00d9ff 134.5px,#13ffec 135.5px,#6bff94 137.5px,#c0ff3f 140.5px,#faff05 143.5px,#ffec00 145.5px,#fff200 147.5px,#f6ff09 149.5px,#e4ff1b 152.5px,#ecff13 159.5px,#fffa00 165.5px,#ff3a00 216.5px,#ff1c00 227.5px)"></i><i style="top:15px;height:1px;background:linear-gradient(90deg,#8a0000 0.5px,#8d0000 73.5px,#ad0000 75.5px,#fb0000 78.5px,#ff8500 84.5px,#ffec00 87.5px,#ecff13 88.5px,#00feff 94.5px,#0021ff 99.5px,#0000f7 100.5px,#0000ba 102.5px,#0000a9 104.5px,#0000ad 128.5px,#0000bd 129.5px,#0000e0 130.5px,#0016ff 131.5px,#00ddff 134.5px,#17ffe8 135.5px,#70ff8f 137.5px,#c8ff37 140.5px,#fffd00 143.5px,#ffe600 145.5px,#ffed00 147.5px,#faff05 149.5px,#e7ff18 152.5px,#ecff13 158.5px,#fffa00 164.5px,#ff3d00 214.5px,#ff1b00 227.5px)"></i><i style="top:16px;height:1px;background:linear-gradient(90deg,#8a0000 0.5px,#8e0000 73.5px,#b00000 75.5px,#fe0000 78.5px,#ff8a00 84.5px,#fff300 87.5px,#e5ff1a 88.5px,#21ffde 93.5px,#00f7ff 94.5px,#0017ff 99.5px,#0000ee 100.5px,#0000b6 102.5px,#0000a9 104.5px,#0000a9 127.5px,#0000ae 128.5px,#0000bf 129.5px,#0000e4 130.5px,#001aff 131.5px,#00e1ff 134.5px,#1bffe4 135.5px,#75ff8a 137.5px,#d1ff2e 140.5px,#f9ff06 142.5px,#ffe200 145.5px,#ffea00 147.5px,#fdff02 149.5px,#eaff15 152.5px,#efff10 158.5px,#fffa00 163.5px,#ff4300 211.5px,#ff1b00 227.5px)"></i><i style="top:17px;height:1px;background:linear-gradient(90deg,#8a0000 0.5px,#8f0000 73.5px,#b20000 75.5px,#ff0200 78.5px,#ff8e00 84.5px,#fff900 87.5px,#91ff6e 90.5px,#1bffe4 93.5px,#00f0ff 94.5px,#000dff 99.5px,#0000e6 100.5px,#0000c7 101.5px,#0000b2 102.5px,#0000a8 105.5px,#0000a9 127.5px,#0000af 128.5px,#0000c2 129.5px,#0000e8 130.5px,#001fff 131.5px,#00e5ff 134.5px,#1effe1 135.5px,#79ff86 137.5px,#d8ff27 140.5px,#fffe00 142.5px,#ffde00 145.5px,#ffe700 147.5px,#fffe00 149.5px,#ecff13 152.5px,#f1ff0e 158.5px,#fffb00 162.5px,#ff5000 206.5px,#ff1900 227.5px)"></i><i style="top:18px;height:1px;background:linear-gradient(90deg,#8a0000 0.5px,#8a0000 72.5px,#9d0000 74.5px,#ff0400 78.5px,#ff7600 83.5px,#ffd800 86.5px,#fffe00 87.5px,#15ffea 93.5px,#00e9ff 94.5px,#0005ff 99.5px,#0000c1 101.5px,#0000b0 102.5px,#0000a8 107.5px,#0000a9 127.5px,#0000b0 128.5px,#0000c4 129.5px,#0000eb 130.5px,#0023ff 131.5px,#00eaff 134.5px,#22ffdd 135.5px,#7cff83 137.5px,#dfff20 140.5px,#f6ff09 141.5px,#ffed00 143.5px,#ffdb00 145.5px,#ffe400 147.5px,#fffc00 149.5px,#edff12 153.5px,#f2ff0d 158.5px,#fff800 162.5px,#ff5200 204.5px,#ff1800 227.5px)"></i><i style="top:19px;height:1px;background:linear-gradient(90deg,#8a0000 0.5px,#8a0000 72.5px,#9e0000 74.5px,#ec0000 77.5px,#ff0600 78.5px,#ff7900 83.5px,#fcff03 87.5px,#10ffef 93.5px,#00e3ff 94.5px,#0028ff 98.5px,#0000fc 99.5px,#0000bc 101.5px,#0000ae 102.5px,#0000aa 127.5px,#0000b1 128.5px,#0000c7 129.5px,#0000ef 130.5px,#0027ff 131.5px,#00eeff 134.5px,#25ffda 135.5px,#a4ff5b 138.5px,#e5ff1a 140.5px,#fcff03 141.5px,#ffd800 145.5px,#ffe100 147.5px,#fbff04 150.5px,#eeff11 155.5px,#fffa00 161.5px,#ff5200 202.5px,#ff1600 227.5px)"></i><i style="top:20px;height:1px;background:linear-gradient(90deg,#8a0000 0.5px,#8a0000 72.5px,#9e0000 74.5px,#ed0000 77.5px,#ff0800 78.5px,#ff7b00 83.5px,#f9ff06 87.5px,#0cfff3 93.5px,#00dfff 94.5px,#0021ff 98.5px,#0000f5 99.5px,#0000b8 101.5px,#0000a9 103.5px,#0000aa 127.5px,#0000b2 128.5px,#0000c9 129.5px,#0000f3 130.5px,#002cff 131.5px,#00f2ff 134.5px,#28ffd7 135.5px,#a7ff58 138.5px,#eaff15 140.5px,#fffd00 141.5px,#ffdb00 144.5px,#ffd600 146.5px,#fdff02 150.5px,#efff10 155.5px,#fffd00 160.5px,#ffb000 177.5px,#ff4d00 202.5px,#ff1400 227.5px)"></i><i style="top:21px;height:1px;background:linear-gradient(90deg,#8a0000 0.5px,#8a0000 72.5px,#9e0000 74.5px,#ef0000 77.5px,#ff0900 78.5px,#ff7d00 83.5px,#ffe200 86.5px,#f6ff09 87.5px,#09fff6 93.5px,#00daff 94.5px,#001aff 98.5px,#0000ef 99.5px,#0000cd 100.5px,#0000b5 101.5px,#0000a9 103.5px,#0000aa 127.5px,#0000b3 128.5px,#0000cc 129.5px,#0000f7 130.5px,#0031ff 131.5px,#00f6ff 134.5px,#59ffa6 136.5px,#cfff30 139.5px,#efff10 140.5px,#fff700 141.5px,#ffd600 144.5px,#ffd300 146.5px,#fffd00 150.5px,#f1ff0e 156.5px,#fff900 160.5px,#ffc300 171.5px,#ff4a00 201.5px,#ff1200 227.5px)"></i><i style="top:22px;height:1px;background:linear-gradient(90deg,#8a0000 0.5px,#8a0000 72.5px,#9f0000 74.5px,#f00000 77.5px,#ff0b00 78.5px,#ff7f00 83.5px,#ffe400 86.5px,#f4ff0b 87.5px,#05fffa 93.5px,#00a5ff 95.5px,#0013ff 98.5px,#0000ea 99.5px,#0000c8 100.5px,#0000b3 101.5px,#0000a8 103.5px,#0000aa 127.5px,#0000b4 128.5px,#0000cf 129.5px,#0000fb 130.5px,#0036ff 131.5px,#00faff 134.5px,#86ff79 137.5px,#f4ff0b 140.5px,#fff100 141.5px,#ffd200 144.5px,#ffcf00 146.5px,#feff01 151.5px,#f7ff08 157.5px,#fff500 160.5px,#ffc200 170.5px,#ff4400 201.5px,#ff1000 227.5px)"></i><i style="top:23px;height:1px;background:linear-gradient(90deg,#8a0000 0.5px,#8a0000 72.5px,#9f0000 74.5px,#f20000 77.5px,#ff0c00 78.5px,#ff8000 83.5px,#ffe600 86.5px,#f2ff0d 87.5px,#02fffd 93.5px,#000dff 98.5px,#0000e4 99.5px,#0000c4 100.5px,#0000b1 101.5px,#0000a8 104.5px,#0000ab 127.5px,#0000b6 128.5px,#0000d2 129.5px,#0001ff 130.5px,#007fff 132.5px,#00ffff 134.5px,#8bff74 137.5px,#faff05 140.5px,#ffdb00 142.5px,#ffc800 145.5px,#ffd300 147.5px,#fffc00 151.5px,#fbff04 157.5px,#ffbf00 169.5px,#ff3f00 201.5px,#ff0e00 227.5px)"></i><i style="top:24px;height:1px;background:linear-gradient(90deg,#8a0000 0.5px,#8a0000 72.5px,#a00000 74.5px,#f30000 77.5px,#ff0e00 78.5px,#ff8200 83.5px,#ffe800 86.5px,#f0ff0f 87.5px,#00ffff 93.5px,#0007ff 98.5px,#0000c0 100.5px,#0000af 101.5px,#0000a8 108.5px,#0000ab 127.5px,#0000b7 128.5px,#0000d5 129.5px,#0006ff 130.5px,#00c9ff 133.5px,#05fffa 134.5px,#8fff70 137.5px,#fffe00 140.5px,#ffe300 141.5px,#ffcb00 143.5px,#ffc600 146.5px,#fff600 151.5px,#fffe00 157.5px,#ffc000 167.5px,#ff3a00 201.5px,#ff0b00 227.5px)"></i><i style="top:25px;height:1px;background:linear-gradient(90deg,#8a0000 0.5px,#8a0000 72.5px,#a00000 74.5px,#f50000 77.5px,#ff0f00 78.5px,#ff8300 83.5px,#ffea00 86.5px,#efff10 87.5px,#00fcff 93.5px,#0001ff 98.5px,#0000bc 100.5px,#0000ad 101.5px,#0000ab 127.5px,#0000b9 128.5px,#0000da 129.5px,#000cff 130.5px,#00cfff 133.5px,#0afff5 134.5px,#95ff6a 137.5px,#e3ff1c 139.5px,#fff800 140.5px,#ffdc00 141.5px,#ffc400 143.5px,#ffc000 146.5px,#fff000 151.5px,#fff800 157.5px,#ffb900 167.5px,#ff3500 201.5px,#ff0800 227.5px)"></i><i style="top:26px;height:1px;background:linear-gradient(90deg,#8a0000 0.5px,#8a0000 72.5px,#900000 73.5px,#a00000 74.5px,#f60000 77.5px,#ff2800 79.5px,#ff8500 83.5px,#ffeb00 86.5px,#edff12 87.5px,#00f9ff 93.5px,#002aff 97.5px,#0000fa 98.5px,#0000d4 99.5px,#0000b9 100.5px,#0000a9 102.5px,#0000ac 127.5px,#0000bc 128.5px,#0000df 129.5px,#0013ff 130.5px,#00d6ff 133.5px,#10ffef 134.5px,#9aff65 137.5px,#e9ff16 139.5px,#fff200 140.5px,#ffd500 141.5px,#ffbb00 143.5px,#ffbb00 146.5px,#ffea00 151.5px,#fff100 157.5px,#ffb100 167.5px,#ff3000 201.5px,#ff0500 227.5px)"></i><i style="top:27px;height:1px;background:linear-gradient(90deg,#8a0000 0.5px,#8a0000 72.5px,#900000 73.5px,#a10000 74.5px,#f70000 77.5px,#ff2900 79.5px,#ff8600 83.5px,#ffed00 86.5px,#ebff14 87.5px,#24ffdb 92.5px,#00f6ff 93.5px,#0024ff 97.5px,#0000f4 98.5px,#0000cf 99.5px,#0000b6 100.5px,#0000a9 102.5px,#0000ae 127.5px,#0000bf 128.5px,#0000e4 129.5px,#001bff 130.5px,#00ddff 133.5px,#16ffe9 134.5px,#c9ff36 138.5px,#efff10 139.5px,#ffec00 140.5px,#ffce00 141.5px,#ffbb00 142.5px,#ffb000 145.5px,#ffe300 151.5px,#ffea00 157.5px,#ffa800 167.5px,#ff2b00 201.5px,#ff0300 227.5px)"></i><i style="top:28px;height:1px;background:linear-gradient(90deg,#8a0000 0.5px,#8a0000 72.5px,#900000 73.5px,#a10000 74.5px,#f90000 77.5px,#ff5600 81.5px,#ffa700 84.5px,#ffee00 86.5px,#eaff15 87.5px,#22ffdd 92.5px,#00f3ff 93.5px,#001dff 97.5px,#0000ef 98.5px,#0000cb 99.5px,#0000b3 100.5px,#0000a8 102.5px,#0000a9 126.5px,#0000af 127.5px,#0000c3 128.5px,#0000ea 129.5px,#0022ff 130.5px,#00e4ff 133.5px,#1cffe3 134.5px,#d0ff2f 138.5px,#f5ff0a 139.5px,#ffc800 141.5px,#ffb300 142.5px,#ffa900 144.5px,#ffb700 147.5px,#ffdb00 151.5px,#ffe200 157.5px,#ffa000 167.5px,#ff2600 201.5px,#ff0000 227.5px)"></i><i style="top:29px;height:1px;background:linear-gradient(90deg,#8a0000 0.5px,#8a0000 72.5px,#900000 73.5px,#a10000 74.5px,#fa0000 77.5px,#ff8900 83.5px,#fff000 86.5px,#e8ff17 87.5px,#1fffe0 92.5px,#00f0ff 93.5px,#0017ff 97.5px,#0000e9 98.5px,#0000c7 99.5px,#0000b2 100.5px,#0000a8 103.5px,#0000aa 126.5px,#0000b1 127.5px,#0000c7 128.5px,#0000f1 129.5px,#002aff 130.5px,#00ebff 133.5px,#22ffdd 134.5px,#d6ff29 138.5px,#fbff04 139.5px,#ffc200 141.5px,#ffac00 142.5px,#ffa100 144.5px,#ffb100 147.5px,#ffd400 151.5px,#ffd900 157.5px,#ff9800 167.5px,#ff2200 201.5px,#fc0000 227.5px)"></i><i style="top:30px;height:1px;background:linear-gradient(90deg,#8a0000 0.5px,#8a0000 72.5px,#910000 73.5px,#a20000 74.5px,#fb0000 77.5px,#ff8a00 83.5px,#fff100 86.5px,#e7ff18 87.5px,#1dffe2 92.5px,#00edff 93.5px,#0011ff 97.5px,#0000e4 98.5px,#0000c3 99.5px,#0000b0 100.5px,#0000a8 105.5px,#0000aa 126.5px,#0000b2 127.5px,#0000cb 128.5px,#0000f7 129.5px,#0032ff 130.5px,#00f2ff 133.5px,#28ffd7 134.5px,#dbff24 138.5px,#fffd00 139.5px,#ffbc00 141.5px,#ffa500 142.5px,#ff9a00 144.5px,#ffb400 148.5px,#ffcf00 152.5px,#ffd100 157.5px,#ff9000 167.5px,#ff2000 200.5px,#fa0000 227.5px)"></i><i style="top:31px;height:1px;background:linear-gradient(90deg,#8a0000 0.5px,#8a0000 72.5px,#910000 73.5px,#a20000 74.5px,#fc0000 77.5px,#ff8c00 83.5px,#fff300 86.5px,#e5ff1a 87.5px,#1affe5 92.5px,#00eaff 93.5px,#000aff 97.5px,#0000de 98.5px,#0000be 99.5px,#0000ae 100.5px,#0000a8 115.5px,#0000aa 126.5px,#0000b4 127.5px,#0000d0 128.5px,#0000fe 129.5px,#00f8ff 133.5px,#89ff76 136.5px,#e0ff1f 138.5px,#fff800 139.5px,#ffb800 141.5px,#ffa000 142.5px,#ff9300 144.5px,#ffad00 148.5px,#ffc600 152.5px,#ffc700 157.5px,#ff8800 167.5px,#ff2000 198.5px,#fa0000 225.5px,#f80000 227.5px)"></i><i style="top:32px;height:1px;background:linear-gradient(90deg,#8a0000 0.5px,#8a0000 72.5px,#910000 73.5px,#a20000 74.5px,#fc0000 77.5px,#ff8d00 83.5px,#fff500 86.5px,#e3ff1c 87.5px,#18ffe7 92.5px,#00e6ff 93.5px,#0004ff 97.5px,#0000ba 99.5px,#0000ac 100.5px,#0000ab 126.5px,#0000b6 127.5px,#0000d4 128.5px,#0006ff 129.5px,#00feff 133.5px,#baff45 137.5px,#e4ff1b 138.5px,#fff400 139.5px,#ffb400 141.5px,#ff9c00 142.5px,#ff8f00 143.5px,#ff9500 146.5px,#ffb900 151.5px,#ffbc00 157.5px,#ff8000 167.5px,#ff2100 196.5px,#fb0000 223.5px,#f60000 227.5px)"></i><i style="top:33px;height:1px;background:linear-gradient(90deg,#8a0000 0.5px,#8a0000 72.5px,#910000 73.5px,#a20000 74.5px,#fd0000 77.5px,#ff8f00 83.5px,#fff600 86.5px,#e1ff1e 87.5px,#15ffea 92.5px,#00e2ff 93.5px,#0033ff 96.5px,#0000fd 97.5px,#0000d3 98.5px,#0000b7 99.5px,#0000a9 101.5px,#0000ab 126.5px,#0000b8 127.5px,#0000d9 128.5px,#000dff 129.5px,#00caff 132.5px,#05fffa 133.5px,#bdff42 137.5px,#e7ff18 138.5px,#fff100 139.5px,#ff9900 142.5px,#ff8b00 143.5px,#ff8f00 146.5px,#ffaf00 151.5px,#ffb000 157.5px,#ff7400 168.5px,#ff2200 194.5px,#fd0000 220.5px,#f40000 227.5px)"></i><i style="top:34px;height:1px;background:linear-gradient(90deg,#8a0000 0.5px,#8a0000 72.5px,#910000 73.5px,#a20000 74.5px,#fd0000 77.5px,#ff9000 83.5px,#fff900 86.5px,#b7ff48 88.5px,#11ffee 92.5px,#00ddff 93.5px,#002cff 96.5px,#0000f7 97.5px,#0000ce 98.5px,#0000b5 99.5px,#0000a8 101.5px,#0000ac 126.5px,#0000bb 127.5px,#0000df 128.5px,#0014ff 129.5px,#00d1ff 132.5px,#0afff5 133.5px,#e9ff16 138.5px,#ffef00 139.5px,#ff9700 142.5px,#ff8800 143.5px,#ff8900 146.5px,#ffa600 152.5px,#ffa400 157.5px,#ff6500 170.5px,#ff2000 193.5px,#fd0000 218.5px,#f20000 227.5px)"></i><i style="top:35px;height:1px;background:linear-gradient(90deg,#8a0000 0.5px,#8a0000 72.5px,#910000 73.5px,#a20000 74.5px,#fd0000 77.5px,#ff9200 83.5px,#fffb00 86.5px,#3affc5 91.5px,#0dfff2 92.5px,#00d8ff 93.5px,#0025ff 96.5px,#0000f1 97.5px,#0000ca 98.5px,#0000b3 99.5px,#0000a8 101.5px,#0000ad 126.5px,#0000be 127.5px,#0000e5 128.5px,#001cff 129.5px,#00d7ff 132.5px,#0ffff0 133.5px,#ebff14 138.5px,#ffee00 139.5px,#ff9500 142.5px,#ff8000 144.5px,#ff9200 149.5px,#ff9b00 155.5px,#ff7900 163.5px,#ff2900 186.5px,#ff0a00 206.5px,#f70000 221.5px,#f00000 227.5px)"></i><i style="top:36px;height:1px;background:linear-gradient(90deg,#8a0000 0.5px,#8a0000 72.5px,#910000 73.5px,#a20000 74.5px,#fd0000 77.5px,#ff9300 83.5px,#fffe00 86.5px,#09fff6 92.5px,#00d3ff 93.5px,#001eff 96.5px,#0000ea 97.5px,#0000c5 98.5px,#0000b0 99.5px,#0000a8 103.5px,#0000a9 125.5px,#0000af 126.5px,#0000c3 127.5px,#0000ec 128.5px,#0024ff 129.5px,#00deff 132.5px,#14ffeb 133.5px,#edff12 138.5px,#ffec00 139.5px,#ff9300 142.5px,#ff7c00 144.5px,#ff8400 148.5px,#ff8f00 153.5px,#ff8200 159.5px,#ff2f00 182.5px,#ff0b00 201.5px,#f80000 219.5px,#ee0000 227.5px)"></i><i style="top:37px;height:1px;background:linear-gradient(90deg,#8a0000 0.5px,#8a0000 72.5px,#910000 73.5px,#a20000 74.5px,#fd0000 77.5px,#ff7800 82.5px,#fdff02 86.5px,#04fffb 92.5px,#00cdff 93.5px,#0016ff 96.5px,#0000e3 97.5px,#0000c0 98.5px,#0000ae 99.5px,#0000a8 115.5px,#0000aa 125.5px,#0000b2 126.5px,#0000c9 127.5px,#0000f4 128.5px,#002dff 129.5px,#00e5ff 132.5px,#1affe5 133.5px,#f0ff0f 138.5px,#ffe900 139.5px,#ff9000 142.5px,#ff7900 144.5px,#ff7b00 148.5px,#ff8200 154.5px,#ff5c00 166.5px,#ff1800 189.5px,#f90000 217.5px,#ec0000 227.5px)"></i><i style="top:38px;height:1px;background:linear-gradient(90deg,#8a0000 0.5px,#8a0000 72.5px,#910000 73.5px,#a20000 74.5px,#fd0000 77.5px,#ff7900 82.5px,#f9ff06 86.5px,#00fdff 92.5px,#000eff 96.5px,#0000dc 97.5px,#0000bb 98.5px,#0000ac 99.5px,#0000aa 125.5px,#0000b4 126.5px,#0000cf 127.5px,#0000fc 128.5px,#0074ff 130.5px,#00edff 132.5px,#20ffdf 133.5px,#f5ff0a 138.5px,#ffe500 139.5px,#ff8c00 142.5px,#ff7400 144.5px,#ff7000 147.5px,#ff7700 153.5px,#ff5000 167.5px,#ff1300 189.5px,#fa0000 215.5px,#ea0000 227.5px)"></i><i style="top:39px;height:1px;background:linear-gradient(90deg,#8a0000 0.5px,#8a0000 72.5px,#910000 73.5px,#a20000 74.5px,#fe0000 77.5px,#ff7a00 82.5px,#ffe300 85.5px,#f4ff0b 86.5px,#28ffd7 91.5px,#00f7ff 92.5px,#0006ff 96.5px,#0000d6 97.5px,#0000b7 98.5px,#0000a9 100.5px,#0000ab 125.5px,#0000b7 126.5px,#0000d6 127.5px,#0006ff 128.5px,#00f4ff 132.5px,#26ffd9 133.5px,#faff05 138.5px,#ff9f00 141.5px,#ff7800 143.5px,#ff6700 146.5px,#ff6c00 153.5px,#ff0f00 189.5px,#f90000 214.5px,#e80000 227.5px)"></i><i style="top:40px;height:1px;background:linear-gradient(90deg,#8a0000 0.5px,#8a0000 72.5px,#910000 73.5px,#a20000 74.5px,#fe0000 77.5px,#ff7c00 82.5px,#ffe700 85.5px,#f0ff0f 86.5px,#22ffdd 91.5px,#00f0ff 92.5px,#0000fd 96.5px,#0000cf 97.5px,#0000b4 98.5px,#0000a8 100.5px,#0000ac 125.5px,#0000bc 126.5px,#0000dd 127.5px,#000fff 128.5px,#00fbff 132.5px,#fffe00 138.5px,#ff9900 141.5px,#ff7400 143.5px,#ff6000 146.5px,#ff6000 154.5px,#ff0c00 189.5px,#f80000 213.5px,#e50000 227.5px)"></i><i style="top:41px;height:1px;background:linear-gradient(90deg,#8a0000 0.5px,#8a0000 72.5px,#910000 73.5px,#a20000 74.5px,#fe0000 77.5px,#ff7d00 82.5px,#ffeb00 85.5px,#ebff14 86.5px,#1cffe3 91.5px,#00e9ff 92.5px,#0030ff 95.5px,#0000f5 96.5px,#0000c9 97.5px,#0000b1 98.5px,#0000a8 101.5px,#0000a9 124.5px,#0000af 125.5px,#0000c1 126.5px,#0000e5 127.5px,#0018ff 128.5px,#00cbff 131.5px,#03fffc 132.5px,#deff21 137.5px,#fff800 138.5px,#ff9200 141.5px,#ff6f00 143.5px,#ff5800 146.5px,#ff5400 154.5px,#ff0800 189.5px,#f60000 212.5px,#e20000 227.5px)"></i><i style="top:42px;height:1px;background:linear-gradient(90deg,#8a0000 0.5px,#8a0000 72.5px,#910000 73.5px,#a20000 74.5px,#fe0000 77.5px,#ff7f00 82.5px,#ffef00 85.5px,#e6ff19 86.5px,#16ffe9 91.5px,#00e2ff 92.5px,#0028ff 95.5px,#0000ed 96.5px,#0000c3 97.5px,#0000ae 98.5px,#0000a8 108.5px,#0000aa 124.5px,#0000b1 125.5px,#0000c7 126.5px,#0000ed 127.5px,#0021ff 128.5px,#00d3ff 131.5px,#09fff6 132.5px,#e4ff1b 137.5px,#fff100 138.5px,#ff8b00 141.5px,#ff6900 143.5px,#ff5000 146.5px,#ff4900 154.5px,#ff0500 190.5px,#f30000 212.5px,#df0000 227.5px)"></i><i style="top:43px;height:1px;background:linear-gradient(90deg,#8a0000 0.5px,#8a0000 72.5px,#910000 73.5px,#a20000 74.5px,#fe0000 77.5px,#ff8000 82.5px,#fff400 85.5px,#e1ff1e 86.5px,#10ffef 91.5px,#00daff 92.5px,#001fff 95.5px,#0000e6 96.5px,#0000be 97.5px,#0000ac 98.5px,#0000aa 124.5px,#0000b4 125.5px,#0000cd 126.5px,#0000f5 127.5px,#002aff 128.5px,#00daff 131.5px,#10ffef 132.5px,#ebff14 137.5px,#ffea00 138.5px,#ffa000 140.5px,#ff7100 142.5px,#ff4700 146.5px,#ff3b00 155.5px,#ff0200 190.5px,#ee0000 213.5px,#dc0000 227.5px)"></i><i style="top:44px;height:1px;background:linear-gradient(90deg,#8a0000 0.5px,#8a0000 72.5px,#910000 73.5px,#a20000 74.5px,#fe0000 77.5px,#ff8200 82.5px,#fff800 85.5px,#8bff74 88.5px,#0afff5 91.5px,#00d3ff 92.5px,#0017ff 95.5px,#0000df 96.5px,#0000ba 97.5px,#0000ab 98.5px,#0000ab 124.5px,#0000b6 125.5px,#0000d2 126.5px,#0000fc 127.5px,#006cff 129.5px,#00e1ff 131.5px,#15ffea 132.5px,#f1ff0e 137.5px,#ffe300 138.5px,#ff9900 140.5px,#ff6c00 142.5px,#ff3f00 146.5px,#ff3000 155.5px,#ff0000 190.5px,#ea0000 214.5px,#d90000 227.5px)"></i><i style="top:45px;height:1px;background:linear-gradient(90deg,#8a0000 0.5px,#8a0000 72.5px,#910000 73.5px,#a20000 74.5px,#fe0000 77.5px,#ff8300 82.5px,#fffc00 85.5px,#33ffcc 90.5px,#04fffb 91.5px,#00cdff 92.5px,#0010ff 95.5px,#0000d9 96.5px,#0000b7 97.5px,#0000ab 98.5px,#0000ac 124.5px,#0000b9 125.5px,#0000d7 126.5px,#0003ff 127.5px,#00e6ff 131.5px,#1affe5 132.5px,#f8ff07 137.5px,#ff9100 140.5px,#ff6600 142.5px,#ff3700 146.5px,#ff2600 155.5px,#fd0000 189.5px,#ef0000 208.5px,#d60000 227.5px)"></i><i style="top:46px;height:1px;background:linear-gradient(90deg,#8a0000 0.5px,#8a0000 72.5px,#910000 73.5px,#a20000 74.5px,#fe0000 77.5px,#ff8500 82.5px,#feff01 85.5px,#00feff 91.5px,#0048ff 94.5px,#0009ff 95.5px,#0000d3 96.5px,#0000b4 97.5px,#0000a8 99.5px,#0000ad 124.5px,#0000bd 125.5px,#0008ff 127.5px,#00ebff 131.5px,#1fffe0 132.5px,#fdff02 137.5px,#ff8b00 140.5px,#ff6200 142.5px,#ff3700 145.5px,#ff2d00 149.5px,#ff1800 160.5px,#fb0000 189.5px,#f00000 206.5px,#d40000 227.5px)"></i><i style="top:47px;height:1px;background:linear-gradient(90deg,#8a0000 0.5px,#8a0000 72.5px,#910000 73.5px,#a20000 74.5px,#fe0000 77.5px,#ff8600 82.5px,#fcff03 85.5px,#00faff 91.5px,#0002ff 95.5px,#0000cd 96.5px,#0000b2 97.5px,#0000a8 99.5px,#0000a9 123.5px,#0000af 124.5px,#0000c0 125.5px,#0000df 126.5px,#000dff 127.5px,#00efff 131.5px,#22ffdd 132.5px,#fffc00 137.5px,#ffa700 139.5px,#ff8600 140.5px,#ff4e00 143.5px,#ff2a00 146.5px,#ff1200 160.5px,#fa0000 190.5px,#ef0000 206.5px,#d30000 227.5px)"></i><i style="top:48px;height:1px;background:linear-gradient(90deg,#8a0000 0.5px,#8a0000 72.5px,#910000 73.5px,#a20000 74.5px,#fe0000 77.5px,#ff8800 82.5px,#f9ff06 85.5px,#28ffd7 90.5px,#00f6ff 91.5px,#0000fb 95.5px,#0000c9 96.5px,#0000b0 97.5px,#0000a8 102.5px,#0000a9 123.5px,#0000b0 124.5px,#0000c2 125.5px,#0000e2 126.5px,#0010ff 127.5px,#00f2ff 131.5px,#25ffda 132.5px,#d9ff26 136.5px,#fff900 137.5px,#ffa400 139.5px,#ff8300 140.5px,#ff3b00 144.5px,#ff2500 146.5px,#ff0e00 160.5px,#fa0000 191.5px,#ed0000 207.5px,#d20000 227.5px)"></i><i style="top:49px;height:1px;background:linear-gradient(90deg,#8a0000 0.5px,#8a0000 72.5px,#910000 73.5px,#a20000 74.5px,#ff0000 77.5px,#ff8900 82.5px,#f8ff07 85.5px,#25ffda 90.5px,#00f2ff 91.5px,#0036ff 94.5px,#0000f6 95.5px,#0000c5 96.5px,#0000ae 97.5px,#0000a8 114.5px,#0000aa 123.5px,#0000b0 124.5px,#0000c3 125.5px,#0000e4 126.5px,#0011ff 127.5px,#00f3ff 131.5px,#26ffd9 132.5px,#daff25 136.5px,#fff700 137.5px,#ffa100 139.5px,#ff6a00 141.5px,#ff2a00 145.5px,#ff1e00 148.5px,#ff0b00 160.5px,#f90000 194.5px,#cf0000 227.5px)"></i><i style="top:50px;height:1px;background:linear-gradient(90deg,#8a0000 0.5px,#8a0000 72.5px,#910000 73.5px,#a20000 74.5px,#ff0000 77.5px,#ff8b00 82.5px,#ffdc00 84.5px,#f7ff08 85.5px,#23ffdc 90.5px,#00efff 91.5px,#0032ff 94.5px,#0000f2 95.5px,#0000c2 96.5px,#0000ad 97.5px,#0000ac 117.5px,#0000b7 119.5px,#0000aa 123.5px,#0000b0 124.5px,#0000c2 125.5px,#0000e3 126.5px,#0011ff 127.5px,#00f3ff 131.5px,#26ffd9 132.5px,#dbff24 136.5px,#fff600 137.5px,#ffa000 139.5px,#ff6900 141.5px,#ff2600 145.5px,#ff1a00 148.5px,#ff0800 161.5px,#f40000 197.5px,#c40000 227.5px)"></i><i style="top:51px;height:1px;background:linear-gradient(90deg,#8a0000 0.5px,#8a0000 72.5px,#910000 73.5px,#a20000 74.5px,#ff0000 77.5px,#ff8c00 82.5px,#ffdd00 84.5px,#f7ff08 85.5px,#21ffde 90.5px,#00edff 91.5px,#002eff 94.5px,#0000ef 95.5px,#0000c0 96.5px,#0000ac 97.5px,#0000ad 116.5px,#0000ca 119.5px,#0000ab 123.5px,#0000af 124.5px,#0000c1 125.5px,#0000e1 126.5px,#000eff 127.5px,#00f1ff 131.5px,#24ffdb 132.5px,#daff25 136.5px,#fff700 137.5px,#ffa100 139.5px,#ff6800 141.5px,#ff2300 145.5px,#ff1600 148.5px,#ff0600 161.5px,#f50000 190.5px,#c20000 220.5px,#b20000 227.5px)"></i><i style="top:52px;height:1px;background:linear-gradient(90deg,#8a0000 0.5px,#8a0000 72.5px,#910000 73.5px,#a20000 74.5px,#ff0000 77.5px,#ff8e00 82.5px,#ffdd00 84.5px,#f6ff09 85.5px,#1fffe0 90.5px,#00eaff 91.5px,#002bff 94.5px,#0000ec 95.5px,#0000bf 96.5px,#0000ac 97.5px,#0000ad 115.5px,#0000c7 117.5px,#0000db 118.5px,#0000e4 119.5px,#0000db 120.5px,#0000b6 122.5px,#0000ad 123.5px,#0000ae 124.5px,#0000bd 125.5px,#0008ff 127.5px,#00ecff 131.5px,#21ffde 132.5px,#d9ff26 136.5px,#fff800 137.5px,#ffa100 139.5px,#ff6800 141.5px,#ff2000 145.5px,#ff1300 148.5px,#ff0400 161.5px,#f20000 187.5px,#bf0000 214.5px,#9d0000 227.5px)"></i><i style="top:53px;height:1px;background:linear-gradient(90deg,#8a0000 0.5px,#8a0000 72.5px,#910000 73.5px,#a20000 74.5px,#ff0000 77.5px,#ff9000 82.5px,#ffde00 84.5px,#f6ff09 85.5px,#1dffe2 90.5px,#00e8ff 91.5px,#0028ff 94.5px,#0000ea 95.5px,#0000be 96.5px,#0000ac 97.5px,#0000ac 114.5px,#0000c7 116.5px,#0000f8 118.5px,#0003ff 119.5px,#0000f6 120.5px,#0000c4 122.5px,#0000b3 123.5px,#0000ae 124.5px,#0000b9 125.5px,#0000d6 126.5px,#0001ff 127.5px,#00e6ff 131.5px,#1cffe3 132.5px,#d7ff28 136.5px,#fff900 137.5px,#ffa200 139.5px,#ff6700 141.5px,#ff1d00 145.5px,#ff1000 148.5px,#ff0200 162.5px,#e80000 189.5px,#ab0000 214.5px,#900000 227.5px)"></i><i style="top:54px;height:1px;background:linear-gradient(90deg,#8a0000 0.5px,#8a0000 72.5px,#910000 73.5px,#a20000 74.5px,#ff0000 77.5px,#ff9100 82.5px,#ffdf00 84.5px,#f6ff09 85.5px,#1cffe3 90.5px,#00e6ff 91.5px,#0025ff 94.5px,#0000e8 95.5px,#0000bd 96.5px,#0000ac 97.5px,#0000ab 113.5px,#0000c5 115.5px,#0001ff 117.5px,#001cff 118.5px,#0026ff 119.5px,#0000f8 121.5px,#0000bd 123.5px,#0000b1 124.5px,#0000b6 125.5px,#0000cf 126.5px,#0000f7 127.5px,#002cff 128.5px,#00deff 131.5px,#16ffe9 132.5px,#fffb00 137.5px,#ffa400 139.5px,#ff6700 141.5px,#ff1b00 145.5px,#ff0d00 148.5px,#fe0000 162.5px,#db0000 190.5px,#910000 218.5px,#8b0000 227.5px)"></i><i style="top:55px;height:1px;background:linear-gradient(90deg,#8a0000 0.5px,#8a0000 72.5px,#910000 73.5px,#a20000 74.5px,#ff0000 77.5px,#ff9300 82.5px,#ffe000 84.5px,#f5ff0a 85.5px,#1affe5 90.5px,#00e4ff 91.5px,#0022ff 94.5px,#0000e6 95.5px,#0000bc 96.5px,#0000ac 97.5px,#0000aa 112.5px,#0000b1 113.5px,#0000c2 114.5px,#0003ff 116.5px,#0044ff 118.5px,#004cff 119.5px,#003cff 120.5px,#0019ff 121.5px,#0000f0 122.5px,#0000cc 123.5px,#0000b6 124.5px,#0000b4 125.5px,#0000c7 126.5px,#0000ec 127.5px,#001fff 128.5px,#00d4ff 131.5px,#0efff1 132.5px,#fffd00 137.5px,#ffa500 139.5px,#ff6800 141.5px,#ff1700 145.5px,#ff0b00 148.5px,#fa0000 162.5px,#d00000 189.5px,#920000 210.5px,#8a0000 227.5px)"></i><i style="top:56px;height:1px;background:linear-gradient(90deg,#8a0000 0.5px,#8a0000 72.5px,#910000 73.5px,#a20000 74.5px,#ff0000 77.5px,#ff9500 82.5px,#ffe000 84.5px,#f5ff0a 85.5px,#18ffe7 90.5px,#00e2ff 91.5px,#0020ff 94.5px,#0000e4 95.5px,#0000bc 96.5px,#0000ac 97.5px,#0000a9 111.5px,#0000bd 113.5px,#0000d9 114.5px,#0001ff 115.5px,#0054ff 117.5px,#006dff 118.5px,#0072ff 119.5px,#0060ff 120.5px,#000dff 122.5px,#0000e0 123.5px,#0000bf 124.5px,#0000b3 125.5px,#0000bf 126.5px,#0000e0 127.5px,#0011ff 128.5px,#00c9ff 131.5px,#04fffb 132.5px,#feff01 137.5px,#ffa700 139.5px,#ff6800 141.5px,#ff2400 144.5px,#ff0d00 146.5px,#f60000 160.5px,#c90000 186.5px,#910000 204.5px,#8a0000 227.5px)"></i><i style="top:57px;height:1px;background:linear-gradient(90deg,#8a0000 0.5px,#8a0000 72.5px,#910000 73.5px,#a20000 74.5px,#ff0100 77.5px,#ff9600 82.5px,#ffe100 84.5px,#f5ff0a 85.5px,#17ffe8 90.5px,#00e0ff 91.5px,#001dff 94.5px,#0000e2 95.5px,#0000bb 96.5px,#0000ab 97.5px,#0000ac 111.5px,#0000b7 112.5px,#0000d0 113.5px,#0000f6 114.5px,#0058ff 116.5px,#007fff 117.5px,#0095ff 118.5px,#0096ff 119.5px,#0083ff 120.5px,#005dff 121.5px,#0000f5 123.5px,#0000cb 124.5px,#0000b5 125.5px,#0000b9 126.5px,#0000d4 127.5px,#0002ff 128.5px,#00f9ff 132.5px,#caff35 136.5px,#fbff04 137.5px,#ff8500 140.5px,#ff2100 144.5px,#ff0b00 146.5px,#f90000 156.5px,#b60000 186.5px,#8f0000 199.5px,#8a0000 227.5px)"></i><i style="top:58px;height:1px;background:linear-gradient(90deg,#8a0000 0.5px,#8a0000 72.5px,#910000 73.5px,#a20000 74.5px,#ff0100 77.5px,#ff9700 82.5px,#ffe200 84.5px,#f4ff0b 85.5px,#16ffe9 90.5px,#00deff 91.5px,#001bff 94.5px,#0000e0 95.5px,#0000ba 96.5px,#0000ab 97.5px,#0000aa 110.5px,#0000b1 111.5px,#0000c5 112.5px,#0000e9 113.5px,#001aff 114.5px,#0081ff 116.5px,#00a6ff 117.5px,#00b9ff 118.5px,#00b8ff 119.5px,#00a4ff 120.5px,#007cff 121.5px,#000dff 123.5px,#0000d8 124.5px,#0000b9 125.5px,#0000b4 126.5px,#0000c9 127.5px,#0000f2 128.5px,#002bff 129.5px,#00ecff 132.5px,#27ffd8 133.5px,#f8ff07 137.5px,#ff8700 140.5px,#ff1f00 144.5px,#ff0900 146.5px,#f60000 155.5px,#8d0000 195.5px,#8a0000 227.5px)"></i><i style="top:59px;height:1px;background:linear-gradient(90deg,#8a0000 0.5px,#8a0000 72.5px,#910000 73.5px,#a20000 74.5px,#ff0100 77.5px,#ff9900 82.5px,#ffe200 84.5px,#f4ff0b 85.5px,#15ffea 90.5px,#00dcff 91.5px,#0019ff 94.5px,#0000df 95.5px,#0000b9 96.5px,#0000ab 97.5px,#0000ad 110.5px,#0000bb 111.5px,#0009ff 113.5px,#00a9ff 116.5px,#00ccff 117.5px,#00deff 118.5px,#00dbff 119.5px,#00c4ff 120.5px,#009bff 121.5px,#0022ff 123.5px,#0000e6 124.5px,#0000be 125.5px,#0000b2 126.5px,#0000bf 127.5px,#0000e3 128.5px,#0019ff 129.5px,#00deff 132.5px,#1cffe3 133.5px,#f4ff0b 137.5px,#ffda00 138.5px,#ff8900 140.5px,#ff1c00 144.5px,#ff0700 146.5px,#f50000 153.5px,#920000 186.5px,#8a0000 209.5px,#8a0000 227.5px)"></i><i style="top:60px;height:1px;background:linear-gradient(90deg,#8a0000 0.5px,#8a0000 72.5px,#910000 73.5px,#a20000 74.5px,#ff0100 77.5px,#ff9a00 82.5px,#ffe300 84.5px,#f4ff0b 85.5px,#14ffeb 90.5px,#00dbff 91.5px,#0016ff 94.5px,#0000dd 95.5px,#0000b9 96.5px,#0000ab 97.5px,#0000aa 109.5px,#0000b3 110.5px,#0000cc 111.5px,#0000f6 112.5px,#002dff 113.5px,#00a0ff 115.5px,#00cfff 116.5px,#00f1ff 117.5px,#04fffb 118.5px,#00ffff 119.5px,#00e4ff 120.5px,#00b9ff 121.5px,#0038ff 123.5px,#0000f6 124.5px,#0000c5 125.5px,#0000b1 126.5px,#0000b7 127.5px,#0000d4 128.5px,#0006ff 129.5px,#00ceff 132.5px,#0ffff0 133.5px,#f0ff0f 137.5px,#ffdd00 138.5px,#ff8b00 140.5px,#ff1900 144.5px,#ff0900 145.5px,#f80000 150.5px,#990000 176.5px,#8a0000 193.5px,#8a0000 227.5px)"></i><i style="top:61px;height:1px;background:linear-gradient(90deg,#8a0000 0.5px,#8a0000 72.5px,#910000 73.5px,#a20000 74.5px,#ff0100 77.5px,#ff9b00 82.5px,#ffe300 84.5px,#f4ff0b 85.5px,#13ffec 90.5px,#00d9ff 91.5px,#0014ff 94.5px,#0000db 95.5px,#0000b8 96.5px,#0000ab 97.5px,#0000ae 109.5px,#0000bf 110.5px,#0000e3 111.5px,#0017ff 112.5px,#00c7ff 115.5px,#00f3ff 116.5px,#16ffe9 117.5px,#2affd5 118.5px,#25ffda 119.5px,#06fff9 120.5px,#00d7ff 121.5px,#0098ff 122.5px,#0008ff 124.5px,#0000cf 125.5px,#0000b3 126.5px,#0000b2 127.5px,#0000c8 128.5px,#0000f4 129.5px,#0031ff 130.5px,#02fffd 133.5px,#ebff14 137.5px,#ffe100 138.5px,#ff8d00 140.5px,#ff1600 144.5px,#ff0500 145.5px,#d30000 157.5px,#a80000 165.5px,#8e0000 176.5px,#8a0000 227.5px)"></i><i style="top:62px;height:1px;background:linear-gradient(90deg,#8a0000 0.5px,#8a0000 72.5px,#910000 73.5px,#a20000 74.5px,#ff0100 77.5px,#ff9c00 82.5px,#ffe300 84.5px,#f3ff0c 85.5px,#12ffed 90.5px,#00d8ff 91.5px,#0012ff 94.5px,#0000da 95.5px,#0000b7 96.5px,#0000ab 97.5px,#0000aa 108.5px,#0000b5 109.5px,#0000d0 110.5px,#0000ff 111.5px,#00b6ff 114.5px,#00ebff 115.5px,#17ffe8 116.5px,#3bffc4 117.5px,#51ffae 118.5px,#4affb5 119.5px,#28ffd7 120.5px,#00f4ff 121.5px,#00b3ff 122.5px,#001bff 124.5px,#0000db 125.5px,#0000b7 126.5px,#0000af 127.5px,#0000be 128.5px,#0000e3 129.5px,#001eff 130.5px,#00f3ff 133.5px,#35ffca 134.5px,#e7ff18 137.5px,#ffe400 138.5px,#ff9000 140.5px,#ff1300 144.5px,#ff0000 145.5px,#c40000 157.5px,#9c0000 163.5px,#8a0000 175.5px,#8a0000 227.5px)"></i><i style="top:63px;height:1px;background:linear-gradient(90deg,#8a0000 0.5px,#8a0000 72.5px,#910000 73.5px,#a20000 74.5px,#ff0100 77.5px,#ff9c00 82.5px,#ffe400 84.5px,#f3ff0c 85.5px,#11ffee 90.5px,#00d7ff 91.5px,#0010ff 94.5px,#0000d8 95.5px,#0000b7 96.5px,#0000a8 98.5px,#0000ad 108.5px,#0000bf 109.5px,#0000e5 110.5px,#001dff 111.5px,#00d8ff 114.5px,#0cfff3 115.5px,#5effa1 117.5px,#76ff89 118.5px,#6eff91 119.5px,#49ffb6 120.5px,#12ffed 121.5px,#00ceff 122.5px,#002fff 124.5px,#0000e8 125.5px,#0000bc 126.5px,#0000ae 127.5px,#0000b6 128.5px,#0000d5 129.5px,#000bff 130.5px,#00e4ff 133.5px,#29ffd6 134.5px,#e2ff1d 137.5px,#ffe800 138.5px,#ff9200 140.5px,#ff1000 144.5px,#fa0000 145.5px,#c10000 155.5px,#950000 161.5px,#8a0000 175.5px,#8a0000 227.5px)"></i><i style="top:64px;height:1px;background:linear-gradient(90deg,#8a0000 0.5px,#8a0000 72.5px,#910000 73.5px,#a20000 74.5px,#ff0100 77.5px,#ffbf00 83.5px,#ffe400 84.5px,#f3ff0c 85.5px,#11ffee 90.5px,#00d6ff 91.5px,#000dff 94.5px,#0000d6 95.5px,#0000b6 96.5px,#0000a8 98.5px,#0000aa 107.5px,#0000b2 108.5px,#0000cd 109.5px,#0000fc 110.5px,#00f5ff 114.5px,#58ffa7 116.5px,#80ff7f 117.5px,#98ff67 118.5px,#91ff6e 119.5px,#69ff96 120.5px,#2fffd0 121.5px,#00e9ff 122.5px,#0045ff 124.5px,#0000f8 125.5px,#0000c3 126.5px,#0000af 127.5px,#0000b1 128.5px,#0000c9 129.5px,#0000f9 130.5px,#003dff 131.5px,#00d4ff 133.5px,#1dffe2 134.5px,#dcff23 137.5px,#ffec00 138.5px,#ff9500 140.5px,#ff3300 143.5px,#ff0c00 144.5px,#f40000 145.5px,#b70000 154.5px,#8f0000 160.5px,#8a0000 227.5px)"></i><i style="top:65px;height:1px;background:linear-gradient(90deg,#8a0000 0.5px,#8a0000 72.5px,#910000 73.5px,#a20000 74.5px,#ff0100 77.5px,#ffbf00 83.5px,#ffe300 84.5px,#f4ff0b 85.5px,#11ffee 90.5px,#00d6ff 91.5px,#000bff 94.5px,#0000d4 95.5px,#0000b5 96.5px,#0000a8 98.5px,#0000ab 107.5px,#0000b9 108.5px,#0000dc 109.5px,#0014ff 110.5px,#00d3ff 113.5px,#11ffee 114.5px,#78ff87 116.5px,#a1ff5e 117.5px,#b9ff46 118.5px,#b2ff4d 119.5px,#8aff75 120.5px,#4effb1 121.5px,#06fff9 122.5px,#00b3ff 123.5px,#000cff 125.5px,#0000ce 126.5px,#0000b1 127.5px,#0000ae 128.5px,#0000bf 129.5px,#0000ea 130.5px,#002bff 131.5px,#00c4ff 133.5px,#10ffef 134.5px,#d6ff29 137.5px,#fff000 138.5px,#ff9700 140.5px,#ff3200 143.5px,#ff0800 144.5px,#e40000 146.5px,#910000 157.5px,#8a0000 172.5px,#8a0000 227.5px)"></i><i style="top:66px;height:1px;background:linear-gradient(90deg,#8a0000 0.5px,#8a0000 72.5px,#900000 73.5px,#a10000 74.5px,#ff0000 77.5px,#ff9a00 82.5px,#ffe200 84.5px,#f5ff0a 85.5px,#11ffee 90.5px,#00d5ff 91.5px,#0008ff 94.5px,#0000d2 95.5px,#0000b4 96.5px,#0000a8 98.5px,#0000ae 107.5px,#0000c2 108.5px,#0000ed 109.5px,#0029ff 110.5px,#00ecff 113.5px,#2cffd3 114.5px,#9aff65 116.5px,#c2ff3d 117.5px,#d9ff26 118.5px,#d3ff2c 119.5px,#adff52 120.5px,#71ff8e 121.5px,#26ffd9 122.5px,#00d0ff 123.5px,#0024ff 125.5px,#0000de 126.5px,#0000b7 127.5px,#0000ad 128.5px,#0000b9 129.5px,#0000dc 130.5px,#0018ff 131.5px,#01fffe 134.5px,#d0ff2f 137.5px,#fff400 138.5px,#ff9a00 140.5px,#ff3100 143.5px,#ff0400 144.5px,#e80000 145.5px,#950000 154.5px,#8a0000 161.5px,#8a0000 227.5px)"></i><i style="top:67px;height:1px;background:linear-gradient(90deg,#8a0000 0.5px,#8a0000 72.5px,#900000 73.5px,#a00000 74.5px,#fd0000 77.5px,#ff9700 82.5px,#f8ff07 85.5px,#11ffee 90.5px,#00d4ff 91.5px,#0006ff 94.5px,#0000d0 95.5px,#0000b4 96.5px,#0000a8 98.5px,#0000aa 106.5px,#0000b2 107.5px,#0000cd 108.5px,#0000fd 109.5px,#00c2ff 112.5px,#07fff8 113.5px,#8aff75 115.5px,#beff41 116.5px,#e3ff1c 117.5px,#f8ff07 118.5px,#f3ff0c 119.5px,#d2ff2d 120.5px,#99ff66 121.5px,#4cffb3 122.5px,#00f3ff 123.5px,#003eff 125.5px,#0000f1 126.5px,#0000c0 127.5px,#0000ae 128.5px,#0000b3 129.5px,#0000cf 130.5px,#0005ff 131.5px,#009fff 133.5px,#00f0ff 134.5px,#3cffc3 135.5px,#c8ff37 137.5px,#fffa00 138.5px,#ff9d00 140.5px,#ff3000 143.5px,#ff0100 144.5px,#e10000 145.5px,#9c0000 151.5px,#8a0000 156.5px,#8a0000 227.5px)"></i><i style="top:68px;height:1px;background:linear-gradient(90deg,#8a0000 0.5px,#8a0000 72.5px,#9e0000 74.5px,#fa0000 77.5px,#ff9200 82.5px,#fbff04 85.5px,#11ffee 90.5px,#00d4ff 91.5px,#0003ff 94.5px,#0000ce 95.5px,#0000b3 96.5px,#0000a8 98.5px,#0000ab 106.5px,#0000b7 107.5px,#0000d9 108.5px,#000fff 109.5px,#00d9ff 112.5px,#24ffdb 113.5px,#afff50 115.5px,#e0ff1f 116.5px,#fffc00 117.5px,#ffe900 118.5px,#ffec00 119.5px,#f6ff09 120.5px,#c3ff3c 121.5px,#78ff87 122.5px,#1bffe4 123.5px,#00b9ff 124.5px,#005cff 125.5px,#0008ff 126.5px,#0000cc 127.5px,#0000b1 128.5px,#0000af 129.5px,#0000c3 130.5px,#0000f3 131.5px,#0039ff 132.5px,#00ddff 134.5px,#2dffd2 135.5px,#bfff40 137.5px,#feff01 138.5px,#ffa000 140.5px,#ff5900 142.5px,#fc0000 144.5px,#da0000 145.5px,#9d0000 149.5px,#8b0000 153.5px,#8a0000 227.5px)"></i><i style="top:69px;height:1px;background:linear-gradient(90deg,#8a0000 0.5px,#8e0000 73.5px,#9c0000 74.5px,#f60000 77.5px,#ff3300 79.5px,#ffb000 83.5px,#fffe00 85.5px,#46ffb9 89.5px,#12ffed 90.5px,#00d3ff 91.5px,#0000ff 94.5px,#0000cc 95.5px,#0000b2 96.5px,#0000a8 99.5px,#0000ac 106.5px,#0000bd 107.5px,#0000e5 108.5px,#0020ff 109.5px,#00f2ff 112.5px,#43ffbc 113.5px,#92ff6d 114.5px,#d3ff2c 115.5px,#fffe00 116.5px,#ffe000 117.5px,#ffce00 118.5px,#ffd000 119.5px,#ffe800 120.5px,#eaff15 121.5px,#a5ff5a 122.5px,#47ffb8 123.5px,#00dfff 124.5px,#0022ff 126.5px,#0000dd 127.5px,#0000b8 128.5px,#0000ae 129.5px,#0000bb 130.5px,#0000e2 131.5px,#0023ff 132.5px,#00c9ff 134.5px,#1cffe3 135.5px,#b5ff4a 137.5px,#f7ff08 138.5px,#ffa300 140.5px,#ff5a00 142.5px,#f70000 144.5px,#d20000 145.5px,#9c0000 148.5px,#8b0000 151.5px,#8a0000 227.5px)"></i><i style="top:70px;height:1px;background:linear-gradient(90deg,#8a0000 0.5px,#8d0000 73.5px,#990000 74.5px,#f20000 77.5px,#ff1200 78.5px,#ff8600 82.5px,#fff900 85.5px,#a9ff56 87.5px,#12ffed 90.5px,#00d3ff 91.5px,#0000fd 94.5px,#0000ca 95.5px,#0000b1 96.5px,#0000a8 99.5px,#0000af 106.5px,#0000c5 107.5px,#0000f2 108.5px,#0031ff 109.5px,#00beff 111.5px,#0efff1 112.5px,#b5ff4a 114.5px,#f3ff0c 115.5px,#ffe300 116.5px,#ffc600 117.5px,#ffb600 118.5px,#ffb700 119.5px,#ffcc00 120.5px,#fff200 121.5px,#ceff31 122.5px,#72ff8d 123.5px,#07fff8 124.5px,#003eff 126.5px,#0000f0 127.5px,#0000c0 128.5px,#0000af 129.5px,#0000b5 130.5px,#0000d3 131.5px,#000eff 132.5px,#00b3ff 134.5px,#0afff5 135.5px,#a9ff56 137.5px,#efff10 138.5px,#ffd600 139.5px,#ff7f00 141.5px,#ff5b00 142.5px,#ff2c00 143.5px,#f20000 144.5px,#ca0000 145.5px,#930000 148.5px,#8a0000 152.5px,#8a0000 227.5px)"></i><i style="top:71px;height:1px;background:linear-gradient(90deg,#8a0000 0.5px,#8c0000 73.5px,#960000 74.5px,#cd0000 76.5px,#ed0000 77.5px,#ff0d00 78.5px,#ff7f00 82.5px,#fff300 85.5px,#deff21 86.5px,#13ffec 90.5px,#00d2ff 91.5px,#003fff 93.5px,#0000fa 94.5px,#0000c8 95.5px,#0000b0 96.5px,#0000a8 100.5px,#0000aa 105.5px,#0000b3 106.5px,#0000ce 107.5px,#0001ff 108.5px,#0089ff 110.5px,#00d5ff 111.5px,#2affd5 112.5px,#d4ff2b 114.5px,#fff100 115.5px,#ffcb00 116.5px,#ffaf00 117.5px,#ff9f00 118.5px,#ffa000 119.5px,#ffb300 120.5px,#ffd600 121.5px,#efff10 122.5px,#99ff66 123.5px,#2effd1 124.5px,#00c0ff 125.5px,#005bff 126.5px,#0006ff 127.5px,#0000cb 128.5px,#0000b2 129.5px,#0000b1 130.5px,#0000c7 131.5px,#0000f9 132.5px,#0045ff 133.5px,#00f4ff 135.5px,#4affb5 136.5px,#e5ff1a 138.5px,#ffdc00 139.5px,#ff8100 141.5px,#ff5c00 142.5px,#ff2a00 143.5px,#ec0000 144.5px,#c00000 145.5px,#980000 147.5px,#8a0000 150.5px,#8a0000 227.5px)"></i><i style="top:72px;height:1px;background:linear-gradient(90deg,#8a0000 0.5px,#8b0000 73.5px,#940000 74.5px,#c80000 76.5px,#ff0800 78.5px,#ff7800 82.5px,#ffec00 85.5px,#e4ff1b 86.5px,#14ffeb 90.5px,#00d2ff 91.5px,#003dff 93.5px,#0000f8 94.5px,#0000c6 95.5px,#0000af 96.5px,#0000a8 102.5px,#0000ab 105.5px,#0000b7 106.5px,#0000d8 107.5px,#0010ff 108.5px,#009dff 110.5px,#00edff 111.5px,#45ffba 112.5px,#9fff60 113.5px,#ecff13 114.5px,#ffdc00 115.5px,#ff9a00 117.5px,#ff8a00 118.5px,#ff8a00 119.5px,#ff9c00 120.5px,#ffbf00 121.5px,#fff400 122.5px,#baff45 123.5px,#51ffae 124.5px,#00e0ff 125.5px,#0078ff 126.5px,#001dff 127.5px,#0000da 128.5px,#0000b6 129.5px,#0000ae 130.5px,#0000bd 131.5px,#0000e7 132.5px,#002dff 133.5px,#00dfff 135.5px,#38ffc7 136.5px,#daff25 138.5px,#ffe400 139.5px,#ff8400 141.5px,#ff5d00 142.5px,#ff2800 143.5px,#e50000 144.5px,#b60000 145.5px,#9e0000 146.5px,#8b0000 148.5px,#8a0000 227.5px)"></i><i style="top:73px;height:1px;background:linear-gradient(90deg,#8a0000 0.5px,#8b0000 73.5px,#920000 74.5px,#c30000 76.5px,#ff0200 78.5px,#ff9200 83.5px,#ffe400 85.5px,#ebff14 86.5px,#15ffea 90.5px,#00d1ff 91.5px,#003aff 93.5px,#0000f5 94.5px,#0000c4 95.5px,#0000ae 96.5px,#0000a9 104.5px,#0000ac 105.5px,#0000bc 106.5px,#0000e3 107.5px,#0020ff 108.5px,#06fff9 111.5px,#b8ff47 113.5px,#fffe00 114.5px,#ffca00 115.5px,#ff8600 117.5px,#ff7600 118.5px,#ff7600 119.5px,#ff8700 120.5px,#ffa900 121.5px,#ffdc00 122.5px,#d6ff29 123.5px,#70ff8f 124.5px,#00ffff 125.5px,#0094ff 126.5px,#0036ff 127.5px,#0000ea 128.5px,#0000bd 129.5px,#0000ae 130.5px,#0000b6 131.5px,#0000d8 132.5px,#0017ff 133.5px,#00c8ff 135.5px,#25ffda 136.5px,#ceff31 138.5px,#ffeb00 139.5px,#ffb300 140.5px,#ff5d00 142.5px,#ff2500 143.5px,#df0000 144.5px,#ae0000 145.5px,#970000 146.5px,#8a0000 148.5px,#8a0000 227.5px)"></i><i style="top:74px;height:1px;background:linear-gradient(90deg,#8a0000 0.5px,#8a0000 73.5px,#910000 74.5px,#a20000 75.5px,#fc0000 78.5px,#ff8a00 83.5px,#ffdc00 85.5px,#f2ff0d 86.5px,#16ffe9 90.5px,#00d1ff 91.5px,#0038ff 93.5px,#0000f2 94.5px,#0000c2 95.5px,#0000ae 96.5px,#0000a9 104.5px,#0000ae 105.5px,#0000c3 106.5px,#0000ef 107.5px,#0030ff 108.5px,#00c8ff 110.5px,#1effe1 111.5px,#ceff31 113.5px,#ffec00 114.5px,#ffb800 115.5px,#ff9000 116.5px,#ff7200 117.5px,#ff6300 118.5px,#ff6200 119.5px,#ff7100 120.5px,#ff9200 121.5px,#ffc600 122.5px,#efff10 123.5px,#8cff73 124.5px,#1dffe2 125.5px,#00b0ff 126.5px,#004eff 127.5px,#0000fb 128.5px,#0000c5 129.5px,#0000af 130.5px,#0000b1 131.5px,#0000cb 132.5px,#0002ff 133.5px,#0053ff 134.5px,#00b1ff 135.5px,#11ffee 136.5px,#c1ff3e 138.5px,#fff400 139.5px,#ffb900 140.5px,#ff5e00 142.5px,#ff2300 143.5px,#da0000 144.5px,#a80000 145.5px,#930000 146.5px,#8a0000 150.5px,#8a0000 227.5px)"></i><i style="top:75px;height:1px;background:linear-gradient(90deg,#8a0000 0.5px,#8a0000 73.5px,#9e0000 75.5px,#f60000 78.5px,#ff2e00 80.5px,#ff8200 83.5px,#faff05 86.5px,#17ffe8 90.5px,#00d0ff 91.5px,#0035ff 93.5px,#0000f0 94.5px,#0000c1 95.5px,#0000ad 96.5px,#0000aa 104.5px,#0000b1 105.5px,#0000cb 106.5px,#0000fc 107.5px,#0041ff 108.5px,#00dfff 110.5px,#37ffc8 111.5px,#e3ff1c 113.5px,#ffda00 114.5px,#ff7c00 116.5px,#ff5e00 117.5px,#ff5000 118.5px,#ff4f00 119.5px,#ff5c00 120.5px,#ff7c00 121.5px,#ffb000 122.5px,#fff900 123.5px,#a6ff59 124.5px,#39ffc6 125.5px,#00cbff 126.5px,#0067ff 127.5px,#0010ff 128.5px,#0000d1 129.5px,#0000b3 130.5px,#0000af 131.5px,#0000c0 132.5px,#0000ef 133.5px,#003cff 134.5px,#00fbff 136.5px,#b4ff4b 138.5px,#fffc00 139.5px,#ffbe00 140.5px,#ff5f00 142.5px,#ff2200 143.5px,#d70000 144.5px,#a50000 145.5px,#900000 146.5px,#8a0000 153.5px,#8a0000 227.5px)"></i><i style="top:76px;height:1px;background:linear-gradient(90deg,#8a0000 0.5px,#8d0000 74.5px,#9a0000 75.5px,#f00000 78.5px,#ff0e00 79.5px,#ff7a00 83.5px,#ffcb00 85.5px,#fffc00 86.5px,#57ffa8 89.5px,#18ffe7 90.5px,#00d0ff 91.5px,#0033ff 93.5px,#0000ed 94.5px,#0000bf 95.5px,#0000ac 96.5px,#0000aa 104.5px,#0000b5 105.5px,#0000d4 106.5px,#000bff 107.5px,#00a2ff 109.5px,#00f5ff 110.5px,#4effb1 111.5px,#f6ff09 113.5px,#ff9400 115.5px,#ff6900 116.5px,#ff4c00 117.5px,#ff3e00 118.5px,#ff3d00 119.5px,#ff4700 120.5px,#ff6400 121.5px,#ff9a00 122.5px,#ffe200 123.5px,#c0ff3f 124.5px,#54ffab 125.5px,#00e6ff 126.5px,#0080ff 127.5px,#0026ff 128.5px,#0000df 129.5px,#0000b8 130.5px,#0000ae 131.5px,#0000b9 132.5px,#0000e0 133.5px,#0026ff 134.5px,#00e6ff 136.5px,#4affb5 137.5px,#a7ff58 138.5px,#f9ff06 139.5px,#ff9000 141.5px,#ff6000 142.5px,#ff2100 143.5px,#d50000 144.5px,#a20000 145.5px,#8f0000 146.5px,#8a0000 165.5px,#8a0000 227.5px)"></i><i style="top:77px;height:1px;background:linear-gradient(90deg,#8a0000 0.5px,#8c0000 74.5px,#960000 75.5px,#cb0000 77.5px,#ea0000 78.5px,#ff0800 79.5px,#ff7300 83.5px,#ffc200 85.5px,#fff500 86.5px,#d2ff2d 87.5px,#19ffe6 90.5px,#00cfff 91.5px,#0030ff 93.5px,#0000eb 94.5px,#0000be 95.5px,#0000ac 96.5px,#0000ab 104.5px,#0000b8 105.5px,#0000dd 106.5px,#0019ff 107.5px,#00b6ff 109.5px,#0cfff3 110.5px,#bbff44 112.5px,#fff700 113.5px,#ff8200 115.5px,#ff5600 116.5px,#ff3a00 117.5px,#ff2e00 118.5px,#ff3400 120.5px,#ff4e00 121.5px,#ff8300 122.5px,#ffcc00 123.5px,#d9ff26 124.5px,#01fffe 126.5px,#003dff 128.5px,#0000ef 129.5px,#0000bf 130.5px,#0000ae 131.5px,#0000b4 132.5px,#0000d3 133.5px,#0012ff 134.5px,#006cff 135.5px,#00d2ff 136.5px,#39ffc6 137.5px,#99ff66 138.5px,#efff10 139.5px,#ffca00 140.5px,#ff6100 142.5px,#ff2000 143.5px,#d20000 144.5px,#a00000 145.5px,#8e0000 146.5px,#8a0000 227.5px)"></i><i style="top:78px;height:1px;background:linear-gradient(90deg,#8a0000 0.5px,#8b0000 74.5px,#930000 75.5px,#c50000 77.5px,#ff0300 79.5px,#ff6d00 83.5px,#ffbb00 85.5px,#ffed00 86.5px,#d8ff27 87.5px,#1affe5 90.5px,#00cfff 91.5px,#002eff 93.5px,#0000e9 94.5px,#0000bd 95.5px,#0000ac 96.5px,#0000ac 104.5px,#0000bc 105.5px,#0000e5 106.5px,#0027ff 107.5px,#00c9ff 109.5px,#21ffde 110.5px,#cfff30 112.5px,#ffe600 113.5px,#ff7100 115.5px,#ff4400 116.5px,#ff2900 117.5px,#ff1c00 119.5px,#ff2200 120.5px,#ff3b00 121.5px,#ff6e00 122.5px,#ffb500 123.5px,#f1ff0e 124.5px,#1dffe2 126.5px,#00b5ff 127.5px,#0056ff 128.5px,#0003ff 129.5px,#0000c8 130.5px,#0000b0 131.5px,#0000b0 132.5px,#0000c8 133.5px,#0001ff 134.5px,#0058ff 135.5px,#00beff 136.5px,#28ffd7 137.5px,#8cff73 138.5px,#e5ff1a 139.5px,#ffd100 140.5px,#ff6300 142.5px,#ff1f00 143.5px,#d00000 144.5px,#9e0000 145.5px,#8e0000 146.5px,#8a0000 227.5px)"></i><i style="top:79px;height:1px;background:linear-gradient(90deg,#8a0000 0.5px,#8a0000 74.5px,#910000 75.5px,#be0000 77.5px,#fc0000 79.5px,#ff6800 83.5px,#ffb400 85.5px,#ffe700 86.5px,#deff21 87.5px,#1bffe4 90.5px,#00cfff 91.5px,#002cff 93.5px,#0000e7 94.5px,#0000bc 95.5px,#0000ac 96.5px,#0000ac 104.5px,#0000bf 105.5px,#0000ed 106.5px,#0034ff 107.5px,#00dcff 109.5px,#36ffc9 110.5px,#e2ff1d 112.5px,#ffd500 113.5px,#ff6000 115.5px,#ff3300 116.5px,#ff1a00 117.5px,#ff0e00 119.5px,#ff1300 120.5px,#ff2900 121.5px,#ff5800 122.5px,#ff9e00 123.5px,#fff400 124.5px,#a6ff59 125.5px,#3affc5 126.5px,#00d1ff 127.5px,#0019ff 129.5px,#0000d6 130.5px,#0000b5 131.5px,#0000af 132.5px,#0000c0 133.5px,#0000f2 134.5px,#0045ff 135.5px,#00acff 136.5px,#18ffe7 137.5px,#7eff81 138.5px,#daff25 139.5px,#ffd800 140.5px,#ff6400 142.5px,#ff1e00 143.5px,#ce0000 144.5px,#9d0000 145.5px,#8d0000 146.5px,#8a0000 227.5px)"></i><i style="top:80px;height:1px;background:linear-gradient(90deg,#8a0000 0.5px,#8a0000 74.5px,#9e0000 76.5px,#f60000 79.5px,#ff2e00 81.5px,#ff8300 84.5px,#ffe100 86.5px,#e4ff1b 87.5px,#1cffe3 90.5px,#00ceff 91.5px,#0029ff 93.5px,#0000e5 94.5px,#0000bb 95.5px,#0000ab 96.5px,#0000ad 104.5px,#0000c2 105.5px,#0000f4 106.5px,#003fff 107.5px,#00efff 109.5px,#4affb5 110.5px,#f5ff0a 112.5px,#ffc300 113.5px,#ff4d00 115.5px,#ff2200 116.5px,#ff0a00 117.5px,#fe0000 119.5px,#ff0400 120.5px,#ff1700 121.5px,#ff4300 122.5px,#ff8700 123.5px,#ffda00 124.5px,#c3ff3c 125.5px,#59ffa6 126.5px,#00efff 127.5px,#0032ff 129.5px,#0000e7 130.5px,#0000bc 131.5px,#0000af 132.5px,#0000bb 133.5px,#0000e6 134.5px,#0034ff 135.5px,#09fff6 137.5px,#72ff8d 138.5px,#d0ff2f 139.5px,#ffe000 140.5px,#ff6600 142.5px,#ff1d00 143.5px,#cc0000 144.5px,#9b0000 145.5px,#8c0000 146.5px,#8a0000 227.5px)"></i><i style="top:81px;height:1px;background:linear-gradient(90deg,#8a0000 0.5px,#8d0000 75.5px,#9a0000 76.5px,#ef0000 79.5px,#ff0e00 80.5px,#ff7f00 84.5px,#ffdb00 86.5px,#e9ff16 87.5px,#1effe1 90.5px,#00ceff 91.5px,#0027ff 93.5px,#0000e3 94.5px,#0000ba 95.5px,#0000ab 96.5px,#0000a9 103.5px,#0000ae 104.5px,#0000c6 105.5px,#0000fb 106.5px,#004bff 107.5px,#02fffd 109.5px,#b7ff48 111.5px,#fff600 112.5px,#ff6f00 114.5px,#ff3800 115.5px,#ff1000 116.5px,#fa0000 117.5px,#f10000 119.5px,#ff0500 121.5px,#ff2c00 122.5px,#ff6e00 123.5px,#ffbf00 124.5px,#e1ff1e 125.5px,#11ffee 127.5px,#00abff 128.5px,#004eff 129.5px,#0000fc 130.5px,#0000c5 131.5px,#0000b0 132.5px,#0000b7 133.5px,#0000da 134.5px,#0023ff 135.5px,#0089ff 136.5px,#00f9ff 137.5px,#c6ff39 139.5px,#ffe700 140.5px,#ff6800 142.5px,#ff1c00 143.5px,#ca0000 144.5px,#9a0000 145.5px,#8c0000 146.5px,#8a0000 227.5px)"></i><i style="top:82px;height:1px;background:linear-gradient(90deg,#8a0000 0.5px,#8c0000 75.5px,#950000 76.5px,#c80000 78.5px,#ff0700 80.5px,#ff7b00 84.5px,#ffd600 86.5px,#eeff11 87.5px,#1fffe0 90.5px,#00cdff 91.5px,#0024ff 93.5px,#0000e1 94.5px,#0000b9 95.5px,#0000ab 96.5px,#0000a9 103.5px,#0000b0 104.5px,#0000c9 105.5px,#0004ff 106.5px,#0057ff 107.5px,#00b4ff 108.5px,#14ffeb 109.5px,#ccff33 111.5px,#ffe000 112.5px,#ff5400 114.5px,#ff1f00 115.5px,#fb0000 116.5px,#ea0000 117.5px,#e50000 120.5px,#f20000 121.5px,#ff1700 122.5px,#ff5400 123.5px,#ffa300 124.5px,#fffe00 125.5px,#33ffcc 127.5px,#00cdff 128.5px,#0015ff 130.5px,#0000d3 131.5px,#0000b4 132.5px,#0000b3 133.5px,#0000d0 134.5px,#0013ff 135.5px,#0078ff 136.5px,#00eaff 137.5px,#58ffa7 138.5px,#bbff44 139.5px,#ffef00 140.5px,#ff6b00 142.5px,#ff1c00 143.5px,#c90000 144.5px,#990000 145.5px,#8c0000 146.5px,#8a0000 227.5px)"></i><i style="top:83px;height:1px;background:linear-gradient(90deg,#8a0000 0.5px,#8a0000 75.5px,#920000 76.5px,#c00000 78.5px,#ff0000 80.5px,#ff7600 84.5px,#ffd000 86.5px,#f4ff0b 87.5px,#20ffdf 90.5px,#00cdff 91.5px,#0021ff 93.5px,#0000de 94.5px,#0000b8 95.5px,#0000ab 96.5px,#0000a9 103.5px,#0000b1 104.5px,#0000cd 105.5px,#000bff 106.5px,#0062ff 107.5px,#00c4ff 108.5px,#27ffd8 109.5px,#e2ff1d 111.5px,#ffc700 112.5px,#ff7a00 113.5px,#ff3700 114.5px,#ff0600 115.5px,#e80000 116.5px,#d70000 118.5px,#d80000 120.5px,#e20000 121.5px,#ff0200 122.5px,#ff3b00 123.5px,#ff8700 124.5px,#ffdf00 125.5px,#beff41 126.5px,#57ffa8 127.5px,#00efff 128.5px,#0031ff 130.5px,#0000e6 131.5px,#0000bb 132.5px,#0000b1 133.5px,#0000c7 134.5px,#0005ff 135.5px,#0067ff 136.5px,#00dbff 137.5px,#4bffb4 138.5px,#b0ff4f 139.5px,#fff800 140.5px,#ff6e00 142.5px,#ff1d00 143.5px,#c90000 144.5px,#990000 145.5px,#8c0000 146.5px,#8a0000 227.5px)"></i><i style="top:84px;height:1px;background:linear-gradient(90deg,#8a0000 0.5px,#8f0000 76.5px,#9d0000 77.5px,#f70000 80.5px,#ff3400 82.5px,#ff7200 84.5px,#ffcb00 86.5px,#f9ff06 87.5px,#6eff91 89.5px,#22ffdd 90.5px,#00cdff 91.5px,#001eff 93.5px,#0000db 94.5px,#0000b7 95.5px,#0000ab 96.5px,#0000aa 103.5px,#0000b2 104.5px,#0000d0 105.5px,#0012ff 106.5px,#00d3ff 108.5px,#39ffc6 109.5px,#f9ff06 111.5px,#ff5b00 113.5px,#ff1a00 114.5px,#ed0000 115.5px,#d60000 116.5px,#cb0000 118.5px,#cc0000 120.5px,#d40000 121.5px,#ee0000 122.5px,#ff2200 123.5px,#ff6c00 124.5px,#ffc200 125.5px,#deff21 126.5px,#13ffec 128.5px,#00aeff 129.5px,#004fff 130.5px,#0000fb 131.5px,#0000c4 132.5px,#0000b2 133.5px,#0000c1 134.5px,#0000f7 135.5px,#0056ff 136.5px,#00cbff 137.5px,#3effc1 138.5px,#a5ff5a 139.5px,#feff01 140.5px,#ff7100 142.5px,#ff1e00 143.5px,#c90000 144.5px,#990000 145.5px,#8c0000 146.5px,#8a0000 227.5px)"></i><i style="top:85px;height:1px;background:linear-gradient(90deg,#8a0000 0.5px,#8c0000 76.5px,#970000 77.5px,#cc0000 79.5px,#ee0000 80.5px,#ff0f00 81.5px,#ff6d00 84.5px,#ffc600 86.5px,#feff01 87.5px,#71ff8e 89.5px,#23ffdc 90.5px,#00cdff 91.5px,#001bff 93.5px,#0000d8 94.5px,#0000b6 95.5px,#0000a8 97.5px,#0000aa 103.5px,#0000b3 104.5px,#0000d4 105.5px,#001aff 106.5px,#00e3ff 108.5px,#4bffb4 109.5px,#afff50 110.5px,#ffee00 111.5px,#ff9100 112.5px,#ff3e00 113.5px,#ff0000 114.5px,#d90000 115.5px,#c70000 116.5px,#c10000 120.5px,#c70000 121.5px,#dd0000 122.5px,#ff0c00 123.5px,#ff5200 124.5px,#fdff02 126.5px,#35ffca 128.5px,#00cfff 129.5px,#0013ff 131.5px,#0000d1 132.5px,#0000b5 133.5px,#0000bd 134.5px,#0000eb 135.5px,#0045ff 136.5px,#00baff 137.5px,#31ffce 138.5px,#9aff65 139.5px,#f5ff0a 140.5px,#ffbd00 141.5px,#ff7400 142.5px,#ff2000 143.5px,#c90000 144.5px,#990000 145.5px,#8c0000 146.5px,#8a0000 227.5px)"></i><i style="top:86px;height:1px;background:linear-gradient(90deg,#8a0000 0.5px,#8b0000 76.5px,#920000 77.5px,#a50000 78.5px,#ff0600 81.5px,#ff6800 84.5px,#ffc100 86.5px,#fffc00 87.5px,#bfff40 88.5px,#25ffda 90.5px,#00cdff 91.5px,#0018ff 93.5px,#0000d6 94.5px,#0000b4 95.5px,#0000a8 97.5px,#0000aa 103.5px,#0000b4 104.5px,#0000d8 105.5px,#0022ff 106.5px,#00f2ff 108.5px,#5cffa3 109.5px,#c2ff3d 110.5px,#ffd800 111.5px,#ff7800 112.5px,#ff2600 113.5px,#eb0000 114.5px,#ca0000 115.5px,#bb0000 116.5px,#bc0000 121.5px,#ce0000 122.5px,#f90000 123.5px,#ff3d00 124.5px,#ffe600 126.5px,#b9ff46 127.5px,#56ffa9 128.5px,#00efff 129.5px,#002cff 131.5px,#0000e1 132.5px,#0000ba 133.5px,#0000b9 134.5px,#0000e0 135.5px,#0034ff 136.5px,#00aaff 137.5px,#24ffdb 138.5px,#8fff70 139.5px,#ecff13 140.5px,#ffc400 141.5px,#ff7800 142.5px,#ff2100 143.5px,#ca0000 144.5px,#990000 145.5px,#8c0000 146.5px,#8a0000 227.5px)"></i><i style="top:87px;height:1px;background:linear-gradient(90deg,#8a0000 0.5px,#8e0000 77.5px,#9d0000 78.5px,#d90000 80.5px,#fb0000 81.5px,#ff6300 84.5px,#ffbc00 86.5px,#fff700 87.5px,#c3ff3c 88.5px,#27ffd8 90.5px,#00cdff 91.5px,#0015ff 93.5px,#0000d2 94.5px,#0000b3 95.5px,#0000a8 97.5px,#0000aa 103.5px,#0000b6 104.5px,#0000dc 105.5px,#002aff 106.5px,#02fffd 108.5px,#d4ff2b 110.5px,#ffc500 111.5px,#ff6500 112.5px,#ff1400 113.5px,#dc0000 114.5px,#be0000 115.5px,#af0000 117.5px,#b30000 121.5px,#c30000 122.5px,#eb0000 123.5px,#ff2b00 124.5px,#ffcd00 126.5px,#d7ff28 127.5px,#10ffef 129.5px,#00aaff 130.5px,#0047ff 131.5px,#0000f3 132.5px,#0000c1 133.5px,#0000b7 134.5px,#0000d5 135.5px,#0024ff 136.5px,#009aff 137.5px,#17ffe8 138.5px,#85ff7a 139.5px,#e2ff1d 140.5px,#ffcb00 141.5px,#ff7d00 142.5px,#ff2300 143.5px,#ca0000 144.5px,#990000 145.5px,#8c0000 146.5px,#8a0000 227.5px)"></i><i style="top:88px;height:1px;background:linear-gradient(90deg,#8a0000 0.5px,#8c0000 77.5px,#960000 78.5px,#cd0000 80.5px,#f10000 81.5px,#ff1500 82.5px,#ff8600 85.5px,#fff200 87.5px,#c8ff37 88.5px,#29ffd6 90.5px,#00ceff 91.5px,#0012ff 93.5px,#0000cf 94.5px,#0000b1 95.5px,#0000a8 98.5px,#0000aa 103.5px,#0000b7 104.5px,#0000e0 105.5px,#0031ff 106.5px,#009dff 107.5px,#0ffff0 108.5px,#e4ff1b 110.5px,#ffb500 111.5px,#ff5600 112.5px,#ff0800 113.5px,#d20000 114.5px,#b50000 115.5px,#a80000 117.5px,#ab0000 121.5px,#b90000 122.5px,#df0000 123.5px,#ff1c00 124.5px,#ffb500 126.5px,#f3ff0c 127.5px,#31ffce 129.5px,#00caff 130.5px,#0064ff 131.5px,#0009ff 132.5px,#0000cb 133.5px,#0000b6 134.5px,#0000cd 135.5px,#0016ff 136.5px,#008bff 137.5px,#0bfff4 138.5px,#7aff85 139.5px,#d9ff26 140.5px,#ffd200 141.5px,#ff8100 142.5px,#ff2400 143.5px,#ca0000 144.5px,#990000 145.5px,#8c0000 146.5px,#8a0000 227.5px)"></i><i style="top:89px;height:1px;background:linear-gradient(90deg,#8a0000 0.5px,#8a0000 77.5px,#910000 78.5px,#a30000 79.5px,#e50000 81.5px,#ff0c00 82.5px,#ff8100 85.5px,#ffed00 87.5px,#ccff33 88.5px,#2bffd4 90.5px,#00ceff 91.5px,#000fff 93.5px,#0000cd 94.5px,#0000b0 95.5px,#0000a8 99.5px,#0000ab 103.5px,#0000b8 104.5px,#0000e3 105.5px,#0038ff 106.5px,#00a8ff 107.5px,#1dffe2 108.5px,#f3ff0c 110.5px,#ffa600 111.5px,#ff4a00 112.5px,#fd0000 113.5px,#c90000 114.5px,#ad0000 115.5px,#a10000 117.5px,#a30000 121.5px,#b10000 122.5px,#d40000 123.5px,#ff0e00 124.5px,#ffa000 126.5px,#fff100 127.5px,#b4ff4b 128.5px,#52ffad 129.5px,#00ebff 130.5px,#0022ff 132.5px,#0000d9 133.5px,#0000b9 134.5px,#0000c7 135.5px,#000bff 136.5px,#007eff 137.5px,#00ffff 138.5px,#71ff8e 139.5px,#d0ff2f 140.5px,#ffd900 141.5px,#ff8600 142.5px,#ff2600 143.5px,#cb0000 144.5px,#990000 145.5px,#8c0000 146.5px,#8a0000 227.5px)"></i><i style="top:90px;height:1px;background:linear-gradient(90deg,#8a0000 0.5px,#8d0000 78.5px,#9b0000 79.5px,#da0000 81.5px,#ff0100 82.5px,#ff7c00 85.5px,#ffe800 87.5px,#d1ff2e 88.5px,#2effd1 90.5px,#00cfff 91.5px,#000cff 93.5px,#0000ca 94.5px,#0000af 95.5px,#0000a8 102.5px,#0000ab 103.5px,#0000b9 104.5px,#0000e7 105.5px,#0040ff 106.5px,#00b2ff 107.5px,#29ffd6 108.5px,#fffc00 110.5px,#ff3f00 112.5px,#f40000 113.5px,#c00000 114.5px,#a50000 115.5px,#9a0000 117.5px,#9d0000 121.5px,#a80000 122.5px,#ca0000 123.5px,#ff0200 124.5px,#ffd900 127.5px,#d1ff2e 128.5px,#0efff1 130.5px,#00a3ff 131.5px,#003dff 132.5px,#0000ea 133.5px,#0000bf 134.5px,#0000c4 135.5px,#0002ff 136.5px,#0072ff 137.5px,#00f4ff 138.5px,#68ff97 139.5px,#c9ff36 140.5px,#ffdf00 141.5px,#ff8a00 142.5px,#ff2800 143.5px,#cb0000 144.5px,#990000 145.5px,#8c0000 146.5px,#8a0000 227.5px)"></i><i style="top:91px;height:1px;background:linear-gradient(90deg,#8a0000 0.5px,#8b0000 78.5px,#950000 79.5px,#ab0000 80.5px,#f50000 82.5px,#ff1f00 83.5px,#ffa900 86.5px,#ffe300 87.5px,#d6ff29 88.5px,#30ffcf 90.5px,#00d0ff 91.5px,#000bff 93.5px,#0000c8 94.5px,#0000ae 95.5px,#0000ab 103.5px,#0000ba 104.5px,#0000ea 105.5px,#0047ff 106.5px,#00bdff 107.5px,#36ffc9 108.5px,#a6ff59 109.5px,#ffef00 110.5px,#ff3500 112.5px,#eb0000 113.5px,#b80000 114.5px,#9e0000 115.5px,#950000 118.5px,#970000 121.5px,#a10000 122.5px,#c00000 123.5px,#f60000 124.5px,#ff3900 125.5px,#ffc400 127.5px,#ebff14 128.5px,#2dffd2 130.5px,#00c2ff 131.5px,#0057ff 132.5px,#0000fc 133.5px,#0000c6 134.5px,#0000c3 135.5px,#0000f9 136.5px,#0066ff 137.5px,#00eaff 138.5px,#60ff9f 139.5px,#c2ff3d 140.5px,#ffe500 141.5px,#ff8d00 142.5px,#ff2900 143.5px,#cb0000 144.5px,#990000 145.5px,#8c0000 146.5px,#8a0000 227.5px)"></i><i style="top:92px;height:1px;background:linear-gradient(90deg,#8a0000 0.5px,#8a0000 78.5px,#900000 79.5px,#a20000 80.5px,#e90000 82.5px,#ff1500 83.5px,#ffa300 86.5px,#ffdd00 87.5px,#dcff23 88.5px,#33ffcc 90.5px,#00d1ff 91.5px,#000aff 93.5px,#0000c8 94.5px,#0000ae 95.5px,#0000ab 103.5px,#0000bb 104.5px,#0000ee 105.5px,#004fff 106.5px,#00c8ff 107.5px,#43ffbc 108.5px,#b4ff4b 109.5px,#ffe200 110.5px,#ff2b00 112.5px,#e20000 113.5px,#b00000 114.5px,#980000 115.5px,#900000 119.5px,#910000 121.5px,#9a0000 122.5px,#b70000 123.5px,#ec0000 124.5px,#ff2e00 125.5px,#ffb400 127.5px,#fffe00 128.5px,#a9ff56 129.5px,#47ffb8 130.5px,#00dcff 131.5px,#006fff 132.5px,#000dff 133.5px,#0000cd 134.5px,#0000c2 135.5px,#0000f1 136.5px,#005bff 137.5px,#00dfff 138.5px,#58ffa7 139.5px,#bcff43 140.5px,#ffe900 141.5px,#ff9000 142.5px,#ff2a00 143.5px,#cb0000 144.5px,#990000 145.5px,#8c0000 146.5px,#8a0000 227.5px)"></i><i style="top:93px;height:1px;background:linear-gradient(90deg,#8a0000 0.5px,#8d0000 79.5px,#9a0000 80.5px,#b70000 81.5px,#de0000 82.5px,#ff0a00 83.5px,#ff9d00 86.5px,#ffd800 87.5px,#e2ff1d 88.5px,#37ffc8 90.5px,#00d3ff 91.5px,#0009ff 93.5px,#0000c7 94.5px,#0000ad 95.5px,#0000ab 103.5px,#0000bd 104.5px,#0000f3 105.5px,#0057ff 106.5px,#00d4ff 107.5px,#50ffaf 108.5px,#c1ff3e 109.5px,#ffd600 110.5px,#ff2200 112.5px,#da0000 113.5px,#a90000 114.5px,#930000 115.5px,#8e0000 121.5px,#950000 122.5px,#af0000 123.5px,#e30000 124.5px,#ff2400 125.5px,#ffef00 128.5px,#bbff44 129.5px,#5bffa4 130.5px,#00f0ff 131.5px,#001bff 133.5px,#0000d4 134.5px,#0000c2 135.5px,#0000eb 136.5px,#0051ff 137.5px,#00d5ff 138.5px,#51ffae 139.5px,#b7ff48 140.5px,#ffec00 141.5px,#ff9200 142.5px,#ff2b00 143.5px,#cc0000 144.5px,#990000 145.5px,#8c0000 146.5px,#8a0000 227.5px)"></i><i style="top:94px;height:1px;background:linear-gradient(90deg,#8a0000 0.5px,#8b0000 79.5px,#950000 80.5px,#ad0000 81.5px,#fe0000 83.5px,#ff9600 86.5px,#ffd100 87.5px,#e8ff17 88.5px,#3affc5 90.5px,#00d5ff 91.5px,#0009ff 93.5px,#0000c7 94.5px,#0000ad 95.5px,#0000ac 103.5px,#0000be 104.5px,#0000f8 105.5px,#0061ff 106.5px,#00e0ff 107.5px,#5dffa2 108.5px,#ceff31 109.5px,#ffc900 110.5px,#ff1700 112.5px,#d10000 113.5px,#a30000 114.5px,#8f0000 115.5px,#8b0000 121.5px,#910000 122.5px,#a90000 123.5px,#db0000 124.5px,#ff1c00 125.5px,#ffe500 128.5px,#c7ff38 129.5px,#00fdff 131.5px,#0024ff 133.5px,#0000da 134.5px,#0000c3 135.5px,#0000e6 136.5px,#0048ff 137.5px,#00ccff 138.5px,#4bffb4 139.5px,#b4ff4b 140.5px,#ffef00 141.5px,#ff9300 142.5px,#ff2c00 143.5px,#cc0000 144.5px,#990000 145.5px,#8c0000 146.5px,#8a0000 227.5px)"></i><i style="top:95px;height:1px;background:linear-gradient(90deg,#8a0000 0.5px,#8a0000 79.5px,#910000 80.5px,#a50000 81.5px,#f30000 83.5px,#ff2500 84.5px,#ffcb00 87.5px,#eeff11 88.5px,#9bff64 89.5px,#3effc1 90.5px,#00d7ff 91.5px,#000aff 93.5px,#0000c7 94.5px,#0000ad 95.5px,#0000ac 103.5px,#0000c0 104.5px,#0000fe 105.5px,#006bff 106.5px,#00edff 107.5px,#6bff94 108.5px,#dcff23 109.5px,#ffbc00 110.5px,#ff0c00 112.5px,#c80000 113.5px,#9e0000 114.5px,#8d0000 115.5px,#8f0000 122.5px,#a40000 123.5px,#d40000 124.5px,#ff1400 125.5px,#ffdf00 128.5px,#cdff32 129.5px,#6dff92 130.5px,#03fffc 131.5px,#0027ff 133.5px,#0000dc 134.5px,#0000c2 135.5px,#0000e2 136.5px,#0041ff 137.5px,#00c5ff 138.5px,#45ffba 139.5px,#b1ff4e 140.5px,#fff000 141.5px,#ff9400 142.5px,#ff2c00 143.5px,#cc0000 144.5px,#990000 145.5px,#8c0000 146.5px,#8a0000 227.5px)"></i><i style="top:96px;height:1px;background:linear-gradient(90deg,#8a0000 0.5px,#8e0000 80.5px,#9d0000 81.5px,#bd0000 82.5px,#e80000 83.5px,#ff1a00 84.5px,#ffc400 87.5px,#f5ff0a 88.5px,#a1ff5e 89.5px,#42ffbd 90.5px,#00daff 91.5px,#000bff 93.5px,#0000c7 94.5px,#0000ad 95.5px,#0000ac 103.5px,#0000c3 104.5px,#0006ff 105.5px,#0077ff 106.5px,#00fbff 107.5px,#ebff14 109.5px,#ffae00 110.5px,#ff5200 111.5px,#ff0000 112.5px,#c00000 113.5px,#9a0000 114.5px,#8c0000 115.5px,#8e0000 122.5px,#a00000 123.5px,#cd0000 124.5px,#ff0d00 125.5px,#ffdb00 128.5px,#d1ff2e 129.5px,#70ff8f 130.5px,#04fffb 131.5px,#0028ff 133.5px,#0000db 134.5px,#0000c1 135.5px,#0000df 136.5px,#003bff 137.5px,#00beff 138.5px,#41ffbe 139.5px,#afff50 140.5px,#fff000 141.5px,#ff9400 142.5px,#ff2c00 143.5px,#cc0000 144.5px,#990000 145.5px,#8c0000 146.5px,#8a0000 227.5px)"></i><i style="top:97px;height:1px;background:linear-gradient(90deg,#8a0000 0.5px,#8c0000 80.5px,#970000 81.5px,#b30000 82.5px,#dc0000 83.5px,#ff0f00 84.5px,#ffbd00 87.5px,#fbff04 88.5px,#a7ff58 89.5px,#47ffb8 90.5px,#00deff 91.5px,#000cff 93.5px,#0000c8 94.5px,#0000ae 95.5px,#0000a9 102.5px,#0000ad 103.5px,#0000c6 104.5px,#000eff 105.5px,#0083ff 106.5px,#0afff5 107.5px,#89ff76 108.5px,#faff05 109.5px,#ff4300 111.5px,#f20000 112.5px,#b60000 113.5px,#960000 114.5px,#8a0000 116.5px,#8d0000 122.5px,#9d0000 123.5px,#c70000 124.5px,#ff0600 125.5px,#ffd700 128.5px,#d3ff2c 129.5px,#71ff8e 130.5px,#05fffa 131.5px,#0027ff 133.5px,#0000da 134.5px,#0000c0 135.5px,#0000dc 136.5px,#0037ff 137.5px,#00b9ff 138.5px,#3dffc2 139.5px,#adff52 140.5px,#fff100 141.5px,#ff9300 142.5px,#ff2b00 143.5px,#cc0000 144.5px,#990000 145.5px,#8c0000 146.5px,#8a0000 227.5px)"></i><i style="top:98px;height:1px;background:linear-gradient(90deg,#8a0000 0.5px,#8b0000 80.5px,#930000 81.5px,#aa0000 82.5px,#ff0300 84.5px,#ffb500 87.5px,#fffc00 88.5px,#adff52 89.5px,#4cffb3 90.5px,#00e2ff 91.5px,#000fff 93.5px,#0000c9 94.5px,#0000ae 95.5px,#0000a9 102.5px,#0000ae 103.5px,#0000ca 104.5px,#0017ff 105.5px,#0091ff 106.5px,#19ffe6 107.5px,#97ff68 108.5px,#fff500 109.5px,#ff3300 111.5px,#e30000 112.5px,#ac0000 113.5px,#920000 114.5px,#8a0000 118.5px,#8c0000 122.5px,#9a0000 123.5px,#c10000 124.5px,#fe0000 125.5px,#ffd400 128.5px,#d5ff2a 129.5px,#73ff8c 130.5px,#05fffa 131.5px,#0025ff 133.5px,#0000d9 134.5px,#0000be 135.5px,#0000da 136.5px,#0033ff 137.5px,#00b4ff 138.5px,#39ffc6 139.5px,#abff54 140.5px,#fff100 141.5px,#ff2b00 143.5px,#cb0000 144.5px,#990000 145.5px,#8c0000 146.5px,#8a0000 227.5px)"></i><i style="top:99px;height:1px;background:linear-gradient(90deg,#8a0000 0.5px,#8a0000 80.5px,#8f0000 81.5px,#a20000 82.5px,#c50000 83.5px,#f60000 84.5px,#ff2f00 85.5px,#ffad00 87.5px,#fff500 88.5px,#b3ff4c 89.5px,#52ffad 90.5px,#00e7ff 91.5px,#0012ff 93.5px,#0000cb 94.5px,#0000ae 95.5px,#0000a9 102.5px,#0000af 103.5px,#0000cf 104.5px,#0023ff 105.5px,#00a0ff 106.5px,#29ffd6 107.5px,#a7ff58 108.5px,#ffe600 109.5px,#ff7f00 110.5px,#ff2200 111.5px,#d50000 112.5px,#a30000 113.5px,#8f0000 114.5px,#8c0000 122.5px,#970000 123.5px,#ba0000 124.5px,#f60000 125.5px,#ff8600 127.5px,#ffd100 128.5px,#d7ff28 129.5px,#74ff8b 130.5px,#05fffa 131.5px,#0023ff 133.5px,#0000d7 134.5px,#0000bd 135.5px,#0000d8 136.5px,#002fff 137.5px,#00b0ff 138.5px,#36ffc9 139.5px,#aaff55 140.5px,#fff100 141.5px,#ff2b00 143.5px,#cb0000 144.5px,#990000 145.5px,#8c0000 146.5px,#8a0000 227.5px)"></i><i style="top:100px;height:1px;background:linear-gradient(90deg,#8a0000 0.5px,#8d0000 81.5px,#9b0000 82.5px,#bb0000 83.5px,#ea0000 84.5px,#ff2300 85.5px,#ffa400 87.5px,#ffee00 88.5px,#baff45 89.5px,#58ffa7 90.5px,#00ecff 91.5px,#0016ff 93.5px,#0000cd 94.5px,#0000af 95.5px,#0000a8 100.5px,#0000a9 102.5px,#0000b1 103.5px,#0000d6 104.5px,#0030ff 105.5px,#00b0ff 106.5px,#38ffc7 107.5px,#b6ff49 108.5px,#ffd500 109.5px,#ff6d00 110.5px,#ff1000 111.5px,#c60000 112.5px,#9c0000 113.5px,#8d0000 114.5px,#8b0000 122.5px,#940000 123.5px,#b20000 124.5px,#ee0000 125.5px,#ff3800 126.5px,#ffce00 128.5px,#d9ff26 129.5px,#75ff8a 130.5px,#05fffa 131.5px,#0021ff 133.5px,#0000d5 134.5px,#0000bb 135.5px,#0000d6 136.5px,#002cff 137.5px,#00acff 138.5px,#33ffcc 139.5px,#a8ff57 140.5px,#fff100 141.5px,#ff2a00 143.5px,#cb0000 144.5px,#990000 145.5px,#8c0000 146.5px,#8a0000 227.5px)"></i><i style="top:101px;height:1px;background:linear-gradient(90deg,#8a0000 0.5px,#8b0000 81.5px,#960000 82.5px,#b10000 83.5px,#de0000 84.5px,#ff1700 85.5px,#ff9a00 87.5px,#ffe500 88.5px,#c2ff3d 89.5px,#5effa1 90.5px,#00f2ff 91.5px,#001bff 93.5px,#0000d1 94.5px,#0000b1 95.5px,#0000a8 98.5px,#0000aa 102.5px,#0000b5 103.5px,#0000e0 104.5px,#003fff 105.5px,#00c0ff 106.5px,#48ffb7 107.5px,#c6ff39 108.5px,#ffc400 109.5px,#ff5a00 110.5px,#fc0000 111.5px,#b80000 112.5px,#960000 113.5px,#8a0000 115.5px,#8a0000 122.5px,#910000 123.5px,#ac0000 124.5px,#e60000 125.5px,#ff3100 126.5px,#ffcb00 128.5px,#dbff24 129.5px,#75ff8a 130.5px,#04fffb 131.5px,#001eff 133.5px,#0000d3 134.5px,#0000ba 135.5px,#0000d5 136.5px,#002aff 137.5px,#00a9ff 138.5px,#30ffcf 139.5px,#a7ff58 140.5px,#fff000 141.5px,#ff2a00 143.5px,#cb0000 144.5px,#990000 145.5px,#8c0000 146.5px,#8a0000 227.5px)"></i><i style="top:102px;height:1px;background:linear-gradient(90deg,#8a0000 0.5px,#8a0000 81.5px,#910000 82.5px,#a80000 83.5px,#ff0a00 85.5px,#ff9000 87.5px,#ffdd00 88.5px,#caff35 89.5px,#00f8ff 91.5px,#0021ff 93.5px,#0000d5 94.5px,#0000b2 95.5px,#0000a8 97.5px,#0000ab 102.5px,#0000b9 103.5px,#0000ea 104.5px,#004eff 105.5px,#00d1ff 106.5px,#58ffa7 107.5px,#d6ff29 108.5px,#ffb200 109.5px,#ff4700 110.5px,#ea0000 111.5px,#ac0000 112.5px,#910000 113.5px,#8a0000 117.5px,#8f0000 123.5px,#a70000 124.5px,#df0000 125.5px,#ff2a00 126.5px,#ffc800 128.5px,#ddff22 129.5px,#76ff89 130.5px,#04fffb 131.5px,#001cff 133.5px,#0000d1 134.5px,#0000b9 135.5px,#0000d3 136.5px,#0027ff 137.5px,#00a6ff 138.5px,#2dffd2 139.5px,#a5ff5a 140.5px,#fff000 141.5px,#ff2900 143.5px,#cb0000 144.5px,#990000 145.5px,#8c0000 146.5px,#8a0000 227.5px)"></i><i style="top:103px;height:1px;background:linear-gradient(90deg,#8a0000 0.5px,#8e0000 82.5px,#a00000 83.5px,#c60000 84.5px,#fc0000 85.5px,#ff8500 87.5px,#ffd300 88.5px,#d2ff2d 89.5px,#00feff 91.5px,#0026ff 93.5px,#0000d9 94.5px,#0000b4 95.5px,#0000a8 97.5px,#0000ab 102.5px,#0000bd 103.5px,#0000f4 104.5px,#005dff 105.5px,#00e0ff 106.5px,#68ff97 107.5px,#e7ff18 108.5px,#ffa000 109.5px,#ff3300 110.5px,#da0000 111.5px,#a30000 112.5px,#8e0000 113.5px,#8e0000 123.5px,#a40000 124.5px,#d80000 125.5px,#ff2400 126.5px,#ffc500 128.5px,#deff21 129.5px,#77ff88 130.5px,#04fffb 131.5px,#0019ff 133.5px,#0000ce 134.5px,#0000b7 135.5px,#0000d2 136.5px,#0025ff 137.5px,#00a2ff 138.5px,#2affd5 139.5px,#a4ff5b 140.5px,#fff000 141.5px,#ff2800 143.5px,#cb0000 144.5px,#990000 145.5px,#8c0000 146.5px,#8a0000 227.5px)"></i><i style="top:104px;height:1px;background:linear-gradient(90deg,#8a0000 0.5px,#8c0000 82.5px,#9a0000 83.5px,#bc0000 84.5px,#f00000 85.5px,#ff3200 86.5px,#ffc900 88.5px,#dbff24 89.5px,#06fff9 91.5px,#002cff 93.5px,#0000dd 94.5px,#0000b6 95.5px,#0000a8 97.5px,#0000ac 102.5px,#0000c1 103.5px,#0000fe 104.5px,#006bff 105.5px,#00efff 106.5px,#76ff89 107.5px,#f7ff08 108.5px,#ff1f00 110.5px,#ca0000 111.5px,#9c0000 112.5px,#8d0000 113.5px,#8d0000 123.5px,#a00000 124.5px,#d20000 125.5px,#ff1d00 126.5px,#ffc200 128.5px,#e0ff1f 129.5px,#77ff88 130.5px,#03fffc 131.5px,#0017ff 133.5px,#0000cc 134.5px,#0000b6 135.5px,#0000d0 136.5px,#0022ff 137.5px,#009fff 138.5px,#27ffd8 139.5px,#a3ff5c 140.5px,#ffef00 141.5px,#ff2800 143.5px,#cb0000 144.5px,#990000 145.5px,#8c0000 146.5px,#8a0000 227.5px)"></i><i style="top:105px;height:1px;background:linear-gradient(90deg,#8a0000 0.5px,#8b0000 82.5px,#950000 83.5px,#b20000 84.5px,#e40000 85.5px,#ff2500 86.5px,#ffbf00 88.5px,#e4ff1b 89.5px,#0dfff2 91.5px,#009cff 92.5px,#0032ff 93.5px,#0000e1 94.5px,#0000b7 95.5px,#0000aa 96.5px,#0000ad 102.5px,#0000c4 103.5px,#0007ff 104.5px,#0077ff 105.5px,#00fdff 106.5px,#84ff7b 107.5px,#fff700 108.5px,#ff7b00 109.5px,#ff0c00 110.5px,#bc0000 111.5px,#960000 112.5px,#8a0000 114.5px,#8d0000 123.5px,#9d0000 124.5px,#cb0000 125.5px,#ff1600 126.5px,#ffbf00 128.5px,#e2ff1d 129.5px,#78ff87 130.5px,#03fffc 131.5px,#0015ff 133.5px,#0000cb 134.5px,#0000b5 135.5px,#0000ce 136.5px,#001fff 137.5px,#009bff 138.5px,#23ffdc 139.5px,#a1ff5e 140.5px,#ffef00 141.5px,#ff2700 143.5px,#cb0000 144.5px,#990000 145.5px,#8c0000 146.5px,#8a0000 227.5px)"></i><i style="top:106px;height:1px;background:linear-gradient(90deg,#8a0000 0.5px,#8a0000 82.5px,#920000 83.5px,#a90000 84.5px,#d80000 85.5px,#ff1800 86.5px,#ffb400 88.5px,#eeff11 89.5px,#15ffea 91.5px,#00a2ff 92.5px,#0038ff 93.5px,#0000e5 94.5px,#0000b9 95.5px,#0000ab 96.5px,#0000ad 102.5px,#0000c7 103.5px,#000fff 104.5px,#0afff5 106.5px,#92ff6d 107.5px,#ffe800 108.5px,#ff6900 109.5px,#fb0000 110.5px,#b10000 111.5px,#910000 112.5px,#8a0000 115.5px,#8c0000 123.5px,#9a0000 124.5px,#c50000 125.5px,#ff0f00 126.5px,#ffbc00 128.5px,#e3ff1c 129.5px,#79ff86 130.5px,#03fffc 131.5px,#0014ff 133.5px,#0000ca 134.5px,#0000b4 135.5px,#0000cd 136.5px,#001cff 137.5px,#0097ff 138.5px,#20ffdf 139.5px,#9fff60 140.5px,#ffef00 141.5px,#ff2600 143.5px,#ca0000 144.5px,#990000 145.5px,#8c0000 146.5px,#8a0000 227.5px)"></i><i style="top:107px;height:1px;background:linear-gradient(90deg,#8a0000 0.5px,#8e0000 83.5px,#a20000 84.5px,#cc0000 85.5px,#ff0b00 86.5px,#ffa900 88.5px,#f8ff07 89.5px,#1dffe2 91.5px,#00a9ff 92.5px,#003fff 93.5px,#0000e9 94.5px,#0000bb 95.5px,#0000ab 96.5px,#0000ae 102.5px,#0000ca 103.5px,#0016ff 104.5px,#008cff 105.5px,#15ffea 106.5px,#9eff61 107.5px,#ffd900 108.5px,#ff5900 109.5px,#ed0000 110.5px,#a90000 111.5px,#8f0000 112.5px,#8b0000 123.5px,#970000 124.5px,#be0000 125.5px,#ff0800 126.5px,#ffb900 128.5px,#e5ff1a 129.5px,#7aff85 130.5px,#03fffc 131.5px,#0013ff 133.5px,#0000c9 134.5px,#0000b3 135.5px,#0000cb 136.5px,#0019ff 137.5px,#0093ff 138.5px,#1bffe4 139.5px,#9cff63 140.5px,#fff000 141.5px,#ff2600 143.5px,#ca0000 144.5px,#990000 145.5px,#8c0000 146.5px,#8a0000 227.5px)"></i><i style="top:108px;height:1px;background:linear-gradient(90deg,#8a0000 0.5px,#8d0000 83.5px,#9c0000 84.5px,#c30000 85.5px,#ff0000 86.5px,#ff4a00 87.5px,#ff9e00 88.5px,#fffc00 89.5px,#97ff68 90.5px,#25ffda 91.5px,#00b1ff 92.5px,#0045ff 93.5px,#0000ee 94.5px,#0000bc 95.5px,#0000ab 96.5px,#0000a9 101.5px,#0000ae 102.5px,#0000cc 103.5px,#001cff 104.5px,#0094ff 105.5px,#1effe1 106.5px,#a9ff56 107.5px,#ffcc00 108.5px,#ff4b00 109.5px,#e20000 110.5px,#a40000 111.5px,#8e0000 112.5px,#8b0000 123.5px,#940000 124.5px,#b80000 125.5px,#ff0100 126.5px,#ffb500 128.5px,#e8ff17 129.5px,#7bff84 130.5px,#03fffc 131.5px,#0012ff 133.5px,#0000c9 134.5px,#0000b3 135.5px,#0000ca 136.5px,#0016ff 137.5px,#008eff 138.5px,#16ffe9 139.5px,#99ff66 140.5px,#fff000 141.5px,#ff2600 143.5px,#ca0000 144.5px,#990000 145.5px,#8c0000 146.5px,#8a0000 227.5px)"></i><i style="top:109px;height:1px;background:linear-gradient(90deg,#8a0000 0.5px,#8c0000 83.5px,#980000 84.5px,#bb0000 85.5px,#f40000 86.5px,#ff3e00 87.5px,#ff9200 88.5px,#fff100 89.5px,#a1ff5e 90.5px,#2dffd2 91.5px,#00b8ff 92.5px,#004bff 93.5px,#0000f1 94.5px,#0000be 95.5px,#0000ac 96.5px,#0000a9 101.5px,#0000af 102.5px,#0000ce 103.5px,#0021ff 104.5px,#009bff 105.5px,#27ffd8 106.5px,#b3ff4c 107.5px,#ffc000 108.5px,#ff3f00 109.5px,#d80000 110.5px,#a00000 111.5px,#8d0000 112.5px,#8a0000 123.5px,#920000 124.5px,#b30000 125.5px,#fa0000 126.5px,#ffb100 128.5px,#eaff15 129.5px,#7cff83 130.5px,#03fffc 131.5px,#0083ff 132.5px,#0012ff 133.5px,#0000c9 134.5px,#0000b3 135.5px,#0000c9 136.5px,#0013ff 137.5px,#0088ff 138.5px,#10ffef 139.5px,#95ff6a 140.5px,#fff200 141.5px,#ff2500 143.5px,#ca0000 144.5px,#990000 145.5px,#8c0000 146.5px,#8a0000 227.5px)"></i><i style="top:110px;height:1px;background:linear-gradient(90deg,#8a0000 0.5px,#8b0000 83.5px,#950000 84.5px,#b30000 85.5px,#e90000 86.5px,#ff3200 87.5px,#ff8700 88.5px,#ffe600 89.5px,#abff54 90.5px,#37ffc8 91.5px,#00c0ff 92.5px,#0051ff 93.5px,#0000f5 94.5px,#0000bf 95.5px,#0000ac 96.5px,#0000a9 101.5px,#0000af 102.5px,#0000d0 103.5px,#0025ff 104.5px,#00a1ff 105.5px,#2effd1 106.5px,#bcff43 107.5px,#ffb500 108.5px,#ff3400 109.5px,#d00000 110.5px,#9d0000 111.5px,#8c0000 112.5px,#8a0000 123.5px,#900000 124.5px,#af0000 125.5px,#f40000 126.5px,#ff4e00 127.5px,#ffad00 128.5px,#edff12 129.5px,#7eff81 130.5px,#04fffb 131.5px,#0012ff 133.5px,#0000c9 134.5px,#0000b2 135.5px,#0000c7 136.5px,#000eff 137.5px,#007fff 138.5px,#07fff8 139.5px,#8fff70 140.5px,#fff500 141.5px,#ff2600 143.5px,#ca0000 144.5px,#990000 145.5px,#8c0000 146.5px,#8a0000 227.5px)"></i><i style="top:111px;height:1px;background:linear-gradient(90deg,#8a0000 0.5px,#8a0000 83.5px,#920000 84.5px,#ab0000 85.5px,#de0000 86.5px,#ff2600 87.5px,#ff7b00 88.5px,#ffdb00 89.5px,#b7ff48 90.5px,#41ffbe 91.5px,#00c9ff 92.5px,#0057ff 93.5px,#0000f9 94.5px,#0000c1 95.5px,#0000ac 96.5px,#0000a9 101.5px,#0000af 102.5px,#0000d2 103.5px,#0028ff 104.5px,#00a6ff 105.5px,#34ffcb 106.5px,#c5ff3a 107.5px,#ffab00 108.5px,#ff2a00 109.5px,#c90000 110.5px,#9a0000 111.5px,#8c0000 112.5px,#8a0000 123.5px,#900000 124.5px,#ac0000 125.5px,#ee0000 126.5px,#ff4800 127.5px,#ffa800 128.5px,#f0ff0f 129.5px,#80ff7f 130.5px,#06fff9 131.5px,#0012ff 133.5px,#0000c9 134.5px,#0000b2 135.5px,#0000c4 136.5px,#0006ff 137.5px,#0072ff 138.5px,#00f8ff 139.5px,#84ff7b 140.5px,#fffc00 141.5px,#ff2700 143.5px,#cb0000 144.5px,#990000 145.5px,#8c0000 146.5px,#8a0000 227.5px)"></i><i style="top:112px;height:1px;background:linear-gradient(90deg,#8a0000 0.5px,#8a0000 83.5px,#8f0000 84.5px,#a40000 85.5px,#d40000 86.5px,#ff1a00 87.5px,#ff6e00 88.5px,#ffce00 89.5px,#c4ff3b 90.5px,#4dffb2 91.5px,#00d3ff 92.5px,#005fff 93.5px,#0000fd 94.5px,#0000c2 95.5px,#0000ac 96.5px,#0000a9 101.5px,#0000b0 102.5px,#0000d3 103.5px,#002cff 104.5px,#00abff 105.5px,#3bffc4 106.5px,#cdff32 107.5px,#ffa200 108.5px,#ff2100 109.5px,#c30000 110.5px,#970000 111.5px,#8a0000 113.5px,#8f0000 124.5px,#a90000 125.5px,#e90000 126.5px,#ff4200 127.5px,#ffa300 128.5px,#f4ff0b 129.5px,#83ff7c 130.5px,#07fff8 131.5px,#0012ff 133.5px,#0000c9 134.5px,#0000b1 135.5px,#0000c0 136.5px,#0000f9 137.5px,#0061ff 138.5px,#00e5ff 139.5px,#74ff8b 140.5px,#f7ff08 141.5px,#ff2a00 143.5px,#cb0000 144.5px,#990000 145.5px,#8c0000 146.5px,#8a0000 227.5px)"></i><i style="top:113px;height:1px;background:linear-gradient(90deg,#8a0000 0.5px,#8d0000 84.5px,#9f0000 85.5px,#cb0000 86.5px,#ff0e00 87.5px,#ff6100 88.5px,#ffc100 89.5px,#d2ff2d 90.5px,#5bffa4 91.5px,#00deff 92.5px,#0067ff 93.5px,#0003ff 94.5px,#0000c4 95.5px,#0000ad 96.5px,#0000a9 101.5px,#0000b0 102.5px,#0000d4 103.5px,#002fff 104.5px,#00b0ff 105.5px,#42ffbd 106.5px,#d6ff29 107.5px,#ff9800 108.5px,#ff1800 109.5px,#bc0000 110.5px,#940000 111.5px,#8a0000 113.5px,#8f0000 124.5px,#a70000 125.5px,#e30000 126.5px,#ff3b00 127.5px,#f8ff07 129.5px,#86ff79 130.5px,#0afff5 131.5px,#0013ff 133.5px,#0000c9 134.5px,#0000b0 135.5px,#0000ba 136.5px,#0000eb 137.5px,#004cff 138.5px,#00ceff 139.5px,#5effa1 140.5px,#e8ff17 141.5px,#ff9e00 142.5px,#ff2d00 143.5px,#cc0000 144.5px,#990000 145.5px,#8c0000 146.5px,#8a0000 227.5px)"></i><i style="top:114px;height:1px;background:linear-gradient(90deg,#8a0000 0.5px,#8c0000 84.5px,#9b0000 85.5px,#c30000 86.5px,#ff0300 87.5px,#ff5500 88.5px,#ffb300 89.5px,#e1ff1e 90.5px,#69ff96 91.5px,#00ebff 92.5px,#0070ff 93.5px,#0008ff 94.5px,#0000c5 95.5px,#0000ad 96.5px,#0000a9 101.5px,#0000b0 102.5px,#0000d6 103.5px,#0032ff 104.5px,#00b5ff 105.5px,#48ffb7 106.5px,#deff21 107.5px,#ff8f00 108.5px,#ff0f00 109.5px,#b70000 110.5px,#920000 111.5px,#8a0000 114.5px,#8e0000 124.5px,#a50000 125.5px,#de0000 126.5px,#ff3400 127.5px,#fdff02 129.5px,#0dfff2 131.5px,#0088ff 132.5px,#0013ff 133.5px,#0000c9 134.5px,#0000af 135.5px,#0000b5 136.5px,#0000dc 137.5px,#0033ff 138.5px,#00b2ff 139.5px,#44ffbb 140.5px,#d3ff2c 141.5px,#ffaa00 142.5px,#ff3100 143.5px,#cc0000 144.5px,#990000 145.5px,#8c0000 146.5px,#8a0000 227.5px)"></i><i style="top:115px;height:1px;background:linear-gradient(90deg,#8a0000 0.5px,#8c0000 84.5px,#980000 85.5px,#bb0000 86.5px,#f80000 87.5px,#ff4900 88.5px,#ffa500 89.5px,#efff10 90.5px,#00f9ff 92.5px,#007aff 93.5px,#000dff 94.5px,#0000c7 95.5px,#0000ad 96.5px,#0000a9 101.5px,#0000b0 102.5px,#0000d7 103.5px,#0035ff 104.5px,#00baff 105.5px,#4fffb0 106.5px,#e7ff18 107.5px,#ff8700 108.5px,#ff0900 109.5px,#b30000 110.5px,#910000 111.5px,#8a0000 115.5px,#8e0000 124.5px,#a30000 125.5px,#d90000 126.5px,#ff2e00 127.5px,#fffc00 129.5px,#8eff71 130.5px,#10ffef 131.5px,#008aff 132.5px,#0014ff 133.5px,#0000c9 134.5px,#0000ae 135.5px,#0000b0 136.5px,#0000ce 137.5px,#001bff 138.5px,#0094ff 139.5px,#26ffd9 140.5px,#baff45 141.5px,#ffb900 142.5px,#ff3700 143.5px,#cd0000 144.5px,#990000 145.5px,#8c0000 146.5px,#8a0000 227.5px)"></i><i style="top:116px;height:1px;background:linear-gradient(90deg,#8a0000 0.5px,#8b0000 84.5px,#950000 85.5px,#b40000 86.5px,#ee0000 87.5px,#ff3d00 88.5px,#ff9800 89.5px,#feff01 90.5px,#88ff77 91.5px,#08fff7 92.5px,#0013ff 94.5px,#0000c9 95.5px,#0000ae 96.5px,#0000a9 101.5px,#0000b0 102.5px,#0000d8 103.5px,#0038ff 104.5px,#00beff 105.5px,#55ffaa 106.5px,#eeff11 107.5px,#ff7f00 108.5px,#ff0300 109.5px,#b00000 110.5px,#900000 111.5px,#8a0000 117.5px,#8d0000 124.5px,#a10000 125.5px,#d40000 126.5px,#ff2700 127.5px,#fff700 129.5px,#92ff6d 130.5px,#13ffec 131.5px,#008dff 132.5px,#0015ff 133.5px,#0000c9 134.5px,#0000ae 135.5px,#0000ad 136.5px,#0000c4 137.5px,#0005ff 138.5px,#0075ff 139.5px,#05fffa 140.5px,#9eff61 141.5px,#ffca00 142.5px,#ff3d00 143.5px,#ce0000 144.5px,#990000 145.5px,#8c0000 146.5px,#8a0000 227.5px)"></i><i style="top:117px;height:1px;background:linear-gradient(90deg,#8a0000 0.5px,#8a0000 84.5px,#920000 85.5px,#ad0000 86.5px,#e40000 87.5px,#ff3100 88.5px,#ff8b00 89.5px,#fff200 90.5px,#97ff68 91.5px,#16ffe9 92.5px,#0090ff 93.5px,#0019ff 94.5px,#0000cc 95.5px,#0000af 96.5px,#0000a9 101.5px,#0000b1 102.5px,#0000d9 103.5px,#003aff 104.5px,#00c2ff 105.5px,#5bffa4 106.5px,#f6ff09 107.5px,#ff7700 108.5px,#fd0000 109.5px,#ae0000 110.5px,#900000 111.5px,#8a0000 120.5px,#8d0000 124.5px,#9f0000 125.5px,#d00000 126.5px,#ff2100 127.5px,#fff200 129.5px,#96ff69 130.5px,#17ffe8 131.5px,#008fff 132.5px,#0016ff 133.5px,#0000c9 134.5px,#0000ae 135.5px,#0000ab 136.5px,#0000bc 137.5px,#0000f0 138.5px,#0058ff 139.5px,#00e4ff 140.5px,#82ff7d 141.5px,#ffdc00 142.5px,#ff4300 143.5px,#d00000 144.5px,#990000 145.5px,#8c0000 146.5px,#8a0000 227.5px)"></i><i style="top:118px;height:1px;background:linear-gradient(90deg,#8a0000 0.5px,#8a0000 84.5px,#900000 85.5px,#a70000 86.5px,#db0000 87.5px,#ff2700 88.5px,#ff7f00 89.5px,#ffe500 90.5px,#a6ff59 91.5px,#25ffda 92.5px,#009cff 93.5px,#0021ff 94.5px,#0000d0 95.5px,#0000b0 96.5px,#0000a8 99.5px,#0000a9 101.5px,#0000b1 102.5px,#0000da 103.5px,#003cff 104.5px,#00c5ff 105.5px,#60ff9f 106.5px,#fcff03 107.5px,#ff7100 108.5px,#f90000 109.5px,#ac0000 110.5px,#8f0000 111.5px,#8a0000 123.5px,#8d0000 124.5px,#9e0000 125.5px,#cc0000 126.5px,#ff1b00 127.5px,#ff7f00 128.5px,#ffee00 129.5px,#9aff65 130.5px,#1affe5 131.5px,#0091ff 132.5px,#0017ff 133.5px,#0000c9 134.5px,#0000ae 135.5px,#0000aa 136.5px,#0000b5 137.5px,#0000de 138.5px,#003bff 139.5px,#00c4ff 140.5px,#66ff99 141.5px,#ffee00 142.5px,#ff4a00 143.5px,#d10000 144.5px,#9a0000 145.5px,#8c0000 146.5px,#8a0000 227.5px)"></i><i style="top:119px;height:1px;background:linear-gradient(90deg,#8a0000 0.5px,#8e0000 85.5px,#a30000 86.5px,#d30000 87.5px,#ff1d00 88.5px,#ff7400 89.5px,#ffd800 90.5px,#b4ff4b 91.5px,#34ffcb 92.5px,#00a9ff 93.5px,#002aff 94.5px,#0000d5 95.5px,#0000b2 96.5px,#0000a8 98.5px,#0000a9 101.5px,#0000b1 102.5px,#0000db 103.5px,#003eff 104.5px,#00c9ff 105.5px,#65ff9a 106.5px,#fffc00 107.5px,#ff6c00 108.5px,#f50000 109.5px,#ab0000 110.5px,#8f0000 111.5px,#8a0000 123.5px,#8d0000 124.5px,#9c0000 125.5px,#c80000 126.5px,#ff1500 127.5px,#ff7900 128.5px,#ffe900 129.5px,#9eff61 130.5px,#1dffe2 131.5px,#0093ff 132.5px,#0018ff 133.5px,#0000c9 134.5px,#0000ae 135.5px,#0000a9 136.5px,#0000b0 137.5px,#0000d0 138.5px,#0022ff 139.5px,#00a6ff 140.5px,#4affb5 141.5px,#fdff02 142.5px,#ff5200 143.5px,#d20000 144.5px,#9a0000 145.5px,#8c0000 146.5px,#8a0000 227.5px)"></i><i style="top:120px;height:1px;background:linear-gradient(90deg,#8a0000 0.5px,#8d0000 85.5px,#9f0000 86.5px,#cd0000 87.5px,#ff1300 88.5px,#ff6a00 89.5px,#ffcd00 90.5px,#c1ff3e 91.5px,#42ffbd 92.5px,#00b6ff 93.5px,#0033ff 94.5px,#0000d9 95.5px,#0000b3 96.5px,#0000a8 98.5px,#0000a9 101.5px,#0000b1 102.5px,#0000db 103.5px,#0040ff 104.5px,#00cbff 105.5px,#69ff96 106.5px,#fff700 107.5px,#ff6700 108.5px,#f10000 109.5px,#aa0000 110.5px,#8f0000 111.5px,#8c0000 124.5px,#9b0000 125.5px,#c50000 126.5px,#ff1100 127.5px,#ff7500 128.5px,#ffe500 129.5px,#a1ff5e 130.5px,#20ffdf 131.5px,#0095ff 132.5px,#0018ff 133.5px,#0000ca 134.5px,#0000ae 135.5px,#0000ad 137.5px,#0000c7 138.5px,#0010ff 139.5px,#008dff 140.5px,#31ffce 141.5px,#edff12 142.5px,#ff5800 143.5px,#d30000 144.5px,#9a0000 145.5px,#8c0000 146.5px,#8a0000 227.5px)"></i><i style="top:121px;height:1px;background:linear-gradient(90deg,#8a0000 0.5px,#8d0000 85.5px,#9d0000 86.5px,#c70000 87.5px,#ff0b00 88.5px,#ff6000 89.5px,#ffc200 90.5px,#ceff31 91.5px,#4fffb0 92.5px,#00c2ff 93.5px,#003cff 94.5px,#0000de 95.5px,#0000b5 96.5px,#0000a8 98.5px,#0000a9 101.5px,#0000b1 102.5px,#0000dc 103.5px,#0041ff 104.5px,#00cdff 105.5px,#6cff93 106.5px,#fff300 107.5px,#ff6300 108.5px,#ef0000 109.5px,#a90000 110.5px,#8f0000 111.5px,#8c0000 124.5px,#9a0000 125.5px,#c30000 126.5px,#ff0d00 127.5px,#ff7100 128.5px,#ffe200 129.5px,#a4ff5b 130.5px,#22ffdd 131.5px,#0097ff 132.5px,#0019ff 133.5px,#0000ca 134.5px,#0000ae 135.5px,#0000ac 137.5px,#0000c1 138.5px,#0002ff 139.5px,#0079ff 140.5px,#1effe1 141.5px,#e1ff1e 142.5px,#ff5c00 143.5px,#d40000 144.5px,#9a0000 145.5px,#8c0000 146.5px,#8a0000 227.5px)"></i><i style="top:122px;height:1px;background:linear-gradient(90deg,#8a0000 0.5px,#8c0000 85.5px,#9b0000 86.5px,#c20000 87.5px,#ff0400 88.5px,#ff5800 89.5px,#ffb800 90.5px,#d9ff26 91.5px,#5cffa3 92.5px,#00ceff 93.5px,#0045ff 94.5px,#0000e3 95.5px,#0000b7 96.5px,#0000aa 97.5px,#0000a9 101.5px,#0000b1 102.5px,#0000dc 103.5px,#0042ff 104.5px,#00cfff 105.5px,#6eff91 106.5px,#fff100 107.5px,#ff6100 108.5px,#ed0000 109.5px,#a80000 110.5px,#8f0000 111.5px,#8c0000 124.5px,#9a0000 125.5px,#c20000 126.5px,#ff0b00 127.5px,#ff6f00 128.5px,#ffe000 129.5px,#a6ff59 130.5px,#24ffdb 131.5px,#0098ff 132.5px,#0019ff 133.5px,#0000ca 134.5px,#0000ae 135.5px,#0000ab 137.5px,#0000be 138.5px,#0000f8 139.5px,#006bff 140.5px,#12ffed 141.5px,#daff25 142.5px,#ff5e00 143.5px,#d40000 144.5px,#9a0000 145.5px,#8c0000 146.5px,#8a0000 227.5px)"></i><i style="top:123px;height:1px;background:linear-gradient(90deg,#8a0000 0.5px,#8c0000 85.5px,#990000 86.5px,#be0000 87.5px,#fd0000 88.5px,#ff5100 89.5px,#ffb000 90.5px,#e3ff1c 91.5px,#67ff98 92.5px,#00daff 93.5px,#004eff 94.5px,#0000e8 95.5px,#0000b8 96.5px,#0000aa 97.5px,#0000a9 101.5px,#0000b1 102.5px,#0000dc 103.5px,#0042ff 104.5px,#00d0ff 105.5px,#6fff90 106.5px,#ffef00 107.5px,#ff5f00 108.5px,#ec0000 109.5px,#a70000 110.5px,#8e0000 111.5px,#8c0000 124.5px,#9a0000 125.5px,#c10000 126.5px,#ff0a00 127.5px,#ff6d00 128.5px,#ffdf00 129.5px,#a7ff58 130.5px,#25ffda 131.5px,#0098ff 132.5px,#001aff 133.5px,#0000ca 134.5px,#0000ae 135.5px,#0000ab 137.5px,#0000bc 138.5px,#0000f2 139.5px,#0063ff 140.5px,#0bfff4 141.5px,#d7ff28 142.5px,#ff5f00 143.5px,#d40000 144.5px,#9a0000 145.5px,#8c0000 146.5px,#8a0000 227.5px)"></i><i style="top:124px;height:1px;background:linear-gradient(90deg,#8a0000 0.5px,#8b0000 85.5px,#980000 86.5px,#ba0000 87.5px,#f80000 88.5px,#ff4b00 89.5px,#ffa900 90.5px,#ebff14 91.5px,#70ff8f 92.5px,#00e4ff 93.5px,#0057ff 94.5px,#0000ed 95.5px,#0000ba 96.5px,#0000ab 97.5px,#0000a9 101.5px,#0000b1 102.5px,#0000dc 103.5px,#0043ff 104.5px,#00d0ff 105.5px,#70ff8f 106.5px,#ffef00 107.5px,#ff5f00 108.5px,#ec0000 109.5px,#a70000 110.5px,#8e0000 111.5px,#8c0000 124.5px,#9a0000 125.5px,#c00000 126.5px,#ff0900 127.5px,#ff6d00 128.5px,#ffde00 129.5px,#a7ff58 130.5px,#25ffda 131.5px,#0099ff 132.5px,#001aff 133.5px,#0000ca 134.5px,#0000ae 135.5px,#0000ab 137.5px,#0000bb 138.5px,#0000f0 139.5px,#0060ff 140.5px,#08fff7 141.5px,#d6ff29 142.5px,#ff5f00 143.5px,#d50000 144.5px,#9a0000 145.5px,#8c0000 146.5px,#8a0000 227.5px)"></i><i style="top:125px;height:1px;background:linear-gradient(90deg,#8a0000 0.5px,#8b0000 85.5px,#960000 86.5px,#b70000 87.5px,#f40000 88.5px,#ff4500 89.5px,#ffa200 90.5px,#f2ff0d 91.5px,#79ff86 92.5px,#00edff 93.5px,#005eff 94.5px,#0000f1 95.5px,#0000bb 96.5px,#0000ab 97.5px,#0000a9 101.5px,#0000b1 102.5px,#0000dc 103.5px,#0043ff 104.5px,#00d0ff 105.5px,#70ff8f 106.5px,#ffef00 107.5px,#ff5f00 108.5px,#ec0000 109.5px,#a70000 110.5px,#8e0000 111.5px,#8c0000 124.5px,#990000 125.5px,#c00000 126.5px,#ff0900 127.5px,#ff6d00 128.5px,#ffde00 129.5px,#a7ff58 130.5px,#26ffd9 131.5px,#0099ff 132.5px,#001aff 133.5px,#0000ca 134.5px,#0000ae 135.5px,#0000ab 137.5px,#0000bb 138.5px,#0000f0 139.5px,#005fff 140.5px,#08fff7 141.5px,#d6ff29 142.5px,#ff5f00 143.5px,#d50000 144.5px,#9a0000 145.5px,#8c0000 146.5px,#8a0000 227.5px)"></i><i style="top:126px;height:1px;background:linear-gradient(90deg,#8a0000 0.5px,#8b0000 85.5px,#950000 86.5px,#b40000 87.5px,#ef0000 88.5px,#ff4000 89.5px,#f9ff06 91.5px,#80ff7f 92.5px,#00f5ff 93.5px,#0066ff 94.5px,#0000f6 95.5px,#0000bd 96.5px,#0000ab 97.5px,#0000a9 101.5px,#0000b1 102.5px,#0000dc 103.5px,#0043ff 104.5px,#00d0ff 105.5px,#70ff8f 106.5px,#ffef00 107.5px,#ff5f00 108.5px,#ec0000 109.5px,#a70000 110.5px,#8e0000 111.5px,#8c0000 124.5px,#990000 125.5px,#c00000 126.5px,#ff0900 127.5px,#ff6d00 128.5px,#ffde00 129.5px,#a7ff58 130.5px,#26ffd9 131.5px,#0099ff 132.5px,#001aff 133.5px,#0000ca 134.5px,#0000ae 135.5px,#0000ab 137.5px,#0000ba 138.5px,#0000f0 139.5px,#005fff 140.5px,#08fff7 141.5px,#d6ff29 142.5px,#ff5f00 143.5px,#d50000 144.5px,#9a0000 145.5px,#8c0000 146.5px,#8a0000 227.5px)"></i><i style="top:127px;height:1px;background:linear-gradient(90deg,#8a0000 0.5px,#8b0000 85.5px,#940000 86.5px,#b20000 87.5px,#ec0000 88.5px,#ff3c00 89.5px,#ff9800 90.5px,#feff01 91.5px,#86ff79 92.5px,#00fcff 93.5px,#006cff 94.5px,#0000fa 95.5px,#0000be 96.5px,#0000ac 97.5px,#0000a9 101.5px,#0000b1 102.5px,#0000dc 103.5px,#0043ff 104.5px,#00d0ff 105.5px,#70ff8f 106.5px,#ffef00 107.5px,#ff5f00 108.5px,#ec0000 109.5px,#a70000 110.5px,#8e0000 111.5px,#8c0000 124.5px,#990000 125.5px,#c00000 126.5px,#ff0900 127.5px,#ff6d00 128.5px,#ffde00 129.5px,#a7ff58 130.5px,#26ffd9 131.5px,#0099ff 132.5px,#001aff 133.5px,#0000ca 134.5px,#0000ae 135.5px,#0000ab 137.5px,#0000ba 138.5px,#0000f0 139.5px,#005fff 140.5px,#08fff7 141.5px,#d6ff29 142.5px,#ff5f00 143.5px,#d50000 144.5px,#9a0000 145.5px,#8c0000 146.5px,#8a0000 227.5px)"></i><i style="top:128px;height:1px;background:linear-gradient(90deg,#8a0000 0.5px,#8a0000 85.5px,#930000 86.5px,#b00000 87.5px,#e90000 88.5px,#ff3800 89.5px,#ff9300 90.5px,#fffb00 91.5px,#8bff74 92.5px,#03fffc 93.5px,#0072ff 94.5px,#0000fe 95.5px,#0000c0 96.5px,#0000ac 97.5px,#0000a9 101.5px,#0000b1 102.5px,#0000dc 103.5px,#0043ff 104.5px,#00d0ff 105.5px,#70ff8f 106.5px,#ffef00 107.5px,#ff5f00 108.5px,#ec0000 109.5px,#a70000 110.5px,#8e0000 111.5px,#8c0000 124.5px,#990000 125.5px,#c00000 126.5px,#ff0900 127.5px,#ff6d00 128.5px,#ffde00 129.5px,#a7ff58 130.5px,#26ffd9 131.5px,#0099ff 132.5px,#001aff 133.5px,#0000ca 134.5px,#0000ae 135.5px,#0000ab 137.5px,#0000ba 138.5px,#0000f0 139.5px,#005fff 140.5px,#08fff7 141.5px,#d6ff29 142.5px,#ff5f00 143.5px,#d50000 144.5px,#9a0000 145.5px,#8c0000 146.5px,#8a0000 227.5px)"></i><i style="top:129px;height:1px;background:linear-gradient(90deg,#8a0000 0.5px,#8a0000 85.5px,#930000 86.5px,#ae0000 87.5px,#e70000 88.5px,#ff3600 89.5px,#ff9100 90.5px,#fff800 91.5px,#8fff70 92.5px,#07fff8 93.5px,#0076ff 94.5px,#0001ff 95.5px,#0000c1 96.5px,#0000ac 97.5px,#0000a9 101.5px,#0000b1 102.5px,#0000dc 103.5px,#0043ff 104.5px,#00d0ff 105.5px,#70ff8f 106.5px,#ffef00 107.5px,#ff5f00 108.5px,#ec0000 109.5px,#a70000 110.5px,#8e0000 111.5px,#8c0000 124.5px,#990000 125.5px,#c00000 126.5px,#ff0900 127.5px,#ff6d00 128.5px,#ffde00 129.5px,#a7ff58 130.5px,#26ffd9 131.5px,#0099ff 132.5px,#001aff 133.5px,#0000ca 134.5px,#0000ae 135.5px,#0000ab 137.5px,#0000ba 138.5px,#0000f0 139.5px,#005fff 140.5px,#08fff7 141.5px,#d6ff29 142.5px,#ff5f00 143.5px,#d50000 144.5px,#9a0000 145.5px,#8c0000 146.5px,#8a0000 227.5px)"></i></div>
<div id="cb"></div>
<div class="ty" style="top:2.52px;left:32.30px">90</div>
<div class="ty" style="top:150.92px;left:32.30px">90</div>
<div class="ty" style="top:14.82px;left:32.30px">80</div>
<div class="ty" style="top:163.22px;left:32.30px">80</div>
<div class="ty" style="top:28.02px;left:32.30px">70</div>
<div class="ty" style="top:176.42px;left:32.30px">70</div>
<div class="ty" style="top:40.62px;left:32.30px">60</div>
<div class="ty" style="top:189.02px;left:32.30px">60</div>
<div class="ty" style="top:53.02px;left:32.30px">50</div>
<div class="ty" style="top:201.42px;left:32.30px">50</div>
<div class="ty" style="top:65.72px;left:32.30px">40</div>
<div class="ty" style="top:214.12px;left:32.30px">40</div>
<div class="ty" style="top:78.42px;left:32.30px">30</div>
<div class="ty" style="top:226.82px;left:32.30px">30</div>
<div class="ty" style="top:92.12px;left:32.30px">20</div>
<div class="ty" style="top:240.52px;left:32.30px">20</div>
<div class="ty" style="top:107.72px;left:32.30px">10</div>
<div class="ty" style="top:256.12px;left:32.30px">10</div>
<div class="ty" style="top:121.52px;left:32.30px">0</div>
<div class="ty" style="top:269.92px;left:32.30px">0</div>
<div class="tx" style="top:134.72px;left:55.00px">0.2</div>
<div class="tx" style="top:283.42px;left:55.00px">0.2</div>
<div class="tx" style="top:134.72px;left:94.50px">0.4</div>
<div class="tx" style="top:283.42px;left:94.50px">0.4</div>
<div class="tx" style="top:134.72px;left:143.00px">0.6</div>
<div class="tx" style="top:283.42px;left:143.00px">0.6</div>
<div class="tx" style="top:134.72px;left:186.80px">0.8</div>
<div class="tx" style="top:283.42px;left:186.80px">0.8</div>
<div class="tx" style="top:134.72px;left:231.20px">1.0</div>
<div class="tx" style="top:283.42px;left:231.20px">1.0</div>
<div class="tx" style="top:134.72px;left:270.40px">1.2</div>
<div class="tx" style="top:283.42px;left:270.40px">1.2</div>
<div class="cl" style="top:40.20px;left:332.40px">0.8</div>
<div class="cl" style="top:94.40px;left:333.60px">0.6</div>
<div class="cl" style="top:156.40px;left:333.60px">0.4</div>
<div class="cl" style="top:204.40px;left:335.30px">0.2</div>
<div class="t s" style="left:175px;top:4.9px;font-size:15px;letter-spacing:0.8px">off</div>
<div class="t s" style="left:181.6px;top:111.7px;font-size:15px">on</div>
<div class="t s" style="left:174.4px;top:155px;font-size:15px;letter-spacing:0.8px">off</div>
<div class="t s" style="left:176px;top:261.9px;font-size:15px">on</div>
<div class="t s" style="left:271px;top:4.2px;font-size:12px">Exp.</div>
<div class="t s" style="left:271px;top:156.2px;font-size:12px">Sim.</div>
<div class="t" style="left:0.5px;top:58px;font-size:13px;color:#222">(a)</div>
<div class="t" style="left:0.5px;top:204px;font-size:13px;color:#222">(b)</div>
<div class="rot" style="left:17.6px;top:109.5px;font-size:10.6px">Polarization Angle</div>
<div class="rot" style="left:32px;top:88.2px;font-size:10.5px">(Degree)</div>
<div class="rot" style="left:17.9px;top:253.4px;font-size:10.6px">Polarization Angle</div>
<div class="rot" style="left:32px;top:233px;font-size:10.5px">(Degree)</div>
<div class="t" style="left:140.2px;top:300.5px;font-size:11.5px;letter-spacing:0.33px;color:#222">Frequency (THz)</div>
</body></html>
